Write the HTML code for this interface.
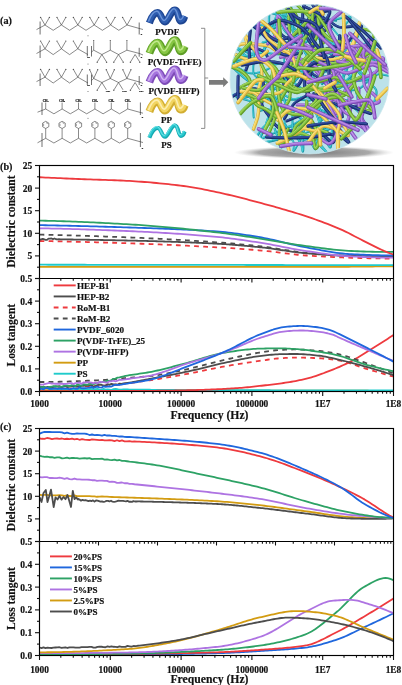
<!DOCTYPE html>
<html><head><meta charset="utf-8"><style>
html,body{margin:0;padding:0;background:#fff;width:402px;height:685px;overflow:hidden}
svg{display:block;will-change:transform}
text{font-family:"Liberation Serif",serif;font-weight:bold;fill:#111;stroke:#111;stroke-width:0.18px}
</style></head><body>
<svg width="402" height="685" viewBox="0 0 402 685">
<defs>
<clipPath id="cbu"><rect x="40.10" y="166.10" width="352.80" height="111.80"/></clipPath>
<clipPath id="cbl"><rect x="40.10" y="279.10" width="352.80" height="111.80"/></clipPath>
<clipPath id="ccu"><rect x="40.10" y="429.10" width="352.80" height="111.80"/></clipPath>
<clipPath id="ccl"><rect x="40.10" y="542.10" width="352.80" height="112.80"/></clipPath>
<clipPath id="sph"><ellipse cx="309.6" cy="79.2" rx="79.5" ry="74.7"/></clipPath>
<radialGradient id="sg" cx="0.5" cy="0.5" r="0.5"><stop offset="0" stop-color="#7a7a7a" stop-opacity="1"/><stop offset="0.7" stop-color="#9a9a9a" stop-opacity="0.85"/><stop offset="1" stop-color="#d0d0d0" stop-opacity="0"/></radialGradient>
</defs>
<g clip-path="url(#cbu)">
<path d="M39.5,266.97 L42.5,266.97 L45.5,266.97 L48.5,266.97 L51.5,266.97 L54.5,266.97 L57.5,266.97 L60.5,266.97 L63.5,266.97 L66.5,266.97 L69.5,266.97 L72.5,266.97 L75.5,266.97 L78.5,266.97 L81.5,266.97 L84.5,266.97 L87.5,266.97 L90.5,266.97 L93.5,266.97 L96.5,266.97 L99.5,266.97 L102.5,266.97 L105.5,266.97 L108.5,266.97 L111.5,266.97 L114.5,266.97 L117.5,266.97 L120.5,266.97 L123.5,266.97 L126.5,266.97 L129.5,266.97 L132.5,266.97 L135.5,266.97 L138.5,266.97 L141.5,266.97 L144.5,266.97 L147.5,266.97 L150.5,266.97 L153.5,266.97 L156.5,266.97 L159.5,266.97 L162.5,266.97 L165.5,266.97 L168.5,266.97 L171.5,266.97 L174.5,266.97 L177.5,266.97 L180.5,266.97 L183.5,266.97 L186.5,266.97 L189.5,266.97 L192.5,266.97 L195.5,266.97 L198.5,266.97 L201.5,266.97 L204.5,266.97 L207.5,266.97 L210.5,266.97 L213.5,266.97 L216.5,266.97 L219.5,266.97 L222.5,266.97 L225.5,266.97 L228.5,266.97 L231.5,266.97 L234.5,266.97 L237.5,266.97 L240.5,266.97 L243.5,266.97 L246.5,266.97 L249.5,266.97 L252.5,266.97 L255.5,266.97 L258.5,266.97 L261.5,266.97 L264.5,266.97 L267.5,266.97 L270.5,266.97 L273.5,266.97 L276.5,266.97 L279.5,266.97 L282.5,266.97 L285.5,266.97 L288.5,266.97 L291.5,266.97 L294.5,266.97 L297.5,266.97 L300.5,266.97 L303.5,266.97 L306.5,266.97 L309.5,266.96 L312.5,266.95 L315.5,266.94 L318.5,266.93 L321.5,266.92 L324.5,266.90 L327.5,266.88 L330.5,266.87 L333.5,266.85 L336.5,266.82 L339.5,266.80 L342.5,266.78 L345.5,266.75 L348.5,266.73 L351.5,266.70 L354.5,266.67 L357.5,266.64 L360.5,266.62 L363.5,266.59 L366.5,266.56 L369.5,266.53 L372.5,266.50 L375.5,266.47 L378.5,266.44 L381.5,266.41 L384.5,266.38 L387.5,266.35 L390.5,266.32 L393.5,266.30" fill="none" stroke="#D39C12" stroke-width="1.80" stroke-linejoin="round" stroke-linecap="butt" />
<path d="M39.5,264.71 L42.5,264.72 L45.5,264.72 L48.5,264.73 L51.5,264.73 L54.5,264.73 L57.5,264.74 L60.5,264.74 L63.5,264.74 L66.5,264.75 L69.5,264.75 L72.5,264.76 L75.5,264.76 L78.5,264.76 L81.5,264.77 L84.5,264.77 L87.5,264.78 L90.5,264.78 L93.5,264.78 L96.5,264.79 L99.5,264.79 L102.5,264.79 L105.5,264.80 L108.5,264.80 L111.5,264.81 L114.5,264.81 L117.5,264.81 L120.5,264.82 L123.5,264.82 L126.5,264.83 L129.5,264.83 L132.5,264.83 L135.5,264.84 L138.5,264.84 L141.5,264.84 L144.5,264.85 L147.5,264.85 L150.5,264.86 L153.5,264.86 L156.5,264.86 L159.5,264.87 L162.5,264.87 L165.5,264.87 L168.5,264.88 L171.5,264.88 L174.5,264.89 L177.5,264.89 L180.5,264.89 L183.5,264.90 L186.5,264.90 L189.5,264.91 L192.5,264.91 L195.5,264.91 L198.5,264.92 L201.5,264.92 L204.5,264.92 L207.5,264.93 L210.5,264.93 L213.5,264.94 L216.5,264.94 L219.5,264.94 L222.5,264.95 L225.5,264.95 L228.5,264.96 L231.5,264.96 L234.5,264.96 L237.5,264.97 L240.5,264.97 L243.5,264.97 L246.5,264.98 L249.5,264.98 L252.5,264.99 L255.5,264.99 L258.5,264.99 L261.5,265.00 L264.5,265.00 L267.5,265.01 L270.5,265.01 L273.5,265.01 L276.5,265.02 L279.5,265.02 L282.5,265.02 L285.5,265.03 L288.5,265.03 L291.5,265.04 L294.5,265.04 L297.5,265.04 L300.5,265.05 L303.5,265.05 L306.5,265.05 L309.5,265.06 L312.5,265.06 L315.5,265.07 L318.5,265.07 L321.5,265.07 L324.5,265.08 L327.5,265.08 L330.5,265.09 L333.5,265.09 L336.5,265.09 L339.5,265.10 L342.5,265.10 L345.5,265.10 L348.5,265.11 L351.5,265.11 L354.5,265.12 L357.5,265.12 L360.5,265.12 L363.5,265.13 L366.5,265.13 L369.5,265.14 L372.5,265.14 L375.5,265.14 L378.5,265.15 L381.5,265.15 L384.5,265.15 L387.5,265.16 L390.5,265.16 L393.5,265.17" fill="none" stroke="#1FCBCB" stroke-width="1.80" stroke-linejoin="round" stroke-linecap="butt" />
<path d="M39.5,240.98 L42.5,241.03 L45.5,241.08 L48.5,241.14 L51.5,241.19 L54.5,241.25 L57.5,241.31 L60.5,241.38 L63.5,241.44 L66.5,241.51 L69.5,241.58 L72.5,241.65 L75.5,241.72 L78.5,241.80 L81.5,241.87 L84.5,241.95 L87.5,242.03 L90.5,242.11 L93.5,242.20 L96.5,242.28 L99.5,242.37 L102.5,242.46 L105.5,242.55 L108.5,242.64 L111.5,242.73 L114.5,242.82 L117.5,242.92 L120.5,243.01 L123.5,243.11 L126.5,243.21 L129.5,243.31 L132.5,243.41 L135.5,243.51 L138.5,243.62 L141.5,243.73 L144.5,243.84 L147.5,243.96 L150.5,244.07 L153.5,244.19 L156.5,244.32 L159.5,244.44 L162.5,244.57 L165.5,244.70 L168.5,244.83 L171.5,244.97 L174.5,245.11 L177.5,245.25 L180.5,245.39 L183.5,245.53 L186.5,245.68 L189.5,245.83 L192.5,245.98 L195.5,246.14 L198.5,246.29 L201.5,246.45 L204.5,246.61 L207.5,246.78 L210.5,246.94 L213.5,247.11 L216.5,247.28 L219.5,247.46 L222.5,247.64 L225.5,247.82 L228.5,248.02 L231.5,248.21 L234.5,248.42 L237.5,248.63 L240.5,248.85 L243.5,249.07 L246.5,249.30 L249.5,249.53 L252.5,249.77 L255.5,250.02 L258.5,250.28 L261.5,250.54 L264.5,250.82 L267.5,251.14 L270.5,251.48 L273.5,251.84 L276.5,252.21 L279.5,252.59 L282.5,252.97 L285.5,253.35 L288.5,253.72 L291.5,254.08 L294.5,254.43 L297.5,254.74 L300.5,255.03 L303.5,255.29 L306.5,255.51 L309.5,255.71 L312.5,255.91 L315.5,256.10 L318.5,256.28 L321.5,256.46 L324.5,256.63 L327.5,256.79 L330.5,256.94 L333.5,257.08 L336.5,257.21 L339.5,257.34 L342.5,257.46 L345.5,257.56 L348.5,257.66 L351.5,257.75 L354.5,257.84 L357.5,257.92 L360.5,258.01 L363.5,258.09 L366.5,258.16 L369.5,258.24 L372.5,258.30 L375.5,258.37 L378.5,258.43 L381.5,258.48 L384.5,258.52 L387.5,258.56 L390.5,258.59 L393.5,258.61" fill="none" stroke="#EE3A3E" stroke-width="1.80" stroke-linejoin="round" stroke-linecap="butt" stroke-dasharray="4.8,4.3" />
<path d="M39.5,234.66 L42.5,234.71 L45.5,234.77 L48.5,234.84 L51.5,234.90 L54.5,234.97 L57.5,235.04 L60.5,235.12 L63.5,235.20 L66.5,235.28 L69.5,235.36 L72.5,235.44 L75.5,235.53 L78.5,235.62 L81.5,235.71 L84.5,235.81 L87.5,235.91 L90.5,236.00 L93.5,236.11 L96.5,236.21 L99.5,236.31 L102.5,236.42 L105.5,236.53 L108.5,236.64 L111.5,236.75 L114.5,236.86 L117.5,236.97 L120.5,237.09 L123.5,237.21 L126.5,237.32 L129.5,237.44 L132.5,237.57 L135.5,237.69 L138.5,237.82 L141.5,237.95 L144.5,238.09 L147.5,238.23 L150.5,238.37 L153.5,238.51 L156.5,238.66 L159.5,238.81 L162.5,238.97 L165.5,239.13 L168.5,239.29 L171.5,239.45 L174.5,239.62 L177.5,239.79 L180.5,239.96 L183.5,240.14 L186.5,240.32 L189.5,240.51 L192.5,240.69 L195.5,240.88 L198.5,241.08 L201.5,241.27 L204.5,241.47 L207.5,241.68 L210.5,241.88 L213.5,242.09 L216.5,242.30 L219.5,242.52 L222.5,242.75 L225.5,242.99 L228.5,243.23 L231.5,243.49 L234.5,243.75 L237.5,244.02 L240.5,244.30 L243.5,244.59 L246.5,244.89 L249.5,245.19 L252.5,245.51 L255.5,245.83 L258.5,246.15 L261.5,246.49 L264.5,246.85 L267.5,247.25 L270.5,247.68 L273.5,248.13 L276.5,248.60 L279.5,249.08 L282.5,249.56 L285.5,250.04 L288.5,250.51 L291.5,250.96 L294.5,251.40 L297.5,251.81 L300.5,252.19 L303.5,252.53 L306.5,252.82 L309.5,253.10 L312.5,253.37 L315.5,253.63 L318.5,253.88 L321.5,254.12 L324.5,254.36 L327.5,254.58 L330.5,254.79 L333.5,255.00 L336.5,255.19 L339.5,255.37 L342.5,255.53 L345.5,255.69 L348.5,255.83 L351.5,255.96 L354.5,256.09 L357.5,256.22 L360.5,256.34 L363.5,256.46 L366.5,256.57 L369.5,256.68 L372.5,256.78 L375.5,256.87 L378.5,256.96 L381.5,257.04 L384.5,257.11 L387.5,257.17 L390.5,257.22 L393.5,257.26" fill="none" stroke="#4D4D4D" stroke-width="1.80" stroke-linejoin="round" stroke-linecap="butt" stroke-dasharray="4.8,4.3" />
<path d="M39.5,239.27 L41.0,239.56 L42.5,238.82 L44.0,239.22 L45.5,239.92 L47.0,239.94 L48.5,238.56 L50.0,238.72 L51.5,238.46 L53.0,239.17 L54.5,238.50 L56.0,239.25 L57.5,239.47 L59.0,239.19 L60.5,239.41 L62.0,239.37 L63.5,239.39 L65.0,239.41 L66.5,239.43 L68.0,239.45 L69.5,239.47 L71.0,239.49 L72.5,239.51 L74.0,239.53 L75.5,239.55 L77.0,239.58 L78.5,239.60 L80.0,239.62 L81.5,239.64 L83.0,239.67 L84.5,239.69 L86.0,239.72 L87.5,239.74 L89.0,239.77 L90.5,239.80 L92.0,239.82 L93.5,239.85 L95.0,239.88 L96.5,239.90 L98.0,239.93 L99.5,239.96 L101.0,239.99 L102.5,240.02 L104.0,240.05 L105.5,240.08 L107.0,240.11 L108.5,240.14 L110.0,240.17 L111.5,240.20 L113.0,240.23 L114.5,240.26 L116.0,240.29 L117.5,240.32 L119.0,240.35 L120.5,240.38 L122.0,240.41 L123.5,240.44 L125.0,240.48 L126.5,240.51 L128.0,240.54 L129.5,240.57 L131.0,240.61 L132.5,240.64 L134.0,240.67 L135.5,240.71 L137.0,240.74 L138.5,240.78 L140.0,240.82 L141.5,240.86 L143.0,240.89 L144.5,240.93 L146.0,240.97 L147.5,241.01 L149.0,241.05 L150.5,241.09 L152.0,241.14 L153.5,241.18 L155.0,241.22 L156.5,241.27 L158.0,241.31 L159.5,241.36 L161.0,241.40 L162.5,241.45 L164.0,241.50 L165.5,241.54 L167.0,241.59 L168.5,241.64 L170.0,241.69 L171.5,241.75 L173.0,241.80 L174.5,241.85 L176.0,241.90 L177.5,241.96 L179.0,242.01 L180.5,242.07 L182.0,242.13 L183.5,242.18 L185.0,242.24 L186.5,242.30 L188.0,242.36 L189.5,242.42 L191.0,242.48 L192.5,242.55 L194.0,242.61 L195.5,242.68 L197.0,242.74 L198.5,242.81 L200.0,242.87 L201.5,242.94 L203.0,243.01 L204.5,243.08 L206.0,243.15 L207.5,243.22 L209.0,243.29 L210.5,243.37 L212.0,243.44 L213.5,243.52 L215.0,243.59 L216.5,243.67 L218.0,243.75 L219.5,243.83 L221.0,243.92 L222.5,244.01 L224.0,244.10 L225.5,244.20 L227.0,244.31 L228.5,244.41 L230.0,244.52 L231.5,244.63 L233.0,244.75 L234.5,244.87 L236.0,244.99 L237.5,245.12 L239.0,245.24 L240.5,245.37 L242.0,245.50 L243.5,245.64 L245.0,245.78 L246.5,245.91 L248.0,246.05 L249.5,246.20 L251.0,246.34 L252.5,246.49 L254.0,246.63 L255.5,246.78 L257.0,246.93 L258.5,247.08 L260.0,247.23 L261.5,247.38 L263.0,247.55 L264.5,247.72 L266.0,247.90 L267.5,248.09 L269.0,248.28 L270.5,248.48 L272.0,248.69 L273.5,248.91 L275.0,249.12 L276.5,249.34 L278.0,249.57 L279.5,249.79 L281.0,250.02 L282.5,250.24 L284.0,250.47 L285.5,250.70 L287.0,250.92 L288.5,251.14 L290.0,251.35 L291.5,251.56 L293.0,251.77 L294.5,251.97 L296.0,252.16 L297.5,252.35 L299.0,252.53 L300.5,252.70 L302.0,252.85 L303.5,253.00 L305.0,253.14 L306.5,253.26 L308.0,253.39 L309.5,253.51 L311.0,253.64 L312.5,253.76 L314.0,253.88 L315.5,254.00 L317.0,254.12 L318.5,254.24 L320.0,254.35 L321.5,254.46 L323.0,254.57 L324.5,254.68 L326.0,254.79 L327.5,254.89 L329.0,254.99 L330.5,255.08 L332.0,255.17 L333.5,255.26 L335.0,255.34 L336.5,255.42 L338.0,255.50 L339.5,255.57 L341.0,255.63 L342.5,255.69 L344.0,255.74 L345.5,255.79 L347.0,255.83 L348.5,255.87 L350.0,255.90 L351.5,255.93 L353.0,255.95 L354.5,255.98 L356.0,256.00 L357.5,256.03 L359.0,256.05 L360.5,256.07 L362.0,256.10 L363.5,256.12 L365.0,256.14 L366.5,256.16 L368.0,256.18 L369.5,256.20 L371.0,256.21 L372.5,256.23 L374.0,256.25 L375.5,256.26 L377.0,256.28 L378.5,256.29 L380.0,256.30 L381.5,256.31 L383.0,256.32 L384.5,256.33 L386.0,256.34 L387.5,256.34 L389.0,256.35 L390.5,256.35 L392.0,256.35 L393.5,256.35" fill="none" stroke="#4D4D4D" stroke-width="1.80" stroke-linejoin="round" stroke-linecap="butt" />
<path d="M39.5,228.33 L42.5,228.37 L45.5,228.42 L48.5,228.47 L51.5,228.53 L54.5,228.59 L57.5,228.65 L60.5,228.72 L63.5,228.79 L66.5,228.87 L69.5,228.95 L72.5,229.03 L75.5,229.12 L78.5,229.21 L81.5,229.31 L84.5,229.40 L87.5,229.50 L90.5,229.60 L93.5,229.71 L96.5,229.81 L99.5,229.92 L102.5,230.04 L105.5,230.15 L108.5,230.27 L111.5,230.38 L114.5,230.50 L117.5,230.62 L120.5,230.75 L123.5,230.87 L126.5,230.99 L129.5,231.12 L132.5,231.25 L135.5,231.39 L138.5,231.53 L141.5,231.67 L144.5,231.82 L147.5,231.97 L150.5,232.13 L153.5,232.29 L156.5,232.46 L159.5,232.63 L162.5,232.81 L165.5,232.99 L168.5,233.18 L171.5,233.37 L174.5,233.56 L177.5,233.77 L180.5,233.97 L183.5,234.19 L186.5,234.40 L189.5,234.62 L192.5,234.85 L195.5,235.09 L198.5,235.32 L201.5,235.57 L204.5,235.82 L207.5,236.07 L210.5,236.33 L213.5,236.60 L216.5,236.87 L219.5,237.15 L222.5,237.46 L225.5,237.80 L228.5,238.15 L231.5,238.52 L234.5,238.91 L237.5,239.32 L240.5,239.74 L243.5,240.17 L246.5,240.61 L249.5,241.06 L252.5,241.52 L255.5,241.97 L258.5,242.44 L261.5,242.90 L264.5,243.39 L267.5,243.91 L270.5,244.45 L273.5,245.01 L276.5,245.59 L279.5,246.18 L282.5,246.77 L285.5,247.36 L288.5,247.94 L291.5,248.52 L294.5,249.08 L297.5,249.62 L300.5,250.13 L303.5,250.61 L306.5,251.06 L309.5,251.50 L312.5,251.95 L315.5,252.40 L318.5,252.85 L321.5,253.29 L324.5,253.72 L327.5,254.13 L330.5,254.53 L333.5,254.90 L336.5,255.25 L339.5,255.56 L342.5,255.84 L345.5,256.08 L348.5,256.27 L351.5,256.43 L354.5,256.57 L357.5,256.71 L360.5,256.85 L363.5,256.98 L366.5,257.10 L369.5,257.22 L372.5,257.32 L375.5,257.42 L378.5,257.50 L381.5,257.57 L384.5,257.63 L387.5,257.67 L390.5,257.70 L393.5,257.71" fill="none" stroke="#AE73E2" stroke-width="1.80" stroke-linejoin="round" stroke-linecap="butt" />
<path d="M39.5,225.16 L42.5,225.21 L45.5,225.26 L48.5,225.32 L51.5,225.37 L54.5,225.43 L57.5,225.49 L60.5,225.56 L63.5,225.62 L66.5,225.69 L69.5,225.76 L72.5,225.83 L75.5,225.90 L78.5,225.98 L81.5,226.05 L84.5,226.13 L87.5,226.21 L90.5,226.29 L93.5,226.38 L96.5,226.46 L99.5,226.55 L102.5,226.64 L105.5,226.73 L108.5,226.82 L111.5,226.91 L114.5,227.00 L117.5,227.10 L120.5,227.19 L123.5,227.29 L126.5,227.39 L129.5,227.49 L132.5,227.58 L135.5,227.68 L138.5,227.78 L141.5,227.88 L144.5,227.98 L147.5,228.09 L150.5,228.19 L153.5,228.30 L156.5,228.40 L159.5,228.51 L162.5,228.63 L165.5,228.74 L168.5,228.86 L171.5,228.99 L174.5,229.11 L177.5,229.24 L180.5,229.38 L183.5,229.52 L186.5,229.67 L189.5,229.82 L192.5,229.97 L195.5,230.13 L198.5,230.30 L201.5,230.48 L204.5,230.66 L207.5,230.85 L210.5,231.04 L213.5,231.25 L216.5,231.46 L219.5,231.68 L222.5,231.95 L225.5,232.25 L228.5,232.57 L231.5,232.93 L234.5,233.31 L237.5,233.71 L240.5,234.14 L243.5,234.58 L246.5,235.04 L249.5,235.51 L252.5,236.00 L255.5,236.49 L258.5,236.98 L261.5,237.49 L264.5,238.03 L267.5,238.62 L270.5,239.26 L273.5,239.94 L276.5,240.64 L279.5,241.36 L282.5,242.09 L285.5,242.83 L288.5,243.56 L291.5,244.29 L294.5,244.99 L297.5,245.67 L300.5,246.32 L303.5,246.92 L306.5,247.48 L309.5,248.03 L312.5,248.60 L315.5,249.17 L318.5,249.73 L321.5,250.29 L324.5,250.84 L327.5,251.37 L330.5,251.87 L333.5,252.34 L336.5,252.77 L339.5,253.16 L342.5,253.50 L345.5,253.78 L348.5,254.01 L351.5,254.17 L354.5,254.32 L357.5,254.46 L360.5,254.60 L363.5,254.73 L366.5,254.86 L369.5,254.97 L372.5,255.08 L375.5,255.17 L378.5,255.25 L381.5,255.32 L384.5,255.37 L387.5,255.41 L390.5,255.44 L393.5,255.45" fill="none" stroke="#1F67DD" stroke-width="1.80" stroke-linejoin="round" stroke-linecap="butt" />
<path d="M39.5,220.64 L42.5,220.70 L45.5,220.76 L48.5,220.82 L51.5,220.89 L54.5,220.97 L57.5,221.05 L60.5,221.14 L63.5,221.24 L66.5,221.34 L69.5,221.45 L72.5,221.56 L75.5,221.67 L78.5,221.80 L81.5,221.92 L84.5,222.05 L87.5,222.18 L90.5,222.32 L93.5,222.46 L96.5,222.61 L99.5,222.75 L102.5,222.90 L105.5,223.06 L108.5,223.21 L111.5,223.37 L114.5,223.53 L117.5,223.70 L120.5,223.86 L123.5,224.03 L126.5,224.20 L129.5,224.37 L132.5,224.55 L135.5,224.74 L138.5,224.93 L141.5,225.14 L144.5,225.35 L147.5,225.57 L150.5,225.80 L153.5,226.04 L156.5,226.28 L159.5,226.54 L162.5,226.79 L165.5,227.06 L168.5,227.33 L171.5,227.60 L174.5,227.89 L177.5,228.17 L180.5,228.47 L183.5,228.77 L186.5,229.07 L189.5,229.38 L192.5,229.69 L195.5,230.01 L198.5,230.33 L201.5,230.66 L204.5,230.99 L207.5,231.32 L210.5,231.66 L213.5,232.00 L216.5,232.34 L219.5,232.69 L222.5,233.06 L225.5,233.45 L228.5,233.85 L231.5,234.27 L234.5,234.70 L237.5,235.14 L240.5,235.59 L243.5,236.05 L246.5,236.51 L249.5,236.98 L252.5,237.44 L255.5,237.91 L258.5,238.37 L261.5,238.83 L264.5,239.30 L267.5,239.79 L270.5,240.28 L273.5,240.79 L276.5,241.30 L279.5,241.82 L282.5,242.33 L285.5,242.85 L288.5,243.35 L291.5,243.85 L294.5,244.33 L297.5,244.80 L300.5,245.25 L303.5,245.67 L306.5,246.08 L309.5,246.48 L312.5,246.89 L315.5,247.30 L318.5,247.71 L321.5,248.11 L324.5,248.50 L327.5,248.88 L330.5,249.25 L333.5,249.59 L336.5,249.91 L339.5,250.20 L342.5,250.45 L345.5,250.67 L348.5,250.85 L351.5,251.00 L354.5,251.13 L357.5,251.26 L360.5,251.39 L363.5,251.50 L366.5,251.60 L369.5,251.69 L372.5,251.76 L375.5,251.80 L378.5,251.83 L381.5,251.83 L384.5,251.83 L387.5,251.83 L390.5,251.83 L393.5,251.83" fill="none" stroke="#2DA265" stroke-width="1.80" stroke-linejoin="round" stroke-linecap="butt" />
<path d="M39.5,177.25 L42.5,177.39 L45.5,177.54 L48.5,177.68 L51.5,177.81 L54.5,177.95 L57.5,178.09 L60.5,178.22 L63.5,178.36 L66.5,178.49 L69.5,178.62 L72.5,178.75 L75.5,178.87 L78.5,179.00 L81.5,179.12 L84.5,179.24 L87.5,179.35 L90.5,179.45 L93.5,179.55 L96.5,179.65 L99.5,179.75 L102.5,179.85 L105.5,179.95 L108.5,180.05 L111.5,180.16 L114.5,180.27 L117.5,180.39 L120.5,180.52 L123.5,180.66 L126.5,180.81 L129.5,180.97 L132.5,181.15 L135.5,181.34 L138.5,181.54 L141.5,181.75 L144.5,181.98 L147.5,182.22 L150.5,182.47 L153.5,182.73 L156.5,183.01 L159.5,183.30 L162.5,183.60 L165.5,183.91 L168.5,184.23 L171.5,184.56 L174.5,184.90 L177.5,185.26 L180.5,185.62 L183.5,186.00 L186.5,186.38 L189.5,186.81 L192.5,187.28 L195.5,187.80 L198.5,188.35 L201.5,188.92 L204.5,189.53 L207.5,190.15 L210.5,190.78 L213.5,191.42 L216.5,192.06 L219.5,192.71 L222.5,193.37 L225.5,194.05 L228.5,194.75 L231.5,195.46 L234.5,196.19 L237.5,196.94 L240.5,197.69 L243.5,198.46 L246.5,199.23 L249.5,200.01 L252.5,200.80 L255.5,201.60 L258.5,202.40 L261.5,203.20 L264.5,204.01 L267.5,204.82 L270.5,205.64 L273.5,206.47 L276.5,207.31 L279.5,208.15 L282.5,209.01 L285.5,209.88 L288.5,210.77 L291.5,211.67 L294.5,212.58 L297.5,213.51 L300.5,214.46 L303.5,215.43 L306.5,216.42 L309.5,217.43 L312.5,218.46 L315.5,219.51 L318.5,220.59 L321.5,221.69 L324.5,222.81 L327.5,223.96 L330.5,225.14 L333.5,226.35 L336.5,227.59 L339.5,228.86 L342.5,230.17 L345.5,231.58 L348.5,233.06 L351.5,234.61 L354.5,236.18 L357.5,237.76 L360.5,239.32 L363.5,240.84 L366.5,242.32 L369.5,243.84 L372.5,245.35 L375.5,246.86 L378.5,248.33 L381.5,249.76 L384.5,251.11 L387.5,252.38 L390.5,253.52 L393.5,254.54" fill="none" stroke="#EE3A3E" stroke-width="1.80" stroke-linejoin="round" stroke-linecap="butt" />
</g>
<g clip-path="url(#cbl)">
<path d="M39.5,390.14 L41.5,390.15 L43.5,390.15 L45.5,390.16 L47.5,390.16 L49.5,390.16 L51.5,390.17 L53.5,390.17 L55.5,390.17 L57.5,390.18 L59.5,390.18 L61.5,390.19 L63.5,390.19 L65.5,390.19 L67.5,390.20 L69.5,390.20 L71.5,390.21 L73.5,390.21 L75.5,390.21 L77.5,390.22 L79.5,390.22 L81.5,390.22 L83.5,390.23 L85.5,390.23 L87.5,390.24 L89.5,390.24 L91.5,390.24 L93.5,390.25 L95.5,390.25 L97.5,390.26 L99.5,390.26 L101.5,390.26 L103.5,390.27 L105.5,390.27 L107.5,390.27 L109.5,390.28 L111.5,390.28 L113.5,390.29 L115.5,390.29 L117.5,390.29 L119.5,390.30 L121.5,390.30 L123.5,390.30 L125.5,390.31 L127.5,390.31 L129.5,390.32 L131.5,390.32 L133.5,390.32 L135.5,390.33 L137.5,390.33 L139.5,390.34 L141.5,390.34 L143.5,390.34 L145.5,390.35 L147.5,390.35 L149.5,390.35 L151.5,390.36 L153.5,390.36 L155.5,390.37 L157.5,390.37 L159.5,390.37 L161.5,390.38 L163.5,390.38 L165.5,390.39 L167.5,390.39 L169.5,390.39 L171.5,390.40 L173.5,390.40 L175.5,390.40 L177.5,390.41 L179.5,390.41 L181.5,390.42 L183.5,390.42 L185.5,390.42 L187.5,390.43 L189.5,390.43 L191.5,390.44 L193.5,390.44 L195.5,390.44 L197.5,390.45 L199.5,390.45 L201.5,390.45 L203.5,390.46 L205.5,390.46 L207.5,390.47 L209.5,390.47 L211.5,390.47 L213.5,390.48 L215.5,390.48 L217.5,390.48 L219.5,390.49 L221.5,390.49 L223.5,390.50 L225.5,390.50 L227.5,390.50 L229.5,390.51 L231.5,390.51 L233.5,390.52 L235.5,390.52 L237.5,390.52 L239.5,390.53 L241.5,390.53 L243.5,390.53 L245.5,390.54 L247.5,390.54 L249.5,390.55 L251.5,390.55 L253.5,390.55 L255.5,390.56 L257.5,390.56 L259.5,390.57 L261.5,390.57 L263.5,390.57 L265.5,390.58 L267.5,390.58 L269.5,390.58 L271.5,390.59 L273.5,390.59 L275.5,390.60 L277.5,390.60 L279.5,390.60 L281.5,390.61 L283.5,390.61 L285.5,390.62 L287.5,390.62 L289.5,390.62 L291.5,390.63 L293.5,390.63 L295.5,390.63 L297.5,390.64 L299.5,390.64 L301.5,390.65 L303.5,390.65 L305.5,390.65 L307.5,390.66 L309.5,390.66 L311.5,390.66 L313.5,390.67 L315.5,390.67 L317.5,390.68 L319.5,390.68 L321.5,390.68 L323.5,390.69 L325.5,390.69 L327.5,390.70 L329.5,390.70 L331.5,390.70 L333.5,390.71 L335.5,390.71 L337.5,390.71 L339.5,390.72 L341.5,390.72 L343.5,390.73 L345.5,390.73 L347.5,390.73 L349.5,390.74 L351.5,390.74 L353.5,390.75 L355.5,390.75 L357.5,390.75 L359.5,390.76 L361.5,390.76 L363.5,390.76 L365.5,390.77 L367.5,390.77 L369.5,390.78 L371.5,390.78 L373.5,390.78 L375.5,390.79 L377.5,390.79 L379.5,390.80 L381.5,390.80 L383.5,390.80 L385.5,390.81 L387.5,390.81 L389.5,390.81 L391.5,390.82 L393.5,390.82" fill="none" stroke="#D39C12" stroke-width="1.80" stroke-linejoin="round" stroke-linecap="butt" />
<path d="M39.5,389.42 L41.5,388.53 L43.5,389.33 L45.5,388.10 L47.5,388.22 L49.5,389.01 L51.5,388.92 L53.5,388.76 L55.5,388.64 L57.5,389.11 L59.5,388.83 L61.5,389.32 L63.5,388.99 L65.5,389.10 L67.5,389.22 L69.5,389.79 L71.5,389.53 L73.5,388.89 L75.5,389.65 L77.5,389.58 L79.5,388.37 L81.5,389.44 L83.5,389.59 L85.5,389.50 L87.5,389.47 L89.5,389.22 L91.5,388.57 L93.5,389.92 L95.5,389.05 L97.5,388.77 L99.5,389.58 L101.5,390.04 L103.5,388.88 L105.5,389.56 L107.5,389.46 L109.5,389.67 L111.5,390.04 L113.5,389.13 L115.5,388.99 L117.5,389.26 L119.5,389.70 L121.5,389.60 L123.5,389.44 L125.5,389.49 L127.5,389.51 L129.5,389.53 L131.5,389.56 L133.5,389.58 L135.5,389.60 L137.5,389.63 L139.5,389.65 L141.5,389.67 L143.5,389.69 L145.5,389.72 L147.5,389.74 L149.5,389.76 L151.5,389.78 L153.5,389.80 L155.5,389.82 L157.5,389.85 L159.5,389.87 L161.5,389.89 L163.5,389.91 L165.5,389.93 L167.5,389.94 L169.5,389.96 L171.5,389.98 L173.5,390.00 L175.5,390.01 L177.5,390.03 L179.5,390.04 L181.5,390.06 L183.5,390.07 L185.5,390.08 L187.5,390.09 L189.5,390.11 L191.5,390.11 L193.5,390.12 L195.5,390.13 L197.5,390.14 L199.5,390.14 L201.5,390.15 L203.5,390.15 L205.5,390.16 L207.5,390.16 L209.5,390.16 L211.5,390.17 L213.5,390.17 L215.5,390.18 L217.5,390.18 L219.5,390.19 L221.5,390.19 L223.5,390.19 L225.5,390.20 L227.5,390.20 L229.5,390.21 L231.5,390.21 L233.5,390.21 L235.5,390.22 L237.5,390.22 L239.5,390.22 L241.5,390.23 L243.5,390.23 L245.5,390.24 L247.5,390.24 L249.5,390.24 L251.5,390.25 L253.5,390.25 L255.5,390.25 L257.5,390.26 L259.5,390.26 L261.5,390.26 L263.5,390.27 L265.5,390.27 L267.5,390.27 L269.5,390.27 L271.5,390.28 L273.5,390.28 L275.5,390.28 L277.5,390.29 L279.5,390.29 L281.5,390.29 L283.5,390.29 L285.5,390.30 L287.5,390.30 L289.5,390.30 L291.5,390.31 L293.5,390.31 L295.5,390.31 L297.5,390.31 L299.5,390.31 L301.5,390.32 L303.5,390.32 L305.5,390.32 L307.5,390.32 L309.5,390.33 L311.5,390.33 L313.5,390.33 L315.5,390.33 L317.5,390.33 L319.5,390.34 L321.5,390.34 L323.5,390.34 L325.5,390.34 L327.5,390.34 L329.5,390.34 L331.5,390.35 L333.5,390.35 L335.5,390.35 L337.5,390.35 L339.5,390.35 L341.5,390.35 L343.5,390.35 L345.5,390.36 L347.5,390.36 L349.5,390.36 L351.5,390.36 L353.5,390.36 L355.5,390.36 L357.5,390.36 L359.5,390.36 L361.5,390.36 L363.5,390.36 L365.5,390.36 L367.5,390.37 L369.5,390.37 L371.5,390.37 L373.5,390.37 L375.5,390.37 L377.5,390.37 L379.5,390.37 L381.5,390.37 L383.5,390.37 L385.5,390.37 L387.5,390.37 L389.5,390.37 L391.5,390.37 L393.5,390.37" fill="none" stroke="#1FCBCB" stroke-width="1.80" stroke-linejoin="round" stroke-linecap="butt" />
<path d="M39.5,391.05 L41.5,391.05 L43.5,391.05 L45.5,391.05 L47.5,391.05 L49.5,391.05 L51.5,391.05 L53.5,391.04 L55.5,391.04 L57.5,391.04 L59.5,391.04 L61.5,391.04 L63.5,391.04 L65.5,391.04 L67.5,391.03 L69.5,391.03 L71.5,391.03 L73.5,391.03 L75.5,391.02 L77.5,391.02 L79.5,391.02 L81.5,391.02 L83.5,391.01 L85.5,391.01 L87.5,391.01 L89.5,391.00 L91.5,391.00 L93.5,390.99 L95.5,390.99 L97.5,390.99 L99.5,390.98 L101.5,390.98 L103.5,390.97 L105.5,390.97 L107.5,390.96 L109.5,390.96 L111.5,390.95 L113.5,390.95 L115.5,390.94 L117.5,390.94 L119.5,390.93 L121.5,390.92 L123.5,390.92 L125.5,390.91 L127.5,390.90 L129.5,390.90 L131.5,390.89 L133.5,390.88 L135.5,390.88 L137.5,390.87 L139.5,390.86 L141.5,390.86 L143.5,390.85 L145.5,390.84 L147.5,390.83 L149.5,390.82 L151.5,390.82 L153.5,390.80 L155.5,390.79 L157.5,390.77 L159.5,390.75 L161.5,390.73 L163.5,390.70 L165.5,390.68 L167.5,390.65 L169.5,390.61 L171.5,390.58 L173.5,390.54 L175.5,390.50 L177.5,390.46 L179.5,390.42 L181.5,390.38 L183.5,390.33 L185.5,390.29 L187.5,390.24 L189.5,390.19 L191.5,390.14 L193.5,390.09 L195.5,390.04 L197.5,389.99 L199.5,389.93 L201.5,389.88 L203.5,389.81 L205.5,389.75 L207.5,389.68 L209.5,389.60 L211.5,389.52 L213.5,389.43 L215.5,389.34 L217.5,389.24 L219.5,389.14 L221.5,389.03 L223.5,388.93 L225.5,388.81 L227.5,388.70 L229.5,388.57 L231.5,388.45 L233.5,388.32 L235.5,388.19 L237.5,388.06 L239.5,387.92 L241.5,387.78 L243.5,387.62 L245.5,387.45 L247.5,387.26 L249.5,387.07 L251.5,386.87 L253.5,386.65 L255.5,386.43 L257.5,386.21 L259.5,385.98 L261.5,385.74 L263.5,385.50 L265.5,385.26 L267.5,385.02 L269.5,384.78 L271.5,384.54 L273.5,384.30 L275.5,384.05 L277.5,383.80 L279.5,383.55 L281.5,383.28 L283.5,383.00 L285.5,382.71 L287.5,382.41 L289.5,382.09 L291.5,381.75 L293.5,381.40 L295.5,381.02 L297.5,380.63 L299.5,380.22 L301.5,379.78 L303.5,379.33 L305.5,378.86 L307.5,378.36 L309.5,377.85 L311.5,377.30 L313.5,376.71 L315.5,376.07 L317.5,375.40 L319.5,374.70 L321.5,373.97 L323.5,373.22 L325.5,372.46 L327.5,371.68 L329.5,370.90 L331.5,370.12 L333.5,369.32 L335.5,368.50 L337.5,367.67 L339.5,366.81 L341.5,365.93 L343.5,365.03 L345.5,364.10 L347.5,363.14 L349.5,362.15 L351.5,361.11 L353.5,360.02 L355.5,358.88 L357.5,357.70 L359.5,356.48 L361.5,355.24 L363.5,353.99 L365.5,352.73 L367.5,351.47 L369.5,350.22 L371.5,348.99 L373.5,347.75 L375.5,346.51 L377.5,345.25 L379.5,343.99 L381.5,342.73 L383.5,341.46 L385.5,340.18 L387.5,338.89 L389.5,337.60 L391.5,336.30 L393.5,335.00" fill="none" stroke="#EE3A3E" stroke-width="1.80" stroke-linejoin="round" stroke-linecap="butt" />
<path d="M39.5,386.98 L41.5,386.98 L43.5,386.97 L45.5,386.97 L47.5,386.96 L49.5,386.94 L51.5,386.93 L53.5,386.91 L55.5,386.89 L57.5,386.86 L59.5,386.84 L61.5,386.81 L63.5,386.78 L65.5,386.74 L67.5,386.71 L69.5,386.67 L71.5,386.63 L73.5,386.58 L75.5,386.54 L77.5,386.49 L79.5,386.45 L81.5,386.39 L83.5,386.34 L85.5,386.29 L87.5,386.23 L89.5,386.18 L91.5,386.12 L93.5,386.06 L95.5,385.99 L97.5,385.93 L99.5,385.87 L101.5,385.79 L103.5,385.70 L105.5,385.59 L107.5,385.46 L109.5,385.31 L111.5,385.15 L113.5,384.97 L115.5,384.77 L117.5,384.56 L119.5,384.34 L121.5,384.11 L123.5,383.86 L125.5,383.61 L127.5,383.35 L129.5,383.09 L131.5,382.81 L133.5,382.53 L135.5,382.25 L137.5,381.97 L139.5,381.68 L141.5,381.40 L143.5,381.11 L145.5,380.83 L147.5,380.55 L149.5,380.27 L151.5,379.99 L153.5,379.70 L155.5,379.41 L157.5,379.10 L159.5,378.79 L161.5,378.46 L163.5,378.13 L165.5,377.80 L167.5,377.45 L169.5,377.10 L171.5,376.75 L173.5,376.39 L175.5,376.03 L177.5,375.67 L179.5,375.31 L181.5,374.94 L183.5,374.57 L185.5,374.20 L187.5,373.84 L189.5,373.46 L191.5,373.08 L193.5,372.68 L195.5,372.28 L197.5,371.87 L199.5,371.46 L201.5,371.04 L203.5,370.62 L205.5,370.20 L207.5,369.78 L209.5,369.36 L211.5,368.95 L213.5,368.54 L215.5,368.14 L217.5,367.74 L219.5,367.35 L221.5,366.98 L223.5,366.61 L225.5,366.26 L227.5,365.91 L229.5,365.56 L231.5,365.22 L233.5,364.89 L235.5,364.55 L237.5,364.23 L239.5,363.90 L241.5,363.58 L243.5,363.27 L245.5,362.95 L247.5,362.65 L249.5,362.34 L251.5,362.04 L253.5,361.75 L255.5,361.46 L257.5,361.17 L259.5,360.89 L261.5,360.61 L263.5,360.33 L265.5,360.04 L267.5,359.74 L269.5,359.46 L271.5,359.18 L273.5,358.92 L275.5,358.68 L277.5,358.48 L279.5,358.31 L281.5,358.18 L283.5,358.05 L285.5,357.93 L287.5,357.82 L289.5,357.72 L291.5,357.65 L293.5,357.61 L295.5,357.60 L297.5,357.61 L299.5,357.63 L301.5,357.66 L303.5,357.70 L305.5,357.74 L307.5,357.80 L309.5,357.86 L311.5,357.93 L313.5,358.01 L315.5,358.09 L317.5,358.17 L319.5,358.26 L321.5,358.35 L323.5,358.49 L325.5,358.65 L327.5,358.84 L329.5,359.05 L331.5,359.29 L333.5,359.55 L335.5,359.82 L337.5,360.13 L339.5,360.50 L341.5,360.94 L343.5,361.43 L345.5,361.97 L347.5,362.55 L349.5,363.17 L351.5,363.81 L353.5,364.48 L355.5,365.16 L357.5,365.85 L359.5,366.54 L361.5,367.22 L363.5,367.89 L365.5,368.55 L367.5,369.18 L369.5,369.78 L371.5,370.35 L373.5,370.93 L375.5,371.50 L377.5,372.07 L379.5,372.64 L381.5,373.21 L383.5,373.77 L385.5,374.34 L387.5,374.90 L389.5,375.46 L391.5,376.02 L393.5,376.58" fill="none" stroke="#EE3A3E" stroke-width="1.80" stroke-linejoin="round" stroke-linecap="butt" stroke-dasharray="4.8,4.3" />
<path d="M39.5,386.54 L41.5,387.57 L43.5,386.50 L45.5,387.63 L47.5,386.93 L49.5,387.10 L51.5,387.33 L53.5,386.90 L55.5,386.52 L57.5,386.31 L59.5,386.10 L61.5,387.11 L63.5,386.59 L65.5,386.09 L67.5,387.19 L69.5,386.17 L71.5,386.33 L73.5,386.08 L75.5,386.55 L77.5,386.41 L79.5,386.37 L81.5,385.77 L83.5,385.73 L85.5,385.60 L87.5,385.64 L89.5,385.27 L91.5,385.22 L93.5,386.42 L95.5,386.33 L97.5,385.01 L99.5,384.66 L101.5,384.85 L103.5,385.54 L105.5,385.53 L107.5,384.18 L109.5,384.91 L111.5,383.81 L113.5,384.44 L115.5,384.44 L117.5,384.74 L119.5,383.53 L121.5,383.78 L123.5,383.44 L125.5,383.09 L127.5,382.85 L129.5,382.58 L131.5,382.28 L133.5,381.96 L135.5,381.61 L137.5,381.24 L139.5,380.87 L141.5,380.48 L143.5,380.09 L145.5,379.70 L147.5,379.31 L149.5,378.94 L151.5,378.57 L153.5,378.20 L155.5,377.83 L157.5,377.46 L159.5,377.09 L161.5,376.71 L163.5,376.34 L165.5,375.96 L167.5,375.58 L169.5,375.20 L171.5,374.81 L173.5,374.42 L175.5,374.03 L177.5,373.63 L179.5,373.23 L181.5,372.82 L183.5,372.41 L185.5,371.99 L187.5,371.57 L189.5,371.13 L191.5,370.69 L193.5,370.22 L195.5,369.75 L197.5,369.27 L199.5,368.78 L201.5,368.29 L203.5,367.80 L205.5,367.30 L207.5,366.80 L209.5,366.30 L211.5,365.81 L213.5,365.33 L215.5,364.85 L217.5,364.37 L219.5,363.91 L221.5,363.46 L223.5,363.03 L225.5,362.61 L227.5,362.19 L229.5,361.76 L231.5,361.33 L233.5,360.90 L235.5,360.47 L237.5,360.05 L239.5,359.63 L241.5,359.22 L243.5,358.81 L245.5,358.42 L247.5,358.04 L249.5,357.67 L251.5,357.32 L253.5,356.98 L255.5,356.67 L257.5,356.37 L259.5,356.10 L261.5,355.85 L263.5,355.62 L265.5,355.39 L267.5,355.16 L269.5,354.95 L271.5,354.75 L273.5,354.57 L275.5,354.42 L277.5,354.31 L279.5,354.22 L281.5,354.17 L283.5,354.13 L285.5,354.09 L287.5,354.05 L289.5,354.02 L291.5,354.00 L293.5,353.99 L295.5,353.99 L297.5,354.01 L299.5,354.07 L301.5,354.15 L303.5,354.26 L305.5,354.39 L307.5,354.54 L309.5,354.71 L311.5,354.90 L313.5,355.10 L315.5,355.30 L317.5,355.52 L319.5,355.74 L321.5,355.98 L323.5,356.29 L325.5,356.65 L327.5,357.06 L329.5,357.51 L331.5,357.97 L333.5,358.43 L335.5,358.89 L337.5,359.34 L339.5,359.80 L341.5,360.27 L343.5,360.76 L345.5,361.25 L347.5,361.75 L349.5,362.26 L351.5,362.78 L353.5,363.31 L355.5,363.84 L357.5,364.39 L359.5,364.93 L361.5,365.49 L363.5,366.04 L365.5,366.61 L367.5,367.17 L369.5,367.74 L371.5,368.32 L373.5,368.90 L375.5,369.50 L377.5,370.10 L379.5,370.72 L381.5,371.34 L383.5,371.97 L385.5,372.61 L387.5,373.25 L389.5,373.91 L391.5,374.56 L393.5,375.23" fill="none" stroke="#4D4D4D" stroke-width="1.80" stroke-linejoin="round" stroke-linecap="butt" />
<path d="M39.5,382.01 L41.5,382.01 L43.5,382.00 L45.5,381.98 L47.5,381.96 L49.5,381.94 L51.5,381.91 L53.5,381.88 L55.5,381.84 L57.5,381.80 L59.5,381.75 L61.5,381.70 L63.5,381.65 L65.5,381.59 L67.5,381.53 L69.5,381.47 L71.5,381.40 L73.5,381.33 L75.5,381.26 L77.5,381.18 L79.5,381.10 L81.5,381.02 L83.5,380.94 L85.5,380.85 L87.5,380.77 L89.5,380.68 L91.5,380.59 L93.5,380.50 L95.5,380.41 L97.5,380.32 L99.5,380.22 L101.5,380.12 L103.5,380.00 L105.5,379.87 L107.5,379.71 L109.5,379.55 L111.5,379.37 L113.5,379.19 L115.5,379.00 L117.5,378.80 L119.5,378.61 L121.5,378.42 L123.5,378.24 L125.5,378.06 L127.5,377.90 L129.5,377.75 L131.5,377.60 L133.5,377.46 L135.5,377.32 L137.5,377.18 L139.5,377.04 L141.5,376.89 L143.5,376.74 L145.5,376.57 L147.5,376.39 L149.5,376.19 L151.5,375.96 L153.5,375.71 L155.5,375.44 L157.5,375.14 L159.5,374.82 L161.5,374.48 L163.5,374.12 L165.5,373.74 L167.5,373.36 L169.5,372.95 L171.5,372.54 L173.5,372.12 L175.5,371.69 L177.5,371.26 L179.5,370.82 L181.5,370.38 L183.5,369.95 L185.5,369.51 L187.5,369.08 L189.5,368.64 L191.5,368.19 L193.5,367.71 L195.5,367.23 L197.5,366.73 L199.5,366.22 L201.5,365.71 L203.5,365.19 L205.5,364.66 L207.5,364.14 L209.5,363.61 L211.5,363.09 L213.5,362.57 L215.5,362.06 L217.5,361.55 L219.5,361.06 L221.5,360.58 L223.5,360.11 L225.5,359.66 L227.5,359.20 L229.5,358.75 L231.5,358.30 L233.5,357.84 L235.5,357.39 L237.5,356.94 L239.5,356.50 L241.5,356.06 L243.5,355.63 L245.5,355.21 L247.5,354.80 L249.5,354.39 L251.5,354.00 L253.5,353.62 L255.5,353.25 L257.5,352.90 L259.5,352.57 L261.5,352.25 L263.5,351.95 L265.5,351.63 L267.5,351.33 L269.5,351.03 L271.5,350.74 L273.5,350.49 L275.5,350.26 L277.5,350.08 L279.5,349.94 L281.5,349.85 L283.5,349.76 L285.5,349.67 L287.5,349.60 L289.5,349.54 L291.5,349.50 L293.5,349.47 L295.5,349.46 L297.5,349.49 L299.5,349.54 L301.5,349.61 L303.5,349.71 L305.5,349.83 L307.5,349.96 L309.5,350.11 L311.5,350.28 L313.5,350.45 L315.5,350.63 L317.5,350.81 L319.5,351.00 L321.5,351.20 L323.5,351.43 L325.5,351.70 L327.5,352.01 L329.5,352.34 L331.5,352.70 L333.5,353.08 L335.5,353.47 L337.5,353.89 L339.5,354.36 L341.5,354.87 L343.5,355.42 L345.5,356.01 L347.5,356.62 L349.5,357.26 L351.5,357.93 L353.5,358.61 L355.5,359.32 L357.5,360.03 L359.5,360.75 L361.5,361.48 L363.5,362.20 L365.5,362.92 L367.5,363.64 L369.5,364.35 L371.5,365.05 L373.5,365.76 L375.5,366.49 L377.5,367.22 L379.5,367.97 L381.5,368.72 L383.5,369.49 L385.5,370.26 L387.5,371.04 L389.5,371.82 L391.5,372.62 L393.5,373.42" fill="none" stroke="#4D4D4D" stroke-width="1.80" stroke-linejoin="round" stroke-linecap="butt" stroke-dasharray="4.8,4.3" />
<path d="M39.5,386.30 L41.5,387.42 L43.5,386.86 L45.5,387.28 L47.5,387.65 L49.5,386.90 L51.5,386.77 L53.5,386.02 L55.5,386.25 L57.5,386.53 L59.5,386.71 L61.5,386.80 L63.5,386.01 L65.5,385.38 L67.5,385.60 L69.5,386.45 L71.5,385.19 L73.5,385.42 L75.5,386.02 L77.5,384.41 L79.5,385.15 L81.5,385.53 L83.5,384.20 L85.5,384.52 L87.5,384.90 L89.5,383.46 L91.5,383.88 L93.5,384.04 L95.5,383.68 L97.5,383.06 L99.5,382.28 L101.5,382.32 L103.5,381.66 L105.5,381.32 L107.5,380.61 L109.5,380.81 L111.5,380.12 L113.5,378.82 L115.5,378.65 L117.5,377.63 L119.5,377.37 L121.5,376.80 L123.5,376.47 L125.5,375.98 L127.5,375.59 L129.5,375.23 L131.5,374.91 L133.5,374.60 L135.5,374.30 L137.5,374.02 L139.5,373.73 L141.5,373.45 L143.5,373.15 L145.5,372.84 L147.5,372.51 L149.5,372.16 L151.5,371.77 L153.5,371.37 L155.5,370.94 L157.5,370.50 L159.5,370.04 L161.5,369.56 L163.5,369.07 L165.5,368.57 L167.5,368.06 L169.5,367.54 L171.5,367.01 L173.5,366.48 L175.5,365.94 L177.5,365.41 L179.5,364.87 L181.5,364.33 L183.5,363.80 L185.5,363.27 L187.5,362.75 L189.5,362.21 L191.5,361.65 L193.5,361.06 L195.5,360.46 L197.5,359.85 L199.5,359.23 L201.5,358.60 L203.5,357.98 L205.5,357.36 L207.5,356.76 L209.5,356.16 L211.5,355.59 L213.5,355.04 L215.5,354.52 L217.5,354.03 L219.5,353.58 L221.5,353.17 L223.5,352.81 L225.5,352.49 L227.5,352.18 L229.5,351.87 L231.5,351.57 L233.5,351.28 L235.5,350.99 L237.5,350.71 L239.5,350.44 L241.5,350.18 L243.5,349.94 L245.5,349.71 L247.5,349.50 L249.5,349.30 L251.5,349.12 L253.5,348.97 L255.5,348.83 L257.5,348.72 L259.5,348.63 L261.5,348.57 L263.5,348.53 L265.5,348.49 L267.5,348.45 L269.5,348.42 L271.5,348.39 L273.5,348.37 L275.5,348.35 L277.5,348.34 L279.5,348.33 L281.5,348.34 L283.5,348.39 L285.5,348.46 L287.5,348.55 L289.5,348.67 L291.5,348.79 L293.5,348.92 L295.5,349.04 L297.5,349.19 L299.5,349.36 L301.5,349.55 L303.5,349.75 L305.5,349.98 L307.5,350.22 L309.5,350.47 L311.5,350.74 L313.5,351.01 L315.5,351.30 L317.5,351.59 L319.5,351.88 L321.5,352.18 L323.5,352.49 L325.5,352.83 L327.5,353.18 L329.5,353.56 L331.5,353.96 L333.5,354.38 L335.5,354.82 L337.5,355.30 L339.5,355.82 L341.5,356.40 L343.5,357.01 L345.5,357.66 L347.5,358.33 L349.5,359.03 L351.5,359.73 L353.5,360.45 L355.5,361.17 L357.5,361.88 L359.5,362.58 L361.5,363.27 L363.5,363.93 L365.5,364.56 L367.5,365.16 L369.5,365.71 L371.5,366.23 L373.5,366.74 L375.5,367.24 L377.5,367.73 L379.5,368.20 L381.5,368.66 L383.5,369.11 L385.5,369.55 L387.5,369.97 L389.5,370.38 L391.5,370.78 L393.5,371.16" fill="none" stroke="#2DA265" stroke-width="1.80" stroke-linejoin="round" stroke-linecap="butt" />
<path d="M39.5,384.41 L41.5,384.56 L43.5,384.40 L45.5,383.85 L47.5,383.36 L49.5,382.99 L51.5,383.65 L53.5,383.58 L55.5,383.75 L57.5,383.65 L59.5,383.74 L61.5,383.69 L63.5,384.00 L65.5,383.89 L67.5,383.70 L69.5,383.34 L71.5,383.07 L73.5,384.12 L75.5,383.04 L77.5,382.80 L79.5,382.50 L81.5,383.91 L83.5,382.48 L85.5,382.72 L87.5,382.25 L89.5,382.43 L91.5,382.62 L93.5,383.35 L95.5,382.40 L97.5,383.34 L99.5,381.73 L101.5,382.15 L103.5,382.06 L105.5,382.49 L107.5,382.56 L109.5,381.34 L111.5,381.25 L113.5,380.71 L115.5,381.27 L117.5,380.69 L119.5,379.70 L121.5,379.94 L123.5,379.66 L125.5,379.28 L127.5,379.00 L129.5,378.74 L131.5,378.48 L133.5,378.22 L135.5,377.95 L137.5,377.69 L139.5,377.41 L141.5,377.12 L143.5,376.82 L145.5,376.50 L147.5,376.15 L149.5,375.78 L151.5,375.37 L153.5,374.90 L155.5,374.39 L157.5,373.83 L159.5,373.23 L161.5,372.60 L163.5,371.94 L165.5,371.25 L167.5,370.54 L169.5,369.82 L171.5,369.08 L173.5,368.34 L175.5,367.60 L177.5,366.86 L179.5,366.13 L181.5,365.42 L183.5,364.73 L185.5,364.06 L187.5,363.41 L189.5,362.79 L191.5,362.18 L193.5,361.58 L195.5,360.99 L197.5,360.41 L199.5,359.83 L201.5,359.25 L203.5,358.67 L205.5,358.09 L207.5,357.51 L209.5,356.93 L211.5,356.34 L213.5,355.74 L215.5,355.13 L217.5,354.51 L219.5,353.87 L221.5,353.22 L223.5,352.55 L225.5,351.86 L227.5,351.13 L229.5,350.37 L231.5,349.58 L233.5,348.76 L235.5,347.92 L237.5,347.06 L239.5,346.20 L241.5,345.32 L243.5,344.45 L245.5,343.58 L247.5,342.73 L249.5,341.88 L251.5,341.06 L253.5,340.26 L255.5,339.49 L257.5,338.76 L259.5,338.06 L261.5,337.41 L263.5,336.80 L265.5,336.16 L267.5,335.53 L269.5,334.90 L271.5,334.28 L273.5,333.70 L275.5,333.15 L277.5,332.65 L279.5,332.21 L281.5,331.84 L283.5,331.54 L285.5,331.34 L287.5,331.17 L289.5,331.00 L291.5,330.85 L293.5,330.72 L295.5,330.62 L297.5,330.54 L299.5,330.49 L301.5,330.48 L303.5,330.51 L305.5,330.59 L307.5,330.69 L309.5,330.83 L311.5,330.99 L313.5,331.17 L315.5,331.36 L317.5,331.56 L319.5,331.78 L321.5,332.06 L323.5,332.40 L325.5,332.79 L327.5,333.25 L329.5,333.76 L331.5,334.32 L333.5,334.94 L335.5,335.81 L337.5,336.81 L339.5,337.73 L341.5,338.64 L343.5,339.54 L345.5,340.43 L347.5,341.31 L349.5,342.18 L351.5,343.05 L353.5,343.92 L355.5,344.78 L357.5,345.64 L359.5,346.49 L361.5,347.35 L363.5,348.20 L365.5,349.06 L367.5,349.92 L369.5,350.78 L371.5,351.64 L373.5,352.50 L375.5,353.35 L377.5,354.21 L379.5,355.06 L381.5,355.91 L383.5,356.76 L385.5,357.61 L387.5,358.46 L389.5,359.30 L391.5,360.15 L393.5,360.99" fill="none" stroke="#AE73E2" stroke-width="1.80" stroke-linejoin="round" stroke-linecap="butt" />
<path d="M39.5,389.42 L41.5,388.52 L43.5,389.29 L45.5,388.03 L47.5,388.12 L49.5,388.88 L51.5,388.75 L53.5,388.54 L55.5,388.38 L57.5,388.80 L59.5,388.46 L61.5,388.89 L63.5,388.49 L65.5,388.53 L67.5,388.58 L69.5,389.07 L71.5,388.74 L73.5,388.02 L75.5,388.69 L77.5,388.53 L79.5,387.22 L81.5,388.20 L83.5,388.25 L85.5,388.06 L87.5,387.93 L89.5,387.57 L91.5,386.81 L93.5,388.04 L95.5,387.06 L97.5,386.66 L99.5,387.35 L101.5,387.68 L103.5,386.35 L105.5,386.84 L107.5,386.51 L109.5,386.47 L111.5,386.56 L113.5,385.36 L115.5,384.91 L117.5,384.87 L119.5,384.98 L121.5,384.57 L123.5,384.08 L125.5,383.81 L127.5,383.52 L129.5,383.23 L131.5,382.94 L133.5,382.65 L135.5,382.36 L137.5,382.05 L139.5,381.73 L141.5,381.40 L143.5,381.05 L145.5,380.67 L147.5,380.28 L149.5,379.86 L151.5,379.40 L153.5,378.89 L155.5,378.34 L157.5,377.74 L159.5,377.10 L161.5,376.43 L163.5,375.72 L165.5,374.99 L167.5,374.24 L169.5,373.47 L171.5,372.68 L173.5,371.88 L175.5,371.08 L177.5,370.27 L179.5,369.46 L181.5,368.66 L183.5,367.87 L185.5,367.10 L187.5,366.34 L189.5,365.59 L191.5,364.84 L193.5,364.09 L195.5,363.34 L197.5,362.58 L199.5,361.82 L201.5,361.06 L203.5,360.29 L205.5,359.52 L207.5,358.74 L209.5,357.96 L211.5,357.16 L213.5,356.36 L215.5,355.55 L217.5,354.73 L219.5,353.90 L221.5,353.05 L223.5,352.20 L225.5,351.33 L227.5,350.42 L229.5,349.47 L231.5,348.49 L233.5,347.48 L235.5,346.45 L237.5,345.40 L239.5,344.34 L241.5,343.29 L243.5,342.23 L245.5,341.18 L247.5,340.15 L249.5,339.14 L251.5,338.15 L253.5,337.20 L255.5,336.28 L257.5,335.41 L259.5,334.59 L261.5,333.83 L263.5,333.10 L265.5,332.36 L267.5,331.61 L269.5,330.88 L271.5,330.16 L273.5,329.48 L275.5,328.85 L277.5,328.27 L279.5,327.77 L281.5,327.35 L283.5,327.03 L285.5,326.82 L287.5,326.64 L289.5,326.48 L291.5,326.33 L293.5,326.20 L295.5,326.09 L297.5,326.02 L299.5,325.97 L301.5,325.96 L303.5,326.00 L305.5,326.09 L307.5,326.21 L309.5,326.38 L311.5,326.57 L313.5,326.78 L315.5,327.01 L317.5,327.25 L319.5,327.52 L321.5,327.87 L323.5,328.30 L325.5,328.79 L327.5,329.35 L329.5,329.96 L331.5,330.61 L333.5,331.31 L335.5,332.20 L337.5,333.21 L339.5,334.18 L341.5,335.16 L343.5,336.15 L345.5,337.13 L347.5,338.12 L349.5,339.11 L351.5,340.11 L353.5,341.11 L355.5,342.11 L357.5,343.11 L359.5,344.12 L361.5,345.13 L363.5,346.14 L365.5,347.15 L367.5,348.17 L369.5,349.19 L371.5,350.21 L373.5,351.23 L375.5,352.26 L377.5,353.30 L379.5,354.33 L381.5,355.37 L383.5,356.41 L385.5,357.46 L387.5,358.51 L389.5,359.56 L391.5,360.61 L393.5,361.67" fill="none" stroke="#1F67DD" stroke-width="1.80" stroke-linejoin="round" stroke-linecap="butt" />
</g>
<path d="M53.7,285.40 H75.7" fill="none" stroke="#EE3A3E" stroke-width="1.90" stroke-linejoin="round" stroke-linecap="butt" />
<text x="77.00" y="288.80" font-size="9.10" text-anchor="start" >HEP-B1</text>
<path d="M53.7,296.44 H75.7" fill="none" stroke="#4D4D4D" stroke-width="1.90" stroke-linejoin="round" stroke-linecap="butt" />
<text x="77.00" y="299.84" font-size="9.10" text-anchor="start" >HEP-B2</text>
<path d="M53.7,307.48 H75.7" fill="none" stroke="#EE3A3E" stroke-width="1.90" stroke-linejoin="round" stroke-linecap="butt" stroke-dasharray="4.8,4.3" />
<text x="77.00" y="310.88" font-size="9.10" text-anchor="start" >RoM-B1</text>
<path d="M53.7,318.52 H75.7" fill="none" stroke="#4D4D4D" stroke-width="1.90" stroke-linejoin="round" stroke-linecap="butt" stroke-dasharray="4.8,4.3" />
<text x="77.00" y="321.92" font-size="9.10" text-anchor="start" >RoM-B2</text>
<path d="M53.7,329.56 H75.7" fill="none" stroke="#1F67DD" stroke-width="1.90" stroke-linejoin="round" stroke-linecap="butt" />
<text x="77.00" y="332.96" font-size="9.10" text-anchor="start" >PVDF_6020</text>
<path d="M53.7,340.60 H75.7" fill="none" stroke="#2DA265" stroke-width="1.90" stroke-linejoin="round" stroke-linecap="butt" />
<text x="77.00" y="344.00" font-size="9.10" text-anchor="start" >P(VDF-TrFE)_25</text>
<path d="M53.7,351.64 H75.7" fill="none" stroke="#AE73E2" stroke-width="1.90" stroke-linejoin="round" stroke-linecap="butt" />
<text x="77.00" y="355.04" font-size="9.10" text-anchor="start" >P(VDF-HFP)</text>
<path d="M53.7,362.68 H75.7" fill="none" stroke="#D39C12" stroke-width="1.90" stroke-linejoin="round" stroke-linecap="butt" />
<text x="77.00" y="366.08" font-size="9.10" text-anchor="start" >PP</text>
<path d="M53.7,373.72 H75.7" fill="none" stroke="#1FCBCB" stroke-width="1.90" stroke-linejoin="round" stroke-linecap="butt" />
<text x="77.00" y="377.12" font-size="9.10" text-anchor="start" >PS</text>
<rect x="39.50" y="165.50" width="354.00" height="226.00" fill="none" stroke="#000" stroke-width="1.15"/>
<line x1="39.50" y1="278.50" x2="393.50" y2="278.50" stroke="#000" stroke-width="1.15"/>
<line x1="35.00" y1="278.50" x2="39.50" y2="278.50" stroke="#111" stroke-width="1.1"/>
<line x1="37.00" y1="267.20" x2="39.50" y2="267.20" stroke="#111" stroke-width="1.1"/>
<line x1="35.00" y1="255.90" x2="39.50" y2="255.90" stroke="#111" stroke-width="1.1"/>
<line x1="37.00" y1="244.60" x2="39.50" y2="244.60" stroke="#111" stroke-width="1.1"/>
<line x1="35.00" y1="233.30" x2="39.50" y2="233.30" stroke="#111" stroke-width="1.1"/>
<line x1="37.00" y1="222.00" x2="39.50" y2="222.00" stroke="#111" stroke-width="1.1"/>
<line x1="35.00" y1="210.70" x2="39.50" y2="210.70" stroke="#111" stroke-width="1.1"/>
<line x1="37.00" y1="199.40" x2="39.50" y2="199.40" stroke="#111" stroke-width="1.1"/>
<line x1="35.00" y1="188.10" x2="39.50" y2="188.10" stroke="#111" stroke-width="1.1"/>
<line x1="37.00" y1="176.80" x2="39.50" y2="176.80" stroke="#111" stroke-width="1.1"/>
<line x1="35.00" y1="165.50" x2="39.50" y2="165.50" stroke="#111" stroke-width="1.1"/>
<line x1="35.00" y1="391.50" x2="39.50" y2="391.50" stroke="#111" stroke-width="1.1"/>
<line x1="37.00" y1="380.20" x2="39.50" y2="380.20" stroke="#111" stroke-width="1.1"/>
<line x1="35.00" y1="368.90" x2="39.50" y2="368.90" stroke="#111" stroke-width="1.1"/>
<line x1="37.00" y1="357.60" x2="39.50" y2="357.60" stroke="#111" stroke-width="1.1"/>
<line x1="35.00" y1="346.30" x2="39.50" y2="346.30" stroke="#111" stroke-width="1.1"/>
<line x1="37.00" y1="335.00" x2="39.50" y2="335.00" stroke="#111" stroke-width="1.1"/>
<line x1="35.00" y1="323.70" x2="39.50" y2="323.70" stroke="#111" stroke-width="1.1"/>
<line x1="37.00" y1="312.40" x2="39.50" y2="312.40" stroke="#111" stroke-width="1.1"/>
<line x1="35.00" y1="301.10" x2="39.50" y2="301.10" stroke="#111" stroke-width="1.1"/>
<line x1="37.00" y1="289.80" x2="39.50" y2="289.80" stroke="#111" stroke-width="1.1"/>
<line x1="35.00" y1="278.50" x2="39.50" y2="278.50" stroke="#111" stroke-width="1.1"/>
<text x="32.20" y="259.30" font-size="9.50" text-anchor="end" >5</text>
<text x="32.20" y="236.70" font-size="9.50" text-anchor="end" >10</text>
<text x="32.20" y="214.10" font-size="9.50" text-anchor="end" >15</text>
<text x="32.20" y="191.50" font-size="9.50" text-anchor="end" >20</text>
<text x="32.20" y="168.90" font-size="9.50" text-anchor="end" >25</text>
<text x="32.20" y="394.90" font-size="9.50" text-anchor="end" >0.0</text>
<text x="32.20" y="372.30" font-size="9.50" text-anchor="end" >0.1</text>
<text x="32.20" y="349.70" font-size="9.50" text-anchor="end" >0.2</text>
<text x="32.20" y="327.10" font-size="9.50" text-anchor="end" >0.3</text>
<text x="32.20" y="304.50" font-size="9.50" text-anchor="end" >0.4</text>
<text x="32.20" y="281.90" font-size="9.50" text-anchor="end" >0.5</text>
<line x1="39.50" y1="278.50" x2="39.50" y2="282.50" stroke="#111" stroke-width="1.1"/>
<line x1="60.81" y1="278.50" x2="60.81" y2="280.70" stroke="#111" stroke-width="1.1"/>
<line x1="73.28" y1="278.50" x2="73.28" y2="280.70" stroke="#111" stroke-width="1.1"/>
<line x1="82.13" y1="278.50" x2="82.13" y2="280.70" stroke="#111" stroke-width="1.1"/>
<line x1="88.99" y1="278.50" x2="88.99" y2="280.70" stroke="#111" stroke-width="1.1"/>
<line x1="94.59" y1="278.50" x2="94.59" y2="280.70" stroke="#111" stroke-width="1.1"/>
<line x1="99.33" y1="278.50" x2="99.33" y2="280.70" stroke="#111" stroke-width="1.1"/>
<line x1="103.44" y1="278.50" x2="103.44" y2="280.70" stroke="#111" stroke-width="1.1"/>
<line x1="107.06" y1="278.50" x2="107.06" y2="280.70" stroke="#111" stroke-width="1.1"/>
<line x1="110.30" y1="278.50" x2="110.30" y2="282.50" stroke="#111" stroke-width="1.1"/>
<line x1="131.61" y1="278.50" x2="131.61" y2="280.70" stroke="#111" stroke-width="1.1"/>
<line x1="144.08" y1="278.50" x2="144.08" y2="280.70" stroke="#111" stroke-width="1.1"/>
<line x1="152.93" y1="278.50" x2="152.93" y2="280.70" stroke="#111" stroke-width="1.1"/>
<line x1="159.79" y1="278.50" x2="159.79" y2="280.70" stroke="#111" stroke-width="1.1"/>
<line x1="165.39" y1="278.50" x2="165.39" y2="280.70" stroke="#111" stroke-width="1.1"/>
<line x1="170.13" y1="278.50" x2="170.13" y2="280.70" stroke="#111" stroke-width="1.1"/>
<line x1="174.24" y1="278.50" x2="174.24" y2="280.70" stroke="#111" stroke-width="1.1"/>
<line x1="177.86" y1="278.50" x2="177.86" y2="280.70" stroke="#111" stroke-width="1.1"/>
<line x1="181.10" y1="278.50" x2="181.10" y2="282.50" stroke="#111" stroke-width="1.1"/>
<line x1="202.41" y1="278.50" x2="202.41" y2="280.70" stroke="#111" stroke-width="1.1"/>
<line x1="214.88" y1="278.50" x2="214.88" y2="280.70" stroke="#111" stroke-width="1.1"/>
<line x1="223.73" y1="278.50" x2="223.73" y2="280.70" stroke="#111" stroke-width="1.1"/>
<line x1="230.59" y1="278.50" x2="230.59" y2="280.70" stroke="#111" stroke-width="1.1"/>
<line x1="236.19" y1="278.50" x2="236.19" y2="280.70" stroke="#111" stroke-width="1.1"/>
<line x1="240.93" y1="278.50" x2="240.93" y2="280.70" stroke="#111" stroke-width="1.1"/>
<line x1="245.04" y1="278.50" x2="245.04" y2="280.70" stroke="#111" stroke-width="1.1"/>
<line x1="248.66" y1="278.50" x2="248.66" y2="280.70" stroke="#111" stroke-width="1.1"/>
<line x1="251.90" y1="278.50" x2="251.90" y2="282.50" stroke="#111" stroke-width="1.1"/>
<line x1="273.21" y1="278.50" x2="273.21" y2="280.70" stroke="#111" stroke-width="1.1"/>
<line x1="285.68" y1="278.50" x2="285.68" y2="280.70" stroke="#111" stroke-width="1.1"/>
<line x1="294.53" y1="278.50" x2="294.53" y2="280.70" stroke="#111" stroke-width="1.1"/>
<line x1="301.39" y1="278.50" x2="301.39" y2="280.70" stroke="#111" stroke-width="1.1"/>
<line x1="306.99" y1="278.50" x2="306.99" y2="280.70" stroke="#111" stroke-width="1.1"/>
<line x1="311.73" y1="278.50" x2="311.73" y2="280.70" stroke="#111" stroke-width="1.1"/>
<line x1="315.84" y1="278.50" x2="315.84" y2="280.70" stroke="#111" stroke-width="1.1"/>
<line x1="319.46" y1="278.50" x2="319.46" y2="280.70" stroke="#111" stroke-width="1.1"/>
<line x1="322.70" y1="278.50" x2="322.70" y2="282.50" stroke="#111" stroke-width="1.1"/>
<line x1="344.01" y1="278.50" x2="344.01" y2="280.70" stroke="#111" stroke-width="1.1"/>
<line x1="356.48" y1="278.50" x2="356.48" y2="280.70" stroke="#111" stroke-width="1.1"/>
<line x1="365.33" y1="278.50" x2="365.33" y2="280.70" stroke="#111" stroke-width="1.1"/>
<line x1="372.19" y1="278.50" x2="372.19" y2="280.70" stroke="#111" stroke-width="1.1"/>
<line x1="377.79" y1="278.50" x2="377.79" y2="280.70" stroke="#111" stroke-width="1.1"/>
<line x1="382.53" y1="278.50" x2="382.53" y2="280.70" stroke="#111" stroke-width="1.1"/>
<line x1="386.64" y1="278.50" x2="386.64" y2="280.70" stroke="#111" stroke-width="1.1"/>
<line x1="390.26" y1="278.50" x2="390.26" y2="280.70" stroke="#111" stroke-width="1.1"/>
<line x1="393.50" y1="278.50" x2="393.50" y2="282.50" stroke="#111" stroke-width="1.1"/>
<line x1="39.50" y1="391.50" x2="39.50" y2="396.00" stroke="#111" stroke-width="1.1"/>
<line x1="60.81" y1="391.50" x2="60.81" y2="393.70" stroke="#111" stroke-width="1.1"/>
<line x1="73.28" y1="391.50" x2="73.28" y2="393.70" stroke="#111" stroke-width="1.1"/>
<line x1="82.13" y1="391.50" x2="82.13" y2="393.70" stroke="#111" stroke-width="1.1"/>
<line x1="88.99" y1="391.50" x2="88.99" y2="393.70" stroke="#111" stroke-width="1.1"/>
<line x1="94.59" y1="391.50" x2="94.59" y2="393.70" stroke="#111" stroke-width="1.1"/>
<line x1="99.33" y1="391.50" x2="99.33" y2="393.70" stroke="#111" stroke-width="1.1"/>
<line x1="103.44" y1="391.50" x2="103.44" y2="393.70" stroke="#111" stroke-width="1.1"/>
<line x1="107.06" y1="391.50" x2="107.06" y2="393.70" stroke="#111" stroke-width="1.1"/>
<line x1="110.30" y1="391.50" x2="110.30" y2="396.00" stroke="#111" stroke-width="1.1"/>
<line x1="131.61" y1="391.50" x2="131.61" y2="393.70" stroke="#111" stroke-width="1.1"/>
<line x1="144.08" y1="391.50" x2="144.08" y2="393.70" stroke="#111" stroke-width="1.1"/>
<line x1="152.93" y1="391.50" x2="152.93" y2="393.70" stroke="#111" stroke-width="1.1"/>
<line x1="159.79" y1="391.50" x2="159.79" y2="393.70" stroke="#111" stroke-width="1.1"/>
<line x1="165.39" y1="391.50" x2="165.39" y2="393.70" stroke="#111" stroke-width="1.1"/>
<line x1="170.13" y1="391.50" x2="170.13" y2="393.70" stroke="#111" stroke-width="1.1"/>
<line x1="174.24" y1="391.50" x2="174.24" y2="393.70" stroke="#111" stroke-width="1.1"/>
<line x1="177.86" y1="391.50" x2="177.86" y2="393.70" stroke="#111" stroke-width="1.1"/>
<line x1="181.10" y1="391.50" x2="181.10" y2="396.00" stroke="#111" stroke-width="1.1"/>
<line x1="202.41" y1="391.50" x2="202.41" y2="393.70" stroke="#111" stroke-width="1.1"/>
<line x1="214.88" y1="391.50" x2="214.88" y2="393.70" stroke="#111" stroke-width="1.1"/>
<line x1="223.73" y1="391.50" x2="223.73" y2="393.70" stroke="#111" stroke-width="1.1"/>
<line x1="230.59" y1="391.50" x2="230.59" y2="393.70" stroke="#111" stroke-width="1.1"/>
<line x1="236.19" y1="391.50" x2="236.19" y2="393.70" stroke="#111" stroke-width="1.1"/>
<line x1="240.93" y1="391.50" x2="240.93" y2="393.70" stroke="#111" stroke-width="1.1"/>
<line x1="245.04" y1="391.50" x2="245.04" y2="393.70" stroke="#111" stroke-width="1.1"/>
<line x1="248.66" y1="391.50" x2="248.66" y2="393.70" stroke="#111" stroke-width="1.1"/>
<line x1="251.90" y1="391.50" x2="251.90" y2="396.00" stroke="#111" stroke-width="1.1"/>
<line x1="273.21" y1="391.50" x2="273.21" y2="393.70" stroke="#111" stroke-width="1.1"/>
<line x1="285.68" y1="391.50" x2="285.68" y2="393.70" stroke="#111" stroke-width="1.1"/>
<line x1="294.53" y1="391.50" x2="294.53" y2="393.70" stroke="#111" stroke-width="1.1"/>
<line x1="301.39" y1="391.50" x2="301.39" y2="393.70" stroke="#111" stroke-width="1.1"/>
<line x1="306.99" y1="391.50" x2="306.99" y2="393.70" stroke="#111" stroke-width="1.1"/>
<line x1="311.73" y1="391.50" x2="311.73" y2="393.70" stroke="#111" stroke-width="1.1"/>
<line x1="315.84" y1="391.50" x2="315.84" y2="393.70" stroke="#111" stroke-width="1.1"/>
<line x1="319.46" y1="391.50" x2="319.46" y2="393.70" stroke="#111" stroke-width="1.1"/>
<line x1="322.70" y1="391.50" x2="322.70" y2="396.00" stroke="#111" stroke-width="1.1"/>
<line x1="344.01" y1="391.50" x2="344.01" y2="393.70" stroke="#111" stroke-width="1.1"/>
<line x1="356.48" y1="391.50" x2="356.48" y2="393.70" stroke="#111" stroke-width="1.1"/>
<line x1="365.33" y1="391.50" x2="365.33" y2="393.70" stroke="#111" stroke-width="1.1"/>
<line x1="372.19" y1="391.50" x2="372.19" y2="393.70" stroke="#111" stroke-width="1.1"/>
<line x1="377.79" y1="391.50" x2="377.79" y2="393.70" stroke="#111" stroke-width="1.1"/>
<line x1="382.53" y1="391.50" x2="382.53" y2="393.70" stroke="#111" stroke-width="1.1"/>
<line x1="386.64" y1="391.50" x2="386.64" y2="393.70" stroke="#111" stroke-width="1.1"/>
<line x1="390.26" y1="391.50" x2="390.26" y2="393.70" stroke="#111" stroke-width="1.1"/>
<line x1="393.50" y1="391.50" x2="393.50" y2="396.00" stroke="#111" stroke-width="1.1"/>
<text x="39.50" y="407.00" font-size="9.40" text-anchor="middle" >1000</text>
<text x="110.30" y="407.00" font-size="9.40" text-anchor="middle" >10000</text>
<text x="181.10" y="407.00" font-size="9.40" text-anchor="middle" >100000</text>
<text x="251.90" y="407.00" font-size="9.40" text-anchor="middle" >1000000</text>
<text x="322.70" y="407.00" font-size="9.40" text-anchor="middle" >1E7</text>
<text x="393.50" y="407.00" font-size="9.40" text-anchor="middle" >1E8</text>
<text x="209.50" y="419.00" font-size="11.70" text-anchor="middle" >Frequency (Hz)</text>
<text transform="translate(14.7,221.60) rotate(-90)" font-size="11.6" text-anchor="middle">Dielectric constant</text>
<text transform="translate(14.7,335.20) rotate(-90)" font-size="11.6" text-anchor="middle">Loss tangent</text>
<g clip-path="url(#ccu)">
<path d="M39.5,494.78 L42.0,495.03 L44.5,494.82 L47.0,494.78 L49.5,495.42 L52.0,495.38 L54.5,495.43 L57.0,495.44 L59.5,495.08 L62.0,495.40 L64.5,495.94 L67.0,495.30 L69.5,496.01 L72.0,496.09 L74.5,495.50 L77.0,496.05 L79.5,496.05 L82.0,496.16 L84.5,496.14 L87.0,496.05 L89.5,496.14 L92.0,496.43 L94.5,496.37 L97.0,496.77 L99.5,496.55 L102.0,496.41 L104.5,496.58 L107.0,496.72 L109.5,496.95 L112.0,497.02 L114.5,497.10 L117.0,497.18 L119.5,497.26 L122.0,497.34 L124.5,497.42 L127.0,497.50 L129.5,497.58 L132.0,497.67 L134.5,497.75 L137.0,497.83 L139.5,497.91 L142.0,498.00 L144.5,498.08 L147.0,498.17 L149.5,498.25 L152.0,498.34 L154.5,498.43 L157.0,498.52 L159.5,498.61 L162.0,498.70 L164.5,498.79 L167.0,498.89 L169.5,498.98 L172.0,499.08 L174.5,499.18 L177.0,499.29 L179.5,499.39 L182.0,499.50 L184.5,499.61 L187.0,499.72 L189.5,499.83 L192.0,499.95 L194.5,500.07 L197.0,500.19 L199.5,500.31 L202.0,500.44 L204.5,500.57 L207.0,500.70 L209.5,500.84 L212.0,500.98 L214.5,501.13 L217.0,501.27 L219.5,501.43 L222.0,501.60 L224.5,501.78 L227.0,501.97 L229.5,502.18 L232.0,502.40 L234.5,502.62 L237.0,502.85 L239.5,503.10 L242.0,503.34 L244.5,503.60 L247.0,503.86 L249.5,504.12 L252.0,504.39 L254.5,504.66 L257.0,504.93 L259.5,505.20 L262.0,505.47 L264.5,505.76 L267.0,506.05 L269.5,506.35 L272.0,506.67 L274.5,506.99 L277.0,507.31 L279.5,507.65 L282.0,507.99 L284.5,508.33 L287.0,508.67 L289.5,509.02 L292.0,509.36 L294.5,509.71 L297.0,510.05 L299.5,510.40 L302.0,510.74 L304.5,511.07 L307.0,511.40 L309.5,511.75 L312.0,512.11 L314.5,512.49 L317.0,512.87 L319.5,513.25 L322.0,513.64 L324.5,514.03 L327.0,514.41 L329.5,514.78 L332.0,515.14 L334.5,515.48 L337.0,515.81 L339.5,516.12 L342.0,516.40 L344.5,516.65 L347.0,516.87 L349.5,517.06 L352.0,517.22 L354.5,517.38 L357.0,517.54 L359.5,517.69 L362.0,517.83 L364.5,517.96 L367.0,518.06 L369.5,518.14 L372.0,518.20 L374.5,518.22 L377.0,518.22 L379.5,518.22 L382.0,518.21 L384.5,518.19 L387.0,518.16 L389.5,518.11 L392.0,518.05 L393.5,518.00" fill="none" stroke="#D39C12" stroke-width="1.80" stroke-linejoin="round" stroke-linecap="butt" />
<path d="M39.7,497.40 L41.5,502.00 L43.5,493.00 L45.8,490.00 L47.5,502.00 L49.0,497.00 L51.0,489.60 L53.7,507.00 L55.5,497.40 L57.5,499.50 L59.5,496.00 L61.5,499.60 L63.5,497.00 L65.5,499.20 L67.5,495.00 L69.0,500.00 L71.0,507.00 L72.8,490.80 L74.5,499.00 L76.0,497.50 L78.0,499.50 L78.0,498.74 L79.5,499.54 L81.0,500.67 L82.5,499.89 L84.0,500.35 L85.5,500.14 L87.0,500.57 L88.5,501.18 L90.0,500.64 L91.5,501.11 L93.0,500.31 L94.5,501.60 L96.0,500.44 L97.5,500.53 L99.0,501.05 L100.5,501.65 L102.0,501.50 L103.5,501.85 L105.0,501.52 L106.5,500.93 L108.0,500.97 L109.5,501.47 L111.0,500.77 L112.5,501.71 L114.0,501.81 L115.5,501.57 L117.0,501.19 L118.5,500.65 L120.0,500.87 L121.5,500.86 L123.0,500.94 L124.5,501.17 L126.0,501.32 L127.5,500.82 L129.0,501.77 L130.5,501.68 L132.0,501.90 L133.5,501.06 L135.0,501.50 L136.5,501.52 L138.0,501.40 L139.5,501.46 L141.0,501.50 L142.5,501.52 L144.0,501.55 L145.5,501.58 L147.0,501.61 L148.5,501.65 L150.0,501.68 L151.5,501.71 L153.0,501.74 L154.5,501.78 L156.0,501.81 L157.5,501.85 L159.0,501.89 L160.5,501.92 L162.0,501.96 L163.5,502.00 L165.0,502.04 L166.5,502.08 L168.0,502.12 L169.5,502.17 L171.0,502.21 L172.5,502.25 L174.0,502.30 L175.5,502.35 L177.0,502.39 L178.5,502.44 L180.0,502.49 L181.5,502.54 L183.0,502.59 L184.5,502.64 L186.0,502.69 L187.5,502.75 L189.0,502.80 L190.5,502.85 L192.0,502.91 L193.5,502.97 L195.0,503.02 L196.5,503.08 L198.0,503.14 L199.5,503.20 L201.0,503.27 L202.5,503.33 L204.0,503.39 L205.5,503.46 L207.0,503.52 L208.5,503.59 L210.0,503.66 L211.5,503.72 L213.0,503.79 L214.5,503.86 L216.0,503.94 L217.5,504.01 L219.0,504.09 L220.5,504.17 L222.0,504.27 L223.5,504.37 L225.0,504.48 L226.5,504.59 L228.0,504.71 L229.5,504.83 L231.0,504.96 L232.5,505.09 L234.0,505.23 L235.5,505.37 L237.0,505.52 L238.5,505.67 L240.0,505.82 L241.5,505.97 L243.0,506.13 L244.5,506.29 L246.0,506.45 L247.5,506.61 L249.0,506.78 L250.5,506.94 L252.0,507.10 L253.5,507.27 L255.0,507.43 L256.5,507.59 L258.0,507.75 L259.5,507.91 L261.0,508.07 L262.5,508.23 L264.0,508.40 L265.5,508.56 L267.0,508.73 L268.5,508.90 L270.0,509.08 L271.5,509.26 L273.0,509.44 L274.5,509.62 L276.0,509.80 L277.5,509.99 L279.0,510.17 L280.5,510.36 L282.0,510.55 L283.5,510.74 L285.0,510.93 L286.5,511.12 L288.0,511.31 L289.5,511.50 L291.0,511.69 L292.5,511.88 L294.0,512.07 L295.5,512.25 L297.0,512.44 L298.5,512.63 L300.0,512.81 L301.5,512.99 L303.0,513.17 L304.5,513.35 L306.0,513.52 L307.5,513.70 L309.0,513.89 L310.5,514.08 L312.0,514.28 L313.5,514.48 L315.0,514.68 L316.5,514.89 L318.0,515.10 L319.5,515.31 L321.0,515.52 L322.5,515.73 L324.0,515.93 L325.5,516.14 L327.0,516.34 L328.5,516.54 L330.0,516.73 L331.5,516.92 L333.0,517.10 L334.5,517.27 L336.0,517.44 L337.5,517.59 L339.0,517.74 L340.5,517.88 L342.0,518.00 L343.5,518.12 L345.0,518.22 L346.5,518.30 L348.0,518.38 L349.5,518.43 L351.0,518.48 L352.5,518.52 L354.0,518.56 L355.5,518.60 L357.0,518.64 L358.5,518.68 L360.0,518.71 L361.5,518.74 L363.0,518.77 L364.5,518.80 L366.0,518.83 L367.5,518.85 L369.0,518.87 L370.5,518.88 L372.0,518.89 L373.5,518.90 L375.0,518.90 L376.5,518.90 L378.0,518.89 L379.5,518.87 L381.0,518.84 L382.5,518.81 L384.0,518.78 L385.5,518.74 L387.0,518.69 L388.5,518.64 L390.0,518.59 L391.5,518.53 L393.0,518.47 L393.5,518.45" fill="none" stroke="#4D4D4D" stroke-width="1.80" stroke-linejoin="round" stroke-linecap="butt" />
<path d="M39.5,477.09 L42.0,477.43 L44.5,477.15 L47.0,477.11 L49.5,478.01 L52.0,477.97 L54.5,478.07 L57.0,478.12 L59.5,477.65 L62.0,478.14 L64.5,478.92 L67.0,478.08 L69.5,479.11 L72.0,479.28 L74.5,478.52 L77.0,479.34 L79.5,479.38 L82.0,479.60 L84.5,479.64 L87.0,479.58 L89.5,479.77 L92.0,480.24 L94.5,480.24 L97.0,480.87 L99.5,480.67 L102.0,480.59 L104.5,480.82 L107.0,480.95 L109.5,481.92 L112.0,481.70 L114.5,481.84 L117.0,482.79 L119.5,482.76 L122.0,482.49 L124.5,483.25 L127.0,483.09 L129.5,483.86 L132.0,483.83 L134.5,484.24 L137.0,484.50 L139.5,484.75 L142.0,485.00 L144.5,485.25 L147.0,485.51 L149.5,485.76 L152.0,486.01 L154.5,486.27 L157.0,486.53 L159.5,486.78 L162.0,487.04 L164.5,487.30 L167.0,487.56 L169.5,487.82 L172.0,488.08 L174.5,488.35 L177.0,488.61 L179.5,488.88 L182.0,489.15 L184.5,489.42 L187.0,489.69 L189.5,489.97 L192.0,490.24 L194.5,490.52 L197.0,490.80 L199.5,491.09 L202.0,491.37 L204.5,491.66 L207.0,491.95 L209.5,492.24 L212.0,492.54 L214.5,492.84 L217.0,493.14 L219.5,493.44 L222.0,493.74 L224.5,494.05 L227.0,494.35 L229.5,494.66 L232.0,494.97 L234.5,495.29 L237.0,495.61 L239.5,495.93 L242.0,496.26 L244.5,496.60 L247.0,496.95 L249.5,497.30 L252.0,497.66 L254.5,498.03 L257.0,498.41 L259.5,498.80 L262.0,499.21 L264.5,499.64 L267.0,500.10 L269.5,500.58 L272.0,501.07 L274.5,501.59 L277.0,502.12 L279.5,502.65 L282.0,503.20 L284.5,503.75 L287.0,504.29 L289.5,504.84 L292.0,505.38 L294.5,505.90 L297.0,506.42 L299.5,506.92 L302.0,507.40 L304.5,507.86 L307.0,508.30 L309.5,508.73 L312.0,509.17 L314.5,509.61 L317.0,510.04 L319.5,510.48 L322.0,510.90 L324.5,511.32 L327.0,511.73 L329.5,512.13 L332.0,512.52 L334.5,512.90 L337.0,513.26 L339.5,513.60 L342.0,513.93 L344.5,514.23 L347.0,514.52 L349.5,514.78 L352.0,515.03 L354.5,515.27 L357.0,515.51 L359.5,515.74 L362.0,515.96 L364.5,516.18 L367.0,516.39 L369.5,516.59 L372.0,516.79 L374.5,516.97 L377.0,517.15 L379.5,517.31 L382.0,517.46 L384.5,517.60 L387.0,517.73 L389.5,517.84 L392.0,517.94 L393.5,518.00" fill="none" stroke="#AE73E2" stroke-width="1.80" stroke-linejoin="round" stroke-linecap="butt" />
<path d="M39.5,455.77 L42.0,456.48 L44.5,456.88 L47.0,456.66 L49.5,457.24 L52.0,457.23 L54.5,457.87 L57.0,457.40 L59.5,457.40 L62.0,458.44 L64.5,458.10 L67.0,457.64 L69.5,458.41 L72.0,457.84 L74.5,458.00 L77.0,458.10 L79.5,458.59 L82.0,458.39 L84.5,458.17 L87.0,458.49 L89.5,458.20 L92.0,459.15 L94.5,458.85 L97.0,458.84 L99.5,458.78 L102.0,458.61 L104.5,459.54 L107.0,459.47 L109.5,459.90 L112.0,460.12 L114.5,459.54 L117.0,460.42 L119.5,459.99 L122.0,460.94 L124.5,460.94 L127.0,461.25 L129.5,461.69 L132.0,461.94 L134.5,462.16 L137.0,462.49 L139.5,462.81 L142.0,463.13 L144.5,463.46 L147.0,463.80 L149.5,464.14 L152.0,464.49 L154.5,464.87 L157.0,465.27 L159.5,465.70 L162.0,466.15 L164.5,466.61 L167.0,467.10 L169.5,467.60 L172.0,468.11 L174.5,468.64 L177.0,469.17 L179.5,469.71 L182.0,470.26 L184.5,470.80 L187.0,471.35 L189.5,471.90 L192.0,472.45 L194.5,472.99 L197.0,473.52 L199.5,474.05 L202.0,474.57 L204.5,475.09 L207.0,475.62 L209.5,476.15 L212.0,476.68 L214.5,477.22 L217.0,477.77 L219.5,478.31 L222.0,478.85 L224.5,479.39 L227.0,479.93 L229.5,480.47 L232.0,481.01 L234.5,481.55 L237.0,482.10 L239.5,482.65 L242.0,483.21 L244.5,483.77 L247.0,484.34 L249.5,484.93 L252.0,485.52 L254.5,486.13 L257.0,486.74 L259.5,487.38 L262.0,488.03 L264.5,488.70 L267.0,489.41 L269.5,490.14 L272.0,490.88 L274.5,491.65 L277.0,492.43 L279.5,493.22 L282.0,494.01 L284.5,494.81 L287.0,495.61 L289.5,496.41 L292.0,497.20 L294.5,497.99 L297.0,498.76 L299.5,499.51 L302.0,500.25 L304.5,500.97 L307.0,501.66 L309.5,502.36 L312.0,503.06 L314.5,503.76 L317.0,504.46 L319.5,505.16 L322.0,505.85 L324.5,506.53 L327.0,507.21 L329.5,507.87 L332.0,508.52 L334.5,509.15 L337.0,509.77 L339.5,510.36 L342.0,510.93 L344.5,511.47 L347.0,511.99 L349.5,512.48 L352.0,512.94 L354.5,513.40 L357.0,513.85 L359.5,514.29 L362.0,514.71 L364.5,515.12 L367.0,515.51 L369.5,515.87 L372.0,516.21 L374.5,516.52 L377.0,516.80 L379.5,517.05 L382.0,517.26 L384.5,517.46 L387.0,517.64 L389.5,517.80 L392.0,517.93 L393.5,518.00" fill="none" stroke="#2DA265" stroke-width="1.80" stroke-linejoin="round" stroke-linecap="butt" />
<path d="M39.5,438.46 L42.0,438.77 L44.5,438.91 L47.0,437.99 L49.5,438.36 L52.0,439.11 L54.5,438.67 L57.0,438.50 L59.5,438.80 L62.0,438.50 L64.5,439.21 L67.0,438.76 L69.5,439.04 L72.0,438.52 L74.5,439.33 L77.0,438.89 L79.5,439.76 L82.0,439.23 L84.5,439.72 L87.0,439.82 L89.5,440.02 L92.0,439.28 L94.5,439.58 L97.0,439.86 L99.5,440.17 L102.0,439.82 L104.5,440.40 L107.0,440.45 L109.5,440.03 L112.0,440.29 L114.5,441.02 L117.0,440.24 L119.5,441.08 L122.0,440.43 L124.5,441.28 L127.0,441.40 L129.5,441.18 L132.0,441.56 L134.5,441.47 L137.0,441.59 L139.5,441.70 L142.0,441.82 L144.5,441.94 L147.0,442.06 L149.5,442.19 L152.0,442.32 L154.5,442.45 L157.0,442.59 L159.5,442.73 L162.0,442.88 L164.5,443.03 L167.0,443.18 L169.5,443.34 L172.0,443.50 L174.5,443.67 L177.0,443.85 L179.5,444.03 L182.0,444.21 L184.5,444.40 L187.0,444.60 L189.5,444.80 L192.0,445.01 L194.5,445.23 L197.0,445.45 L199.5,445.68 L202.0,445.91 L204.5,446.16 L207.0,446.41 L209.5,446.66 L212.0,446.93 L214.5,447.20 L217.0,447.48 L219.5,447.79 L222.0,448.13 L224.5,448.50 L227.0,448.90 L229.5,449.34 L232.0,449.80 L234.5,450.29 L237.0,450.80 L239.5,451.33 L242.0,451.89 L244.5,452.46 L247.0,453.05 L249.5,453.66 L252.0,454.27 L254.5,454.90 L257.0,455.54 L259.5,456.19 L262.0,456.84 L264.5,457.53 L267.0,458.26 L269.5,459.02 L272.0,459.82 L274.5,460.64 L277.0,461.50 L279.5,462.38 L282.0,463.27 L284.5,464.19 L287.0,465.13 L289.5,466.08 L292.0,467.04 L294.5,468.01 L297.0,468.98 L299.5,469.96 L302.0,470.94 L304.5,471.92 L307.0,472.89 L309.5,473.88 L312.0,474.88 L314.5,475.90 L317.0,476.93 L319.5,477.98 L322.0,479.04 L324.5,480.11 L327.0,481.20 L329.5,482.30 L332.0,483.41 L334.5,484.54 L337.0,485.68 L339.5,486.83 L342.0,487.99 L344.5,489.17 L347.0,490.36 L349.5,491.56 L352.0,492.79 L354.5,494.04 L357.0,495.33 L359.5,496.65 L362.0,498.01 L364.5,499.41 L367.0,500.91 L369.5,502.49 L372.0,504.13 L374.5,505.82 L377.0,507.52 L379.5,509.21 L382.0,510.87 L384.5,512.48 L387.0,514.02 L389.5,515.45 L392.0,516.77 L393.5,517.54" fill="none" stroke="#EE3A3E" stroke-width="1.80" stroke-linejoin="round" stroke-linecap="butt" />
<path d="M39.5,433.86 L42.0,432.58 L44.5,431.95 L47.0,431.99 L49.5,431.88 L52.0,432.20 L54.5,432.03 L57.0,432.14 L59.5,432.06 L62.0,432.37 L64.5,433.28 L67.0,432.74 L69.5,433.43 L72.0,433.78 L74.5,433.90 L77.0,433.41 L79.5,433.53 L82.0,433.54 L84.5,433.68 L87.0,434.01 L89.5,435.04 L92.0,434.50 L94.5,435.07 L97.0,434.91 L99.5,435.10 L102.0,435.73 L104.5,434.96 L107.0,435.51 L109.5,435.31 L112.0,435.90 L114.5,435.79 L117.0,436.22 L119.5,436.52 L122.0,436.35 L124.5,436.80 L127.0,436.98 L129.5,436.93 L132.0,437.12 L134.5,437.32 L137.0,437.51 L139.5,437.68 L142.0,437.85 L144.5,438.02 L147.0,438.18 L149.5,438.35 L152.0,438.51 L154.5,438.67 L157.0,438.84 L159.5,439.00 L162.0,439.16 L164.5,439.33 L167.0,439.50 L169.5,439.66 L172.0,439.84 L174.5,440.01 L177.0,440.19 L179.5,440.37 L182.0,440.55 L184.5,440.75 L187.0,440.94 L189.5,441.14 L192.0,441.35 L194.5,441.56 L197.0,441.79 L199.5,442.02 L202.0,442.25 L204.5,442.50 L207.0,442.75 L209.5,443.02 L212.0,443.29 L214.5,443.57 L217.0,443.87 L219.5,444.18 L222.0,444.53 L224.5,444.91 L227.0,445.31 L229.5,445.74 L232.0,446.20 L234.5,446.68 L237.0,447.18 L239.5,447.71 L242.0,448.25 L244.5,448.82 L247.0,449.40 L249.5,450.01 L252.0,450.62 L254.5,451.26 L257.0,451.90 L259.5,452.56 L262.0,453.24 L264.5,453.95 L267.0,454.72 L269.5,455.52 L272.0,456.37 L274.5,457.25 L277.0,458.17 L279.5,459.12 L282.0,460.09 L284.5,461.09 L287.0,462.12 L289.5,463.16 L292.0,464.21 L294.5,465.28 L297.0,466.35 L299.5,467.44 L302.0,468.52 L304.5,469.61 L307.0,470.69 L309.5,471.78 L312.0,472.89 L314.5,474.01 L317.0,475.15 L319.5,476.30 L322.0,477.48 L324.5,478.69 L327.0,479.92 L329.5,481.19 L332.0,482.49 L334.5,483.82 L337.0,485.19 L339.5,486.61 L342.0,488.07 L344.5,489.67 L347.0,491.41 L349.5,493.25 L352.0,495.14 L354.5,497.05 L357.0,498.92 L359.5,500.72 L362.0,502.41 L364.5,503.95 L367.0,505.42 L369.5,506.85 L372.0,508.25 L374.5,509.61 L377.0,510.92 L379.5,512.18 L382.0,513.39 L384.5,514.53 L387.0,515.61 L389.5,516.62 L392.0,517.50 L393.5,518.00" fill="none" stroke="#1F67DD" stroke-width="1.80" stroke-linejoin="round" stroke-linecap="butt" />
</g>
<g clip-path="url(#ccl)">
<path d="M39.5,654.82 L41.5,654.82 L43.5,654.82 L45.5,654.81 L47.5,654.81 L49.5,654.81 L51.5,654.81 L53.5,654.81 L55.5,654.81 L57.5,654.80 L59.5,654.80 L61.5,654.80 L63.5,654.80 L65.5,654.79 L67.5,654.79 L69.5,654.78 L71.5,654.78 L73.5,654.78 L75.5,654.77 L77.5,654.77 L79.5,654.76 L81.5,654.76 L83.5,654.75 L85.5,654.74 L87.5,654.74 L89.5,654.73 L91.5,654.73 L93.5,654.72 L95.5,654.71 L97.5,654.71 L99.5,654.70 L101.5,654.69 L103.5,654.68 L105.5,654.68 L107.5,654.67 L109.5,654.66 L111.5,654.65 L113.5,654.65 L115.5,654.64 L117.5,654.63 L119.5,654.62 L121.5,654.61 L123.5,654.60 L125.5,654.59 L127.5,654.59 L129.5,654.58 L131.5,654.57 L133.5,654.55 L135.5,654.54 L137.5,654.53 L139.5,654.51 L141.5,654.50 L143.5,654.48 L145.5,654.46 L147.5,654.44 L149.5,654.42 L151.5,654.40 L153.5,654.38 L155.5,654.36 L157.5,654.34 L159.5,654.31 L161.5,654.29 L163.5,654.26 L165.5,654.23 L167.5,654.20 L169.5,654.17 L171.5,654.14 L173.5,654.11 L175.5,654.08 L177.5,654.05 L179.5,654.01 L181.5,653.98 L183.5,653.94 L185.5,653.91 L187.5,653.87 L189.5,653.83 L191.5,653.79 L193.5,653.75 L195.5,653.71 L197.5,653.67 L199.5,653.63 L201.5,653.58 L203.5,653.54 L205.5,653.50 L207.5,653.45 L209.5,653.40 L211.5,653.36 L213.5,653.31 L215.5,653.26 L217.5,653.21 L219.5,653.15 L221.5,653.09 L223.5,653.02 L225.5,652.94 L227.5,652.86 L229.5,652.77 L231.5,652.67 L233.5,652.57 L235.5,652.47 L237.5,652.36 L239.5,652.25 L241.5,652.13 L243.5,652.01 L245.5,651.89 L247.5,651.77 L249.5,651.65 L251.5,651.52 L253.5,651.40 L255.5,651.27 L257.5,651.15 L259.5,651.02 L261.5,650.90 L263.5,650.78 L265.5,650.66 L267.5,650.54 L269.5,650.42 L271.5,650.30 L273.5,650.18 L275.5,650.06 L277.5,649.94 L279.5,649.81 L281.5,649.68 L283.5,649.54 L285.5,649.40 L287.5,649.25 L289.5,649.10 L291.5,648.94 L293.5,648.77 L295.5,648.59 L297.5,648.40 L299.5,648.20 L301.5,647.99 L303.5,647.77 L305.5,647.53 L307.5,647.27 L309.5,646.96 L311.5,646.60 L313.5,646.21 L315.5,645.78 L317.5,645.31 L319.5,644.81 L321.5,644.29 L323.5,643.73 L325.5,643.16 L327.5,642.56 L329.5,641.95 L331.5,641.32 L333.5,640.68 L335.5,640.03 L337.5,639.37 L339.5,638.67 L341.5,637.90 L343.5,637.08 L345.5,636.22 L347.5,635.31 L349.5,634.38 L351.5,633.42 L353.5,632.45 L355.5,631.46 L357.5,630.48 L359.5,629.50 L361.5,628.54 L363.5,627.60 L365.5,626.67 L367.5,625.74 L369.5,624.80 L371.5,623.87 L373.5,622.92 L375.5,621.98 L377.5,621.03 L379.5,620.08 L381.5,619.13 L383.5,618.17 L385.5,617.20 L387.5,616.24 L389.5,615.27 L391.5,614.30 L393.5,613.32" fill="none" stroke="#1F67DD" stroke-width="1.80" stroke-linejoin="round" stroke-linecap="butt" />
<path d="M39.5,654.36 L41.5,654.36 L43.5,654.36 L45.5,654.36 L47.5,654.35 L49.5,654.35 L51.5,654.35 L53.5,654.34 L55.5,654.34 L57.5,654.33 L59.5,654.33 L61.5,654.32 L63.5,654.31 L65.5,654.31 L67.5,654.30 L69.5,654.29 L71.5,654.28 L73.5,654.27 L75.5,654.26 L77.5,654.25 L79.5,654.24 L81.5,654.23 L83.5,654.22 L85.5,654.21 L87.5,654.19 L89.5,654.18 L91.5,654.17 L93.5,654.16 L95.5,654.14 L97.5,654.13 L99.5,654.11 L101.5,654.10 L103.5,654.09 L105.5,654.07 L107.5,654.06 L109.5,654.04 L111.5,654.03 L113.5,654.01 L115.5,654.00 L117.5,653.98 L119.5,653.96 L121.5,653.95 L123.5,653.93 L125.5,653.92 L127.5,653.90 L129.5,653.88 L131.5,653.87 L133.5,653.85 L135.5,653.83 L137.5,653.81 L139.5,653.79 L141.5,653.77 L143.5,653.75 L145.5,653.72 L147.5,653.70 L149.5,653.67 L151.5,653.65 L153.5,653.62 L155.5,653.60 L157.5,653.57 L159.5,653.54 L161.5,653.51 L163.5,653.48 L165.5,653.45 L167.5,653.42 L169.5,653.38 L171.5,653.35 L173.5,653.31 L175.5,653.28 L177.5,653.24 L179.5,653.20 L181.5,653.16 L183.5,653.12 L185.5,653.08 L187.5,653.04 L189.5,653.00 L191.5,652.96 L193.5,652.91 L195.5,652.87 L197.5,652.82 L199.5,652.77 L201.5,652.72 L203.5,652.67 L205.5,652.62 L207.5,652.57 L209.5,652.52 L211.5,652.46 L213.5,652.41 L215.5,652.35 L217.5,652.29 L219.5,652.23 L221.5,652.16 L223.5,652.08 L225.5,652.00 L227.5,651.91 L229.5,651.81 L231.5,651.71 L233.5,651.60 L235.5,651.49 L237.5,651.37 L239.5,651.25 L241.5,651.13 L243.5,651.00 L245.5,650.87 L247.5,650.74 L249.5,650.60 L251.5,650.46 L253.5,650.32 L255.5,650.18 L257.5,650.04 L259.5,649.89 L261.5,649.75 L263.5,649.61 L265.5,649.47 L267.5,649.33 L269.5,649.19 L271.5,649.05 L273.5,648.91 L275.5,648.76 L277.5,648.61 L279.5,648.45 L281.5,648.29 L283.5,648.12 L285.5,647.95 L287.5,647.76 L289.5,647.56 L291.5,647.35 L293.5,647.13 L295.5,646.90 L297.5,646.65 L299.5,646.38 L301.5,646.10 L303.5,645.80 L305.5,645.48 L307.5,645.10 L309.5,644.62 L311.5,644.03 L313.5,643.35 L315.5,642.59 L317.5,641.76 L319.5,640.87 L321.5,639.93 L323.5,638.95 L325.5,637.94 L327.5,636.91 L329.5,635.86 L331.5,634.82 L333.5,633.78 L335.5,632.76 L337.5,631.77 L339.5,630.76 L341.5,629.71 L343.5,628.63 L345.5,627.52 L347.5,626.39 L349.5,625.24 L351.5,624.07 L353.5,622.89 L355.5,621.69 L357.5,620.50 L359.5,619.30 L361.5,618.11 L363.5,616.92 L365.5,615.73 L367.5,614.54 L369.5,613.35 L371.5,612.14 L373.5,610.93 L375.5,609.72 L377.5,608.50 L379.5,607.27 L381.5,606.04 L383.5,604.80 L385.5,603.55 L387.5,602.30 L389.5,601.04 L391.5,599.77 L393.5,598.50" fill="none" stroke="#EE3A3E" stroke-width="1.80" stroke-linejoin="round" stroke-linecap="butt" />
<path d="M39.5,654.36 L41.5,654.36 L43.5,654.36 L45.5,654.36 L47.5,654.35 L49.5,654.35 L51.5,654.34 L53.5,654.34 L55.5,654.33 L57.5,654.32 L59.5,654.32 L61.5,654.31 L63.5,654.30 L65.5,654.29 L67.5,654.27 L69.5,654.26 L71.5,654.25 L73.5,654.24 L75.5,654.22 L77.5,654.21 L79.5,654.19 L81.5,654.18 L83.5,654.16 L85.5,654.14 L87.5,654.12 L89.5,654.11 L91.5,654.09 L93.5,654.07 L95.5,654.05 L97.5,654.03 L99.5,654.01 L101.5,653.98 L103.5,653.96 L105.5,653.94 L107.5,653.92 L109.5,653.89 L111.5,653.87 L113.5,653.85 L115.5,653.82 L117.5,653.80 L119.5,653.77 L121.5,653.75 L123.5,653.72 L125.5,653.70 L127.5,653.67 L129.5,653.64 L131.5,653.61 L133.5,653.58 L135.5,653.54 L137.5,653.50 L139.5,653.46 L141.5,653.41 L143.5,653.36 L145.5,653.31 L147.5,653.26 L149.5,653.20 L151.5,653.14 L153.5,653.08 L155.5,653.02 L157.5,652.95 L159.5,652.88 L161.5,652.81 L163.5,652.73 L165.5,652.66 L167.5,652.58 L169.5,652.50 L171.5,652.42 L173.5,652.33 L175.5,652.25 L177.5,652.16 L179.5,652.07 L181.5,651.97 L183.5,651.88 L185.5,651.78 L187.5,651.68 L189.5,651.58 L191.5,651.48 L193.5,651.37 L195.5,651.27 L197.5,651.16 L199.5,651.05 L201.5,650.94 L203.5,650.83 L205.5,650.71 L207.5,650.60 L209.5,650.48 L211.5,650.36 L213.5,650.24 L215.5,650.12 L217.5,650.00 L219.5,649.87 L221.5,649.73 L223.5,649.59 L225.5,649.44 L227.5,649.28 L229.5,649.11 L231.5,648.93 L233.5,648.75 L235.5,648.56 L237.5,648.36 L239.5,648.15 L241.5,647.94 L243.5,647.71 L245.5,647.48 L247.5,647.25 L249.5,647.00 L251.5,646.75 L253.5,646.49 L255.5,646.22 L257.5,645.94 L259.5,645.66 L261.5,645.36 L263.5,645.06 L265.5,644.74 L267.5,644.41 L269.5,644.06 L271.5,643.69 L273.5,643.31 L275.5,642.91 L277.5,642.49 L279.5,642.06 L281.5,641.60 L283.5,641.12 L285.5,640.62 L287.5,640.10 L289.5,639.56 L291.5,639.00 L293.5,638.41 L295.5,637.79 L297.5,637.16 L299.5,636.49 L301.5,635.80 L303.5,635.08 L305.5,634.33 L307.5,633.51 L309.5,632.54 L311.5,631.45 L313.5,630.25 L315.5,628.94 L317.5,627.54 L319.5,626.07 L321.5,624.53 L323.5,622.94 L325.5,621.31 L327.5,619.65 L329.5,617.97 L331.5,616.28 L333.5,614.61 L335.5,612.95 L337.5,611.31 L339.5,609.58 L341.5,607.70 L343.5,605.73 L345.5,603.68 L347.5,601.60 L349.5,599.51 L351.5,597.44 L353.5,595.42 L355.5,593.49 L357.5,591.68 L359.5,590.02 L361.5,588.54 L363.5,587.27 L365.5,586.14 L367.5,585.00 L369.5,583.86 L371.5,582.76 L373.5,581.71 L375.5,580.75 L377.5,579.89 L379.5,579.16 L381.5,578.58 L383.5,578.19 L385.5,577.99 L387.5,578.08 L389.5,578.56 L391.5,579.32 L393.5,580.26" fill="none" stroke="#2DA265" stroke-width="1.80" stroke-linejoin="round" stroke-linecap="butt" />
<path d="M39.5,653.22 L41.5,653.22 L43.5,653.22 L45.5,653.22 L47.5,653.21 L49.5,653.21 L51.5,653.20 L53.5,653.20 L55.5,653.19 L57.5,653.19 L59.5,653.18 L61.5,653.17 L63.5,653.16 L65.5,653.15 L67.5,653.14 L69.5,653.13 L71.5,653.12 L73.5,653.10 L75.5,653.09 L77.5,653.07 L79.5,653.06 L81.5,653.04 L83.5,653.03 L85.5,653.01 L87.5,652.99 L89.5,652.97 L91.5,652.96 L93.5,652.94 L95.5,652.92 L97.5,652.90 L99.5,652.88 L101.5,652.85 L103.5,652.83 L105.5,652.81 L107.5,652.79 L109.5,652.76 L111.5,652.74 L113.5,652.71 L115.5,652.69 L117.5,652.66 L119.5,652.64 L121.5,652.61 L123.5,652.58 L125.5,652.56 L127.5,652.53 L129.5,652.50 L131.5,652.46 L133.5,652.42 L135.5,652.37 L137.5,652.32 L139.5,652.27 L141.5,652.21 L143.5,652.14 L145.5,652.07 L147.5,652.00 L149.5,651.92 L151.5,651.84 L153.5,651.75 L155.5,651.66 L157.5,651.56 L159.5,651.46 L161.5,651.35 L163.5,651.24 L165.5,651.13 L167.5,651.01 L169.5,650.89 L171.5,650.76 L173.5,650.63 L175.5,650.50 L177.5,650.36 L179.5,650.22 L181.5,650.07 L183.5,649.92 L185.5,649.76 L187.5,649.60 L189.5,649.44 L191.5,649.28 L193.5,649.11 L195.5,648.93 L197.5,648.75 L199.5,648.57 L201.5,648.39 L203.5,648.20 L205.5,648.01 L207.5,647.81 L209.5,647.61 L211.5,647.41 L213.5,647.20 L215.5,647.00 L217.5,646.78 L219.5,646.55 L221.5,646.28 L223.5,645.99 L225.5,645.67 L227.5,645.33 L229.5,644.96 L231.5,644.57 L233.5,644.15 L235.5,643.72 L237.5,643.26 L239.5,642.78 L241.5,642.27 L243.5,641.75 L245.5,641.22 L247.5,640.66 L249.5,640.09 L251.5,639.50 L253.5,638.90 L255.5,638.28 L257.5,637.65 L259.5,637.00 L261.5,636.34 L263.5,635.60 L265.5,634.78 L267.5,633.88 L269.5,632.90 L271.5,631.86 L273.5,630.77 L275.5,629.63 L277.5,628.44 L279.5,627.23 L281.5,625.98 L283.5,624.72 L285.5,623.45 L287.5,622.17 L289.5,620.90 L291.5,619.64 L293.5,618.39 L295.5,617.18 L297.5,616.00 L299.5,614.86 L301.5,613.77 L303.5,612.74 L305.5,611.77 L307.5,610.82 L309.5,609.82 L311.5,608.79 L313.5,607.75 L315.5,606.72 L317.5,605.71 L319.5,604.75 L321.5,603.85 L323.5,603.02 L325.5,602.30 L327.5,601.69 L329.5,601.21 L331.5,600.88 L333.5,600.69 L335.5,600.52 L337.5,600.38 L339.5,600.24 L341.5,600.12 L343.5,600.02 L345.5,599.95 L347.5,599.90 L349.5,599.87 L351.5,599.90 L353.5,600.06 L355.5,600.35 L357.5,600.74 L359.5,601.23 L361.5,601.79 L363.5,602.40 L365.5,603.04 L367.5,603.69 L369.5,604.34 L371.5,604.96 L373.5,605.57 L375.5,606.20 L377.5,606.88 L379.5,607.58 L381.5,608.32 L383.5,609.09 L385.5,609.89 L387.5,610.71 L389.5,611.56 L391.5,612.43 L393.5,613.32" fill="none" stroke="#AE73E2" stroke-width="1.80" stroke-linejoin="round" stroke-linecap="butt" />
<path d="M39.5,652.31 L41.5,652.31 L43.5,652.30 L45.5,652.29 L47.5,652.27 L49.5,652.26 L51.5,652.23 L53.5,652.21 L55.5,652.18 L57.5,652.14 L59.5,652.11 L61.5,652.06 L63.5,652.02 L65.5,651.97 L67.5,651.92 L69.5,651.87 L71.5,651.81 L73.5,651.75 L75.5,651.68 L77.5,651.61 L79.5,651.54 L81.5,651.47 L83.5,651.39 L85.5,651.31 L87.5,651.23 L89.5,651.14 L91.5,651.06 L93.5,650.96 L95.5,650.87 L97.5,650.78 L99.5,650.68 L101.5,650.58 L103.5,650.47 L105.5,650.37 L107.5,650.26 L109.5,650.15 L111.5,650.04 L113.5,649.93 L115.5,649.81 L117.5,649.70 L119.5,649.58 L121.5,649.46 L123.5,649.33 L125.5,649.21 L127.5,649.08 L129.5,648.94 L131.5,648.77 L133.5,648.58 L135.5,648.38 L137.5,648.15 L139.5,647.90 L141.5,647.63 L143.5,647.35 L145.5,647.06 L147.5,646.75 L149.5,646.43 L151.5,646.09 L153.5,645.75 L155.5,645.40 L157.5,645.03 L159.5,644.67 L161.5,644.29 L163.5,643.91 L165.5,643.53 L167.5,643.14 L169.5,642.76 L171.5,642.37 L173.5,641.98 L175.5,641.57 L177.5,641.14 L179.5,640.69 L181.5,640.22 L183.5,639.74 L185.5,639.24 L187.5,638.73 L189.5,638.20 L191.5,637.67 L193.5,637.12 L195.5,636.57 L197.5,636.01 L199.5,635.44 L201.5,634.87 L203.5,634.30 L205.5,633.72 L207.5,633.14 L209.5,632.56 L211.5,631.99 L213.5,631.41 L215.5,630.84 L217.5,630.28 L219.5,629.70 L221.5,629.10 L223.5,628.48 L225.5,627.85 L227.5,627.21 L229.5,626.56 L231.5,625.90 L233.5,625.24 L235.5,624.58 L237.5,623.92 L239.5,623.26 L241.5,622.61 L243.5,621.97 L245.5,621.34 L247.5,620.72 L249.5,620.12 L251.5,619.55 L253.5,618.99 L255.5,618.46 L257.5,617.96 L259.5,617.49 L261.5,617.04 L263.5,616.60 L265.5,616.14 L267.5,615.67 L269.5,615.20 L271.5,614.73 L273.5,614.27 L275.5,613.83 L277.5,613.39 L279.5,612.99 L281.5,612.60 L283.5,612.25 L285.5,611.93 L287.5,611.66 L289.5,611.43 L291.5,611.24 L293.5,611.12 L295.5,611.05 L297.5,611.04 L299.5,611.08 L301.5,611.15 L303.5,611.25 L305.5,611.38 L307.5,611.52 L309.5,611.69 L311.5,611.86 L313.5,612.04 L315.5,612.23 L317.5,612.44 L319.5,612.70 L321.5,613.00 L323.5,613.33 L325.5,613.70 L327.5,614.10 L329.5,614.52 L331.5,614.97 L333.5,615.44 L335.5,615.93 L337.5,616.44 L339.5,617.02 L341.5,617.69 L343.5,618.42 L345.5,619.22 L347.5,620.06 L349.5,620.95 L351.5,621.86 L353.5,622.79 L355.5,623.73 L357.5,624.66 L359.5,625.58 L361.5,626.47 L363.5,627.33 L365.5,628.16 L367.5,628.99 L369.5,629.82 L371.5,630.65 L373.5,631.48 L375.5,632.31 L377.5,633.14 L379.5,633.97 L381.5,634.80 L383.5,635.63 L385.5,636.45 L387.5,637.28 L389.5,638.11 L391.5,638.94 L393.5,639.77" fill="none" stroke="#D39C12" stroke-width="1.80" stroke-linejoin="round" stroke-linecap="butt" />
<path d="M39.5,647.47 L41.5,648.12 L43.5,647.45 L45.5,648.16 L47.5,647.72 L49.5,647.84 L51.5,647.99 L53.5,647.73 L55.5,647.50 L57.5,647.37 L59.5,647.25 L61.5,647.89 L63.5,647.58 L65.5,647.28 L67.5,647.98 L69.5,647.35 L71.5,647.47 L73.5,647.33 L75.5,647.63 L77.5,647.56 L79.5,647.55 L81.5,647.19 L83.5,647.17 L85.5,647.11 L87.5,647.15 L89.5,646.93 L91.5,646.91 L93.5,647.67 L95.5,647.63 L97.5,646.82 L99.5,646.61 L101.5,646.75 L103.5,647.20 L105.5,647.23 L107.5,646.43 L109.5,646.94 L111.5,646.31 L113.5,646.77 L115.5,646.84 L117.5,647.14 L119.5,646.36 L121.5,646.84 L123.5,646.85 L125.5,646.85 L127.5,645.87 L129.5,646.26 L131.5,646.67 L133.5,645.98 L135.5,646.10 L137.5,645.77 L139.5,645.59 L141.5,645.38 L143.5,645.17 L145.5,644.94 L147.5,644.70 L149.5,644.44 L151.5,644.18 L153.5,643.91 L155.5,643.62 L157.5,643.33 L159.5,643.04 L161.5,642.74 L163.5,642.44 L165.5,642.13 L167.5,641.82 L169.5,641.52 L171.5,641.21 L173.5,640.90 L175.5,640.57 L177.5,640.22 L179.5,639.85 L181.5,639.46 L183.5,639.05 L185.5,638.63 L187.5,638.20 L189.5,637.76 L191.5,637.30 L193.5,636.84 L195.5,636.37 L197.5,635.90 L199.5,635.42 L201.5,634.94 L203.5,634.46 L205.5,633.98 L207.5,633.51 L209.5,633.04 L211.5,632.57 L213.5,632.11 L215.5,631.66 L217.5,631.22 L219.5,630.78 L221.5,630.33 L223.5,629.88 L225.5,629.42 L227.5,628.96 L229.5,628.50 L231.5,628.03 L233.5,627.57 L235.5,627.10 L237.5,626.64 L239.5,626.18 L241.5,625.73 L243.5,625.28 L245.5,624.83 L247.5,624.40 L249.5,623.97 L251.5,623.55 L253.5,623.14 L255.5,622.75 L257.5,622.36 L259.5,621.99 L261.5,621.63 L263.5,621.25 L265.5,620.86 L267.5,620.45 L269.5,620.04 L271.5,619.64 L273.5,619.25 L275.5,618.88 L277.5,618.55 L279.5,618.26 L281.5,618.01 L283.5,617.82 L285.5,617.70 L287.5,617.65 L289.5,617.66 L291.5,617.70 L293.5,617.75 L295.5,617.83 L297.5,617.92 L299.5,618.02 L301.5,618.13 L303.5,618.25 L305.5,618.37 L307.5,618.51 L309.5,618.69 L311.5,618.89 L313.5,619.13 L315.5,619.39 L317.5,619.67 L319.5,619.98 L321.5,620.30 L323.5,620.64 L325.5,620.99 L327.5,621.35 L329.5,621.72 L331.5,622.10 L333.5,622.48 L335.5,622.86 L337.5,623.24 L339.5,623.64 L341.5,624.06 L343.5,624.50 L345.5,624.97 L347.5,625.45 L349.5,625.95 L351.5,626.47 L353.5,627.00 L355.5,627.55 L357.5,628.11 L359.5,628.69 L361.5,629.27 L363.5,629.87 L365.5,630.49 L367.5,631.12 L369.5,631.78 L371.5,632.45 L373.5,633.15 L375.5,633.87 L377.5,634.61 L379.5,635.36 L381.5,636.14 L383.5,636.93 L385.5,637.74 L387.5,638.56 L389.5,639.41 L391.5,640.26 L393.5,641.14" fill="none" stroke="#4D4D4D" stroke-width="1.80" stroke-linejoin="round" stroke-linecap="butt" />
</g>
<path d="M50.0,556.40 H71.9" fill="none" stroke="#EE3A3E" stroke-width="1.90" stroke-linejoin="round" stroke-linecap="butt" />
<text x="73.60" y="559.80" font-size="9.00" text-anchor="start" >20%PS</text>
<path d="M50.0,567.42 H71.9" fill="none" stroke="#1F67DD" stroke-width="1.90" stroke-linejoin="round" stroke-linecap="butt" />
<text x="73.60" y="570.82" font-size="9.00" text-anchor="start" >15%PS</text>
<path d="M50.0,578.44 H71.9" fill="none" stroke="#2DA265" stroke-width="1.90" stroke-linejoin="round" stroke-linecap="butt" />
<text x="73.60" y="581.84" font-size="9.00" text-anchor="start" >10%PS</text>
<path d="M50.0,589.46 H71.9" fill="none" stroke="#AE73E2" stroke-width="1.90" stroke-linejoin="round" stroke-linecap="butt" />
<text x="73.60" y="592.86" font-size="9.00" text-anchor="start" >5%PS</text>
<path d="M50.0,600.48 H71.9" fill="none" stroke="#D39C12" stroke-width="1.90" stroke-linejoin="round" stroke-linecap="butt" />
<text x="73.60" y="603.88" font-size="9.00" text-anchor="start" >2.5%PS</text>
<path d="M50.0,611.50 H71.9" fill="none" stroke="#4D4D4D" stroke-width="1.90" stroke-linejoin="round" stroke-linecap="butt" />
<text x="73.60" y="614.90" font-size="9.00" text-anchor="start" >0%PS</text>
<rect x="39.50" y="428.50" width="354.00" height="227.00" fill="none" stroke="#000" stroke-width="1.15"/>
<line x1="39.50" y1="541.50" x2="393.50" y2="541.50" stroke="#000" stroke-width="1.15"/>
<line x1="35.00" y1="541.50" x2="39.50" y2="541.50" stroke="#111" stroke-width="1.1"/>
<line x1="37.00" y1="530.20" x2="39.50" y2="530.20" stroke="#111" stroke-width="1.1"/>
<line x1="35.00" y1="518.90" x2="39.50" y2="518.90" stroke="#111" stroke-width="1.1"/>
<line x1="37.00" y1="507.60" x2="39.50" y2="507.60" stroke="#111" stroke-width="1.1"/>
<line x1="35.00" y1="496.30" x2="39.50" y2="496.30" stroke="#111" stroke-width="1.1"/>
<line x1="37.00" y1="485.00" x2="39.50" y2="485.00" stroke="#111" stroke-width="1.1"/>
<line x1="35.00" y1="473.70" x2="39.50" y2="473.70" stroke="#111" stroke-width="1.1"/>
<line x1="37.00" y1="462.40" x2="39.50" y2="462.40" stroke="#111" stroke-width="1.1"/>
<line x1="35.00" y1="451.10" x2="39.50" y2="451.10" stroke="#111" stroke-width="1.1"/>
<line x1="37.00" y1="439.80" x2="39.50" y2="439.80" stroke="#111" stroke-width="1.1"/>
<line x1="35.00" y1="428.50" x2="39.50" y2="428.50" stroke="#111" stroke-width="1.1"/>
<line x1="35.00" y1="655.50" x2="39.50" y2="655.50" stroke="#111" stroke-width="1.1"/>
<line x1="37.00" y1="644.10" x2="39.50" y2="644.10" stroke="#111" stroke-width="1.1"/>
<line x1="35.00" y1="632.70" x2="39.50" y2="632.70" stroke="#111" stroke-width="1.1"/>
<line x1="37.00" y1="621.30" x2="39.50" y2="621.30" stroke="#111" stroke-width="1.1"/>
<line x1="35.00" y1="609.90" x2="39.50" y2="609.90" stroke="#111" stroke-width="1.1"/>
<line x1="37.00" y1="598.50" x2="39.50" y2="598.50" stroke="#111" stroke-width="1.1"/>
<line x1="35.00" y1="587.10" x2="39.50" y2="587.10" stroke="#111" stroke-width="1.1"/>
<line x1="37.00" y1="575.70" x2="39.50" y2="575.70" stroke="#111" stroke-width="1.1"/>
<line x1="35.00" y1="564.30" x2="39.50" y2="564.30" stroke="#111" stroke-width="1.1"/>
<line x1="37.00" y1="552.90" x2="39.50" y2="552.90" stroke="#111" stroke-width="1.1"/>
<line x1="35.00" y1="541.50" x2="39.50" y2="541.50" stroke="#111" stroke-width="1.1"/>
<text x="32.20" y="522.30" font-size="9.50" text-anchor="end" >5</text>
<text x="32.20" y="499.70" font-size="9.50" text-anchor="end" >10</text>
<text x="32.20" y="477.10" font-size="9.50" text-anchor="end" >15</text>
<text x="32.20" y="454.50" font-size="9.50" text-anchor="end" >20</text>
<text x="32.20" y="431.90" font-size="9.50" text-anchor="end" >25</text>
<text x="32.20" y="658.90" font-size="9.50" text-anchor="end" >0.0</text>
<text x="32.20" y="636.10" font-size="9.50" text-anchor="end" >0.1</text>
<text x="32.20" y="613.30" font-size="9.50" text-anchor="end" >0.2</text>
<text x="32.20" y="590.50" font-size="9.50" text-anchor="end" >0.3</text>
<text x="32.20" y="567.70" font-size="9.50" text-anchor="end" >0.4</text>
<text x="32.20" y="544.90" font-size="9.50" text-anchor="end" >0.5</text>
<line x1="39.50" y1="541.50" x2="39.50" y2="545.50" stroke="#111" stroke-width="1.1"/>
<line x1="57.26" y1="541.50" x2="57.26" y2="543.70" stroke="#111" stroke-width="1.1"/>
<line x1="67.65" y1="541.50" x2="67.65" y2="543.70" stroke="#111" stroke-width="1.1"/>
<line x1="75.02" y1="541.50" x2="75.02" y2="543.70" stroke="#111" stroke-width="1.1"/>
<line x1="80.74" y1="541.50" x2="80.74" y2="543.70" stroke="#111" stroke-width="1.1"/>
<line x1="85.41" y1="541.50" x2="85.41" y2="543.70" stroke="#111" stroke-width="1.1"/>
<line x1="89.36" y1="541.50" x2="89.36" y2="543.70" stroke="#111" stroke-width="1.1"/>
<line x1="92.78" y1="541.50" x2="92.78" y2="543.70" stroke="#111" stroke-width="1.1"/>
<line x1="95.80" y1="541.50" x2="95.80" y2="543.70" stroke="#111" stroke-width="1.1"/>
<line x1="98.50" y1="541.50" x2="98.50" y2="545.50" stroke="#111" stroke-width="1.1"/>
<line x1="116.26" y1="541.50" x2="116.26" y2="543.70" stroke="#111" stroke-width="1.1"/>
<line x1="126.65" y1="541.50" x2="126.65" y2="543.70" stroke="#111" stroke-width="1.1"/>
<line x1="134.02" y1="541.50" x2="134.02" y2="543.70" stroke="#111" stroke-width="1.1"/>
<line x1="139.74" y1="541.50" x2="139.74" y2="543.70" stroke="#111" stroke-width="1.1"/>
<line x1="144.41" y1="541.50" x2="144.41" y2="543.70" stroke="#111" stroke-width="1.1"/>
<line x1="148.36" y1="541.50" x2="148.36" y2="543.70" stroke="#111" stroke-width="1.1"/>
<line x1="151.78" y1="541.50" x2="151.78" y2="543.70" stroke="#111" stroke-width="1.1"/>
<line x1="154.80" y1="541.50" x2="154.80" y2="543.70" stroke="#111" stroke-width="1.1"/>
<line x1="157.50" y1="541.50" x2="157.50" y2="545.50" stroke="#111" stroke-width="1.1"/>
<line x1="175.26" y1="541.50" x2="175.26" y2="543.70" stroke="#111" stroke-width="1.1"/>
<line x1="185.65" y1="541.50" x2="185.65" y2="543.70" stroke="#111" stroke-width="1.1"/>
<line x1="193.02" y1="541.50" x2="193.02" y2="543.70" stroke="#111" stroke-width="1.1"/>
<line x1="198.74" y1="541.50" x2="198.74" y2="543.70" stroke="#111" stroke-width="1.1"/>
<line x1="203.41" y1="541.50" x2="203.41" y2="543.70" stroke="#111" stroke-width="1.1"/>
<line x1="207.36" y1="541.50" x2="207.36" y2="543.70" stroke="#111" stroke-width="1.1"/>
<line x1="210.78" y1="541.50" x2="210.78" y2="543.70" stroke="#111" stroke-width="1.1"/>
<line x1="213.80" y1="541.50" x2="213.80" y2="543.70" stroke="#111" stroke-width="1.1"/>
<line x1="216.50" y1="541.50" x2="216.50" y2="545.50" stroke="#111" stroke-width="1.1"/>
<line x1="234.26" y1="541.50" x2="234.26" y2="543.70" stroke="#111" stroke-width="1.1"/>
<line x1="244.65" y1="541.50" x2="244.65" y2="543.70" stroke="#111" stroke-width="1.1"/>
<line x1="252.02" y1="541.50" x2="252.02" y2="543.70" stroke="#111" stroke-width="1.1"/>
<line x1="257.74" y1="541.50" x2="257.74" y2="543.70" stroke="#111" stroke-width="1.1"/>
<line x1="262.41" y1="541.50" x2="262.41" y2="543.70" stroke="#111" stroke-width="1.1"/>
<line x1="266.36" y1="541.50" x2="266.36" y2="543.70" stroke="#111" stroke-width="1.1"/>
<line x1="269.78" y1="541.50" x2="269.78" y2="543.70" stroke="#111" stroke-width="1.1"/>
<line x1="272.80" y1="541.50" x2="272.80" y2="543.70" stroke="#111" stroke-width="1.1"/>
<line x1="275.50" y1="541.50" x2="275.50" y2="545.50" stroke="#111" stroke-width="1.1"/>
<line x1="293.26" y1="541.50" x2="293.26" y2="543.70" stroke="#111" stroke-width="1.1"/>
<line x1="303.65" y1="541.50" x2="303.65" y2="543.70" stroke="#111" stroke-width="1.1"/>
<line x1="311.02" y1="541.50" x2="311.02" y2="543.70" stroke="#111" stroke-width="1.1"/>
<line x1="316.74" y1="541.50" x2="316.74" y2="543.70" stroke="#111" stroke-width="1.1"/>
<line x1="321.41" y1="541.50" x2="321.41" y2="543.70" stroke="#111" stroke-width="1.1"/>
<line x1="325.36" y1="541.50" x2="325.36" y2="543.70" stroke="#111" stroke-width="1.1"/>
<line x1="328.78" y1="541.50" x2="328.78" y2="543.70" stroke="#111" stroke-width="1.1"/>
<line x1="331.80" y1="541.50" x2="331.80" y2="543.70" stroke="#111" stroke-width="1.1"/>
<line x1="334.50" y1="541.50" x2="334.50" y2="545.50" stroke="#111" stroke-width="1.1"/>
<line x1="352.26" y1="541.50" x2="352.26" y2="543.70" stroke="#111" stroke-width="1.1"/>
<line x1="362.65" y1="541.50" x2="362.65" y2="543.70" stroke="#111" stroke-width="1.1"/>
<line x1="370.02" y1="541.50" x2="370.02" y2="543.70" stroke="#111" stroke-width="1.1"/>
<line x1="375.74" y1="541.50" x2="375.74" y2="543.70" stroke="#111" stroke-width="1.1"/>
<line x1="380.41" y1="541.50" x2="380.41" y2="543.70" stroke="#111" stroke-width="1.1"/>
<line x1="384.36" y1="541.50" x2="384.36" y2="543.70" stroke="#111" stroke-width="1.1"/>
<line x1="387.78" y1="541.50" x2="387.78" y2="543.70" stroke="#111" stroke-width="1.1"/>
<line x1="390.80" y1="541.50" x2="390.80" y2="543.70" stroke="#111" stroke-width="1.1"/>
<line x1="393.50" y1="541.50" x2="393.50" y2="545.50" stroke="#111" stroke-width="1.1"/>
<line x1="39.50" y1="655.50" x2="39.50" y2="660.00" stroke="#111" stroke-width="1.1"/>
<line x1="60.81" y1="655.50" x2="60.81" y2="657.70" stroke="#111" stroke-width="1.1"/>
<line x1="73.28" y1="655.50" x2="73.28" y2="657.70" stroke="#111" stroke-width="1.1"/>
<line x1="82.13" y1="655.50" x2="82.13" y2="657.70" stroke="#111" stroke-width="1.1"/>
<line x1="88.99" y1="655.50" x2="88.99" y2="657.70" stroke="#111" stroke-width="1.1"/>
<line x1="94.59" y1="655.50" x2="94.59" y2="657.70" stroke="#111" stroke-width="1.1"/>
<line x1="99.33" y1="655.50" x2="99.33" y2="657.70" stroke="#111" stroke-width="1.1"/>
<line x1="103.44" y1="655.50" x2="103.44" y2="657.70" stroke="#111" stroke-width="1.1"/>
<line x1="107.06" y1="655.50" x2="107.06" y2="657.70" stroke="#111" stroke-width="1.1"/>
<line x1="110.30" y1="655.50" x2="110.30" y2="660.00" stroke="#111" stroke-width="1.1"/>
<line x1="131.61" y1="655.50" x2="131.61" y2="657.70" stroke="#111" stroke-width="1.1"/>
<line x1="144.08" y1="655.50" x2="144.08" y2="657.70" stroke="#111" stroke-width="1.1"/>
<line x1="152.93" y1="655.50" x2="152.93" y2="657.70" stroke="#111" stroke-width="1.1"/>
<line x1="159.79" y1="655.50" x2="159.79" y2="657.70" stroke="#111" stroke-width="1.1"/>
<line x1="165.39" y1="655.50" x2="165.39" y2="657.70" stroke="#111" stroke-width="1.1"/>
<line x1="170.13" y1="655.50" x2="170.13" y2="657.70" stroke="#111" stroke-width="1.1"/>
<line x1="174.24" y1="655.50" x2="174.24" y2="657.70" stroke="#111" stroke-width="1.1"/>
<line x1="177.86" y1="655.50" x2="177.86" y2="657.70" stroke="#111" stroke-width="1.1"/>
<line x1="181.10" y1="655.50" x2="181.10" y2="660.00" stroke="#111" stroke-width="1.1"/>
<line x1="202.41" y1="655.50" x2="202.41" y2="657.70" stroke="#111" stroke-width="1.1"/>
<line x1="214.88" y1="655.50" x2="214.88" y2="657.70" stroke="#111" stroke-width="1.1"/>
<line x1="223.73" y1="655.50" x2="223.73" y2="657.70" stroke="#111" stroke-width="1.1"/>
<line x1="230.59" y1="655.50" x2="230.59" y2="657.70" stroke="#111" stroke-width="1.1"/>
<line x1="236.19" y1="655.50" x2="236.19" y2="657.70" stroke="#111" stroke-width="1.1"/>
<line x1="240.93" y1="655.50" x2="240.93" y2="657.70" stroke="#111" stroke-width="1.1"/>
<line x1="245.04" y1="655.50" x2="245.04" y2="657.70" stroke="#111" stroke-width="1.1"/>
<line x1="248.66" y1="655.50" x2="248.66" y2="657.70" stroke="#111" stroke-width="1.1"/>
<line x1="251.90" y1="655.50" x2="251.90" y2="660.00" stroke="#111" stroke-width="1.1"/>
<line x1="273.21" y1="655.50" x2="273.21" y2="657.70" stroke="#111" stroke-width="1.1"/>
<line x1="285.68" y1="655.50" x2="285.68" y2="657.70" stroke="#111" stroke-width="1.1"/>
<line x1="294.53" y1="655.50" x2="294.53" y2="657.70" stroke="#111" stroke-width="1.1"/>
<line x1="301.39" y1="655.50" x2="301.39" y2="657.70" stroke="#111" stroke-width="1.1"/>
<line x1="306.99" y1="655.50" x2="306.99" y2="657.70" stroke="#111" stroke-width="1.1"/>
<line x1="311.73" y1="655.50" x2="311.73" y2="657.70" stroke="#111" stroke-width="1.1"/>
<line x1="315.84" y1="655.50" x2="315.84" y2="657.70" stroke="#111" stroke-width="1.1"/>
<line x1="319.46" y1="655.50" x2="319.46" y2="657.70" stroke="#111" stroke-width="1.1"/>
<line x1="322.70" y1="655.50" x2="322.70" y2="660.00" stroke="#111" stroke-width="1.1"/>
<line x1="344.01" y1="655.50" x2="344.01" y2="657.70" stroke="#111" stroke-width="1.1"/>
<line x1="356.48" y1="655.50" x2="356.48" y2="657.70" stroke="#111" stroke-width="1.1"/>
<line x1="365.33" y1="655.50" x2="365.33" y2="657.70" stroke="#111" stroke-width="1.1"/>
<line x1="372.19" y1="655.50" x2="372.19" y2="657.70" stroke="#111" stroke-width="1.1"/>
<line x1="377.79" y1="655.50" x2="377.79" y2="657.70" stroke="#111" stroke-width="1.1"/>
<line x1="382.53" y1="655.50" x2="382.53" y2="657.70" stroke="#111" stroke-width="1.1"/>
<line x1="386.64" y1="655.50" x2="386.64" y2="657.70" stroke="#111" stroke-width="1.1"/>
<line x1="390.26" y1="655.50" x2="390.26" y2="657.70" stroke="#111" stroke-width="1.1"/>
<line x1="393.50" y1="655.50" x2="393.50" y2="660.00" stroke="#111" stroke-width="1.1"/>
<text x="39.50" y="672.60" font-size="9.40" text-anchor="middle" >1000</text>
<text x="110.30" y="672.60" font-size="9.40" text-anchor="middle" >10000</text>
<text x="181.10" y="672.60" font-size="9.40" text-anchor="middle" >100000</text>
<text x="251.90" y="672.60" font-size="9.40" text-anchor="middle" >1000000</text>
<text x="322.70" y="672.60" font-size="9.40" text-anchor="middle" >1E7</text>
<text x="393.50" y="672.60" font-size="9.40" text-anchor="middle" >1E8</text>
<text x="209.50" y="683.00" font-size="11.70" text-anchor="middle" >Frequency (Hz)</text>
<text transform="translate(14.7,485.00) rotate(-90)" font-size="11.6" text-anchor="middle">Dielectric constant</text>
<text transform="translate(14.7,598.50) rotate(-90)" font-size="11.6" text-anchor="middle">Loss tangent</text>
<text x="0.00" y="23.50" font-size="10.20" text-anchor="start" >(a)</text>
<text x="0.00" y="170.00" font-size="10.20" text-anchor="start" >(b)</text>
<text x="0.00" y="429.50" font-size="10.20" text-anchor="start" >(c)</text>
<g>
<polyline points="36.50,29.60 45.00,25.00 53.20,30.30 61.40,25.00 69.60,30.30 77.80,25.00 86.00,30.30 94.20,25.00 102.40,30.30 110.60,25.00 118.80,30.30 127.00,25.00 143.00,29.50" fill="none" stroke="#3a3a3a" stroke-width="0.60"/>
<line x1="45.00" y1="25.00" x2="40.80" y2="17.80" stroke="#3a3a3a" stroke-width="0.60"/>
<line x1="45.00" y1="25.00" x2="49.20" y2="17.80" stroke="#3a3a3a" stroke-width="0.60"/>
<circle cx="40.60" cy="17.40" r="0.70" fill="#555"/>
<circle cx="49.40" cy="17.40" r="0.70" fill="#555"/>
<line x1="61.40" y1="25.00" x2="57.20" y2="17.80" stroke="#3a3a3a" stroke-width="0.60"/>
<line x1="61.40" y1="25.00" x2="65.60" y2="17.80" stroke="#3a3a3a" stroke-width="0.60"/>
<circle cx="57.00" cy="17.40" r="0.70" fill="#555"/>
<circle cx="65.80" cy="17.40" r="0.70" fill="#555"/>
<line x1="77.80" y1="25.00" x2="73.60" y2="17.80" stroke="#3a3a3a" stroke-width="0.60"/>
<line x1="77.80" y1="25.00" x2="82.00" y2="17.80" stroke="#3a3a3a" stroke-width="0.60"/>
<circle cx="73.40" cy="17.40" r="0.70" fill="#555"/>
<circle cx="82.20" cy="17.40" r="0.70" fill="#555"/>
<line x1="94.20" y1="25.00" x2="90.00" y2="17.80" stroke="#3a3a3a" stroke-width="0.60"/>
<line x1="94.20" y1="25.00" x2="98.40" y2="17.80" stroke="#3a3a3a" stroke-width="0.60"/>
<circle cx="89.80" cy="17.40" r="0.70" fill="#555"/>
<circle cx="98.60" cy="17.40" r="0.70" fill="#555"/>
<line x1="110.60" y1="25.00" x2="106.40" y2="17.80" stroke="#3a3a3a" stroke-width="0.60"/>
<line x1="110.60" y1="25.00" x2="114.80" y2="17.80" stroke="#3a3a3a" stroke-width="0.60"/>
<circle cx="106.20" cy="17.40" r="0.70" fill="#555"/>
<circle cx="115.00" cy="17.40" r="0.70" fill="#555"/>
<line x1="127.00" y1="25.00" x2="122.80" y2="17.80" stroke="#3a3a3a" stroke-width="0.60"/>
<line x1="127.00" y1="25.00" x2="131.20" y2="17.80" stroke="#3a3a3a" stroke-width="0.60"/>
<circle cx="122.60" cy="17.40" r="0.70" fill="#555"/>
<circle cx="131.40" cy="17.40" r="0.70" fill="#555"/>
<line x1="40.10" y1="21.50" x2="40.10" y2="34.50" stroke="#333" stroke-width="0.70"/>
<line x1="139.20" y1="22.50" x2="139.20" y2="34.50" stroke="#333" stroke-width="0.70"/>
<text x="141.50" y="34.50" font-size="2.60" fill="#333" text-anchor="middle">n</text>
<circle cx="88.00" cy="35.70" r="0.50" fill="#555"/>
<polyline points="36.50,53.50 45.00,48.80 53.20,54.60 61.40,48.80 69.60,54.60 77.80,48.80 88.00,54.60" fill="none" stroke="#3a3a3a" stroke-width="0.60"/>
<line x1="45.00" y1="48.80" x2="40.80" y2="41.50" stroke="#3a3a3a" stroke-width="0.60"/>
<line x1="45.00" y1="48.80" x2="49.20" y2="41.50" stroke="#3a3a3a" stroke-width="0.60"/>
<circle cx="40.60" cy="41.10" r="0.70" fill="#555"/>
<circle cx="49.40" cy="41.10" r="0.70" fill="#555"/>
<line x1="61.40" y1="48.80" x2="57.20" y2="41.50" stroke="#3a3a3a" stroke-width="0.60"/>
<line x1="61.40" y1="48.80" x2="65.60" y2="41.50" stroke="#3a3a3a" stroke-width="0.60"/>
<circle cx="57.00" cy="41.10" r="0.70" fill="#555"/>
<circle cx="65.80" cy="41.10" r="0.70" fill="#555"/>
<line x1="77.80" y1="48.80" x2="73.60" y2="41.50" stroke="#3a3a3a" stroke-width="0.60"/>
<line x1="77.80" y1="48.80" x2="82.00" y2="41.50" stroke="#3a3a3a" stroke-width="0.60"/>
<circle cx="73.40" cy="41.10" r="0.70" fill="#555"/>
<circle cx="82.20" cy="41.10" r="0.70" fill="#555"/>
<line x1="40.10" y1="45.50" x2="40.10" y2="58.00" stroke="#333" stroke-width="0.70"/>
<line x1="87.30" y1="46.00" x2="87.30" y2="56.50" stroke="#333" stroke-width="0.70"/>
<line x1="91.50" y1="46.00" x2="91.50" y2="56.50" stroke="#333" stroke-width="0.70"/>
<text x="88.50" y="57.50" font-size="2.60" fill="#333" text-anchor="middle">co</text>
<polyline points="91.50,52.00 93.70,50.20 101.90,54.50 110.30,50.20 118.50,54.50 126.90,50.20 139.50,53.50 143.00,55.00" fill="none" stroke="#3a3a3a" stroke-width="0.60"/>
<line x1="93.70" y1="50.20" x2="93.70" y2="41.20" stroke="#3a3a3a" stroke-width="0.60"/>
<circle cx="93.70" cy="40.60" r="0.70" fill="#555"/>
<line x1="101.90" y1="54.50" x2="97.40" y2="61.80" stroke="#3a3a3a" stroke-width="0.60"/>
<line x1="101.90" y1="54.50" x2="106.40" y2="61.80" stroke="#3a3a3a" stroke-width="0.60"/>
<circle cx="97.20" cy="62.30" r="0.70" fill="#555"/>
<circle cx="106.60" cy="62.30" r="0.70" fill="#555"/>
<line x1="110.30" y1="50.20" x2="110.30" y2="41.20" stroke="#3a3a3a" stroke-width="0.60"/>
<circle cx="110.30" cy="40.60" r="0.70" fill="#555"/>
<line x1="118.50" y1="54.50" x2="114.00" y2="61.80" stroke="#3a3a3a" stroke-width="0.60"/>
<line x1="118.50" y1="54.50" x2="123.00" y2="61.80" stroke="#3a3a3a" stroke-width="0.60"/>
<circle cx="113.80" cy="62.30" r="0.70" fill="#555"/>
<circle cx="123.20" cy="62.30" r="0.70" fill="#555"/>
<line x1="126.90" y1="50.20" x2="126.90" y2="41.20" stroke="#3a3a3a" stroke-width="0.60"/>
<circle cx="126.90" cy="40.60" r="0.70" fill="#555"/>
<line x1="135.10" y1="54.50" x2="130.60" y2="61.80" stroke="#3a3a3a" stroke-width="0.60"/>
<line x1="135.10" y1="54.50" x2="139.60" y2="61.80" stroke="#3a3a3a" stroke-width="0.60"/>
<circle cx="130.40" cy="62.30" r="0.70" fill="#555"/>
<circle cx="139.80" cy="62.30" r="0.70" fill="#555"/>
<line x1="139.20" y1="47.80" x2="139.20" y2="56.70" stroke="#333" stroke-width="0.70"/>
<text x="141.50" y="57.50" font-size="2.60" fill="#333" text-anchor="middle">n</text>
<circle cx="88.00" cy="64.00" r="0.50" fill="#555"/>
<polyline points="36.50,81.60 45.00,77.20 53.20,83.00 61.40,77.20 69.60,83.00 77.80,77.20 88.00,83.00" fill="none" stroke="#3a3a3a" stroke-width="0.60"/>
<line x1="45.00" y1="77.20" x2="40.80" y2="69.80" stroke="#3a3a3a" stroke-width="0.60"/>
<line x1="45.00" y1="77.20" x2="49.20" y2="69.80" stroke="#3a3a3a" stroke-width="0.60"/>
<circle cx="40.60" cy="69.40" r="0.70" fill="#555"/>
<circle cx="49.40" cy="69.40" r="0.70" fill="#555"/>
<line x1="61.40" y1="77.20" x2="57.20" y2="69.80" stroke="#3a3a3a" stroke-width="0.60"/>
<line x1="61.40" y1="77.20" x2="65.60" y2="69.80" stroke="#3a3a3a" stroke-width="0.60"/>
<circle cx="57.00" cy="69.40" r="0.70" fill="#555"/>
<circle cx="65.80" cy="69.40" r="0.70" fill="#555"/>
<line x1="77.80" y1="77.20" x2="73.60" y2="69.80" stroke="#3a3a3a" stroke-width="0.60"/>
<line x1="77.80" y1="77.20" x2="82.00" y2="69.80" stroke="#3a3a3a" stroke-width="0.60"/>
<circle cx="73.40" cy="69.40" r="0.70" fill="#555"/>
<circle cx="82.20" cy="69.40" r="0.70" fill="#555"/>
<line x1="40.10" y1="73.50" x2="40.10" y2="86.00" stroke="#333" stroke-width="0.70"/>
<line x1="87.30" y1="74.50" x2="87.30" y2="85.00" stroke="#333" stroke-width="0.70"/>
<line x1="91.50" y1="74.50" x2="91.50" y2="85.00" stroke="#333" stroke-width="0.70"/>
<text x="88.50" y="86.00" font-size="2.60" fill="#333" text-anchor="middle">co</text>
<polyline points="91.50,80.50 93.70,78.50 101.90,82.50 110.30,78.50 118.50,82.50 126.90,78.50 139.50,82.00 143.00,83.50" fill="none" stroke="#3a3a3a" stroke-width="0.60"/>
<line x1="93.70" y1="78.50" x2="89.90" y2="70.20" stroke="#3a3a3a" stroke-width="0.60"/>
<line x1="93.70" y1="78.50" x2="97.50" y2="70.20" stroke="#3a3a3a" stroke-width="0.60"/>
<circle cx="89.70" cy="69.80" r="0.70" fill="#555"/>
<circle cx="97.70" cy="69.80" r="0.70" fill="#555"/>
<line x1="101.90" y1="82.50" x2="97.40" y2="89.80" stroke="#3a3a3a" stroke-width="0.60"/>
<line x1="101.90" y1="82.50" x2="106.40" y2="89.80" stroke="#3a3a3a" stroke-width="0.60"/>
<circle cx="97.20" cy="90.30" r="0.70" fill="#555"/>
<text x="107.90" y="91.50" font-size="2.60" fill="#333" text-anchor="middle">CF<tspan font-size="1.8">3</tspan></text>
<line x1="110.30" y1="78.50" x2="106.50" y2="70.20" stroke="#3a3a3a" stroke-width="0.60"/>
<line x1="110.30" y1="78.50" x2="114.10" y2="70.20" stroke="#3a3a3a" stroke-width="0.60"/>
<circle cx="106.30" cy="69.80" r="0.70" fill="#555"/>
<circle cx="114.30" cy="69.80" r="0.70" fill="#555"/>
<line x1="118.50" y1="82.50" x2="114.00" y2="89.80" stroke="#3a3a3a" stroke-width="0.60"/>
<line x1="118.50" y1="82.50" x2="123.00" y2="89.80" stroke="#3a3a3a" stroke-width="0.60"/>
<circle cx="113.80" cy="90.30" r="0.70" fill="#555"/>
<text x="124.50" y="91.50" font-size="2.60" fill="#333" text-anchor="middle">CF<tspan font-size="1.8">3</tspan></text>
<line x1="126.90" y1="78.50" x2="123.10" y2="70.20" stroke="#3a3a3a" stroke-width="0.60"/>
<line x1="126.90" y1="78.50" x2="130.70" y2="70.20" stroke="#3a3a3a" stroke-width="0.60"/>
<circle cx="122.90" cy="69.80" r="0.70" fill="#555"/>
<circle cx="130.90" cy="69.80" r="0.70" fill="#555"/>
<line x1="135.10" y1="82.50" x2="130.60" y2="89.80" stroke="#3a3a3a" stroke-width="0.60"/>
<line x1="135.10" y1="82.50" x2="139.60" y2="89.80" stroke="#3a3a3a" stroke-width="0.60"/>
<circle cx="130.40" cy="90.30" r="0.70" fill="#555"/>
<text x="141.10" y="91.50" font-size="2.60" fill="#333" text-anchor="middle">CF<tspan font-size="1.8">3</tspan></text>
<line x1="139.20" y1="76.00" x2="139.20" y2="85.00" stroke="#333" stroke-width="0.70"/>
<text x="141.50" y="86.00" font-size="2.60" fill="#333" text-anchor="middle">n</text>
<circle cx="88.00" cy="91.40" r="0.50" fill="#555"/>
<polyline points="37.50,112.20 45.70,109.00 53.90,113.80 62.10,109.00 70.30,113.80 78.50,109.00 86.70,113.80 94.90,109.00 103.10,113.80 111.30,109.00 119.50,113.80 127.70,109.00 143.00,113.20" fill="none" stroke="#3a3a3a" stroke-width="0.60"/>
<line x1="45.70" y1="109.00" x2="45.70" y2="102.60" stroke="#3a3a3a" stroke-width="0.60"/>
<text x="45.70" y="101.80" font-size="3.20" fill="#333" text-anchor="middle">CH<tspan font-size="2">3</tspan></text>
<line x1="62.10" y1="109.00" x2="62.10" y2="102.60" stroke="#3a3a3a" stroke-width="0.60"/>
<text x="62.10" y="101.80" font-size="3.20" fill="#333" text-anchor="middle">CH<tspan font-size="2">3</tspan></text>
<line x1="78.50" y1="109.00" x2="78.50" y2="102.60" stroke="#3a3a3a" stroke-width="0.60"/>
<text x="78.50" y="101.80" font-size="3.20" fill="#333" text-anchor="middle">CH<tspan font-size="2">3</tspan></text>
<line x1="94.90" y1="109.00" x2="94.90" y2="102.60" stroke="#3a3a3a" stroke-width="0.60"/>
<text x="94.90" y="101.80" font-size="3.20" fill="#333" text-anchor="middle">CH<tspan font-size="2">3</tspan></text>
<line x1="111.30" y1="109.00" x2="111.30" y2="102.60" stroke="#3a3a3a" stroke-width="0.60"/>
<text x="111.30" y="101.80" font-size="3.20" fill="#333" text-anchor="middle">CH<tspan font-size="2">3</tspan></text>
<line x1="127.70" y1="109.00" x2="127.70" y2="102.60" stroke="#3a3a3a" stroke-width="0.60"/>
<text x="127.70" y="101.80" font-size="3.20" fill="#333" text-anchor="middle">CH<tspan font-size="2">3</tspan></text>
<line x1="42.00" y1="102.50" x2="42.00" y2="115.00" stroke="#333" stroke-width="0.70"/>
<line x1="140.40" y1="102.50" x2="140.40" y2="115.00" stroke="#333" stroke-width="0.70"/>
<text x="142.50" y="117.50" font-size="2.60" fill="#333" text-anchor="middle">n</text>
<circle cx="88.00" cy="118.20" r="0.50" fill="#555"/>
<polyline points="37.50,142.80 45.70,138.30 53.90,143.00 62.10,138.30 70.30,143.00 78.50,138.30 86.70,143.00 94.90,138.30 103.10,143.00 111.30,138.30 119.50,143.00 127.70,138.30 143.00,142.50" fill="none" stroke="#3a3a3a" stroke-width="0.60"/>
<line x1="45.70" y1="138.30" x2="45.70" y2="128.50" stroke="#3a3a3a" stroke-width="0.60"/>
<polygon points="45.70,128.50 48.82,126.70 48.82,123.10 45.70,121.30 42.58,123.10 42.58,126.70" fill="none" stroke="#3a3a3a" stroke-width="0.6"/>
<path d="M43.60,123.70 L43.60,126.10 M46.00,122.60 L47.90,123.70" stroke="#3a3a3a" stroke-width="0.45"/>
<line x1="62.10" y1="138.30" x2="62.10" y2="128.50" stroke="#3a3a3a" stroke-width="0.60"/>
<polygon points="62.10,128.50 65.22,126.70 65.22,123.10 62.10,121.30 58.98,123.10 58.98,126.70" fill="none" stroke="#3a3a3a" stroke-width="0.6"/>
<path d="M60.00,123.70 L60.00,126.10 M62.40,122.60 L64.30,123.70" stroke="#3a3a3a" stroke-width="0.45"/>
<line x1="78.50" y1="138.30" x2="78.50" y2="128.50" stroke="#3a3a3a" stroke-width="0.60"/>
<polygon points="78.50,128.50 81.62,126.70 81.62,123.10 78.50,121.30 75.38,123.10 75.38,126.70" fill="none" stroke="#3a3a3a" stroke-width="0.6"/>
<path d="M76.40,123.70 L76.40,126.10 M78.80,122.60 L80.70,123.70" stroke="#3a3a3a" stroke-width="0.45"/>
<line x1="94.90" y1="138.30" x2="94.90" y2="128.50" stroke="#3a3a3a" stroke-width="0.60"/>
<polygon points="94.90,128.50 98.02,126.70 98.02,123.10 94.90,121.30 91.78,123.10 91.78,126.70" fill="none" stroke="#3a3a3a" stroke-width="0.6"/>
<path d="M92.80,123.70 L92.80,126.10 M95.20,122.60 L97.10,123.70" stroke="#3a3a3a" stroke-width="0.45"/>
<line x1="111.30" y1="138.30" x2="111.30" y2="128.50" stroke="#3a3a3a" stroke-width="0.60"/>
<polygon points="111.30,128.50 114.42,126.70 114.42,123.10 111.30,121.30 108.18,123.10 108.18,126.70" fill="none" stroke="#3a3a3a" stroke-width="0.6"/>
<path d="M109.20,123.70 L109.20,126.10 M111.60,122.60 L113.50,123.70" stroke="#3a3a3a" stroke-width="0.45"/>
<line x1="127.70" y1="138.30" x2="127.70" y2="128.50" stroke="#3a3a3a" stroke-width="0.60"/>
<polygon points="127.70,128.50 130.82,126.70 130.82,123.10 127.70,121.30 124.58,123.10 124.58,126.70" fill="none" stroke="#3a3a3a" stroke-width="0.6"/>
<path d="M125.60,123.70 L125.60,126.10 M128.00,122.60 L129.90,123.70" stroke="#3a3a3a" stroke-width="0.45"/>
<line x1="42.00" y1="133.00" x2="42.00" y2="147.00" stroke="#333" stroke-width="0.70"/>
<line x1="140.40" y1="133.00" x2="140.40" y2="147.00" stroke="#333" stroke-width="0.70"/>
<text x="142.50" y="148.50" font-size="2.60" fill="#333" text-anchor="middle">n</text>
</g>
<path d="M149.38,22.90 C151.28,17.78 154.12,12.66 157.74,12.66 C161.25,12.66 161.72,21.88 165.05,21.88 C168.38,21.88 170.75,10.10 174.84,10.10 C178.64,10.10 178.16,20.98 180.91,20.98 C182.81,20.98 184.05,18.42 184.62,16.50" fill="none" stroke="#1E4591" stroke-width="7.20" stroke-linecap="butt" stroke-linejoin="round"/>
<path d="M149.38,22.90 C151.28,17.78 154.12,12.66 157.74,12.66 C161.25,12.66 161.72,21.88 165.05,21.88 C168.38,21.88 170.75,10.10 174.84,10.10 C178.64,10.10 178.16,20.98 180.91,20.98 C182.81,20.98 184.05,18.42 184.62,16.50" fill="none" stroke="#2E5DB0" stroke-width="4.75" stroke-linecap="butt" stroke-linejoin="round" transform="translate(-0.4,-0.6)"/>
<path d="M149.38,22.90 C151.28,17.78 154.12,12.66 157.74,12.66 C161.25,12.66 161.72,21.88 165.05,21.88 C168.38,21.88 170.75,10.10 174.84,10.10 C178.64,10.10 178.16,20.98 180.91,20.98 C182.81,20.98 184.05,18.42 184.62,16.50" fill="none" stroke="#7FA6E6" stroke-width="1.44" stroke-linecap="butt" stroke-linejoin="round" transform="translate(-0.9,-1.4)" opacity="0.75"/>
<path d="M149.38,53.30 C151.28,48.02 154.12,42.74 157.74,42.74 C161.25,42.74 161.72,52.24 165.05,52.24 C168.38,52.24 170.75,40.10 174.84,40.10 C178.64,40.10 178.16,51.32 180.91,51.32 C182.81,51.32 184.05,48.68 184.62,46.70" fill="none" stroke="#5E9E27" stroke-width="7.80" stroke-linecap="butt" stroke-linejoin="round"/>
<path d="M149.38,53.30 C151.28,48.02 154.12,42.74 157.74,42.74 C161.25,42.74 161.72,52.24 165.05,52.24 C168.38,52.24 170.75,40.10 174.84,40.10 C178.64,40.10 178.16,51.32 180.91,51.32 C182.81,51.32 184.05,48.68 184.62,46.70" fill="none" stroke="#86C643" stroke-width="5.15" stroke-linecap="butt" stroke-linejoin="round" transform="translate(-0.4,-0.6)"/>
<path d="M149.38,53.30 C151.28,48.02 154.12,42.74 157.74,42.74 C161.25,42.74 161.72,52.24 165.05,52.24 C168.38,52.24 170.75,40.10 174.84,40.10 C178.64,40.10 178.16,51.32 180.91,51.32 C182.81,51.32 184.05,48.68 184.62,46.70" fill="none" stroke="#D6F4A6" stroke-width="1.56" stroke-linecap="butt" stroke-linejoin="round" transform="translate(-0.9,-1.4)" opacity="0.75"/>
<path d="M149.38,82.10 C151.28,77.02 154.12,71.94 157.74,71.94 C161.25,71.94 161.72,81.08 165.05,81.08 C168.38,81.08 170.75,69.40 174.84,69.40 C178.64,69.40 178.16,80.19 180.91,80.19 C182.81,80.19 184.05,77.66 184.62,75.75" fill="none" stroke="#7E4CB8" stroke-width="7.80" stroke-linecap="butt" stroke-linejoin="round"/>
<path d="M149.38,82.10 C151.28,77.02 154.12,71.94 157.74,71.94 C161.25,71.94 161.72,81.08 165.05,81.08 C168.38,81.08 170.75,69.40 174.84,69.40 C178.64,69.40 178.16,80.19 180.91,80.19 C182.81,80.19 184.05,77.66 184.62,75.75" fill="none" stroke="#A574DE" stroke-width="5.15" stroke-linecap="butt" stroke-linejoin="round" transform="translate(-0.4,-0.6)"/>
<path d="M149.38,82.10 C151.28,77.02 154.12,71.94 157.74,71.94 C161.25,71.94 161.72,81.08 165.05,81.08 C168.38,81.08 170.75,69.40 174.84,69.40 C178.64,69.40 178.16,80.19 180.91,80.19 C182.81,80.19 184.05,77.66 184.62,75.75" fill="none" stroke="#E2CCF8" stroke-width="1.56" stroke-linecap="butt" stroke-linejoin="round" transform="translate(-0.9,-1.4)" opacity="0.75"/>
<path d="M149.38,111.50 C151.28,106.50 154.12,101.50 157.74,101.50 C161.25,101.50 161.72,110.50 165.05,110.50 C168.38,110.50 170.75,99.00 174.84,99.00 C178.64,99.00 178.16,109.62 180.91,109.62 C182.81,109.62 184.05,107.12 184.62,105.25" fill="none" stroke="#D2AE32" stroke-width="8.00" stroke-linecap="butt" stroke-linejoin="round"/>
<path d="M149.38,111.50 C151.28,106.50 154.12,101.50 157.74,101.50 C161.25,101.50 161.72,110.50 165.05,110.50 C168.38,110.50 170.75,99.00 174.84,99.00 C178.64,99.00 178.16,109.62 180.91,109.62 C182.81,109.62 184.05,107.12 184.62,105.25" fill="none" stroke="#F2D562" stroke-width="5.28" stroke-linecap="butt" stroke-linejoin="round" transform="translate(-0.4,-0.6)"/>
<path d="M149.38,111.50 C151.28,106.50 154.12,101.50 157.74,101.50 C161.25,101.50 161.72,110.50 165.05,110.50 C168.38,110.50 170.75,99.00 174.84,99.00 C178.64,99.00 178.16,109.62 180.91,109.62 C182.81,109.62 184.05,107.12 184.62,105.25" fill="none" stroke="#FFF6C8" stroke-width="1.60" stroke-linecap="butt" stroke-linejoin="round" transform="translate(-0.9,-1.4)" opacity="0.75"/>
<path d="M149.38,137.80 C151.28,132.88 154.12,127.96 157.74,127.96 C161.25,127.96 161.72,136.82 165.05,136.82 C168.38,136.82 170.75,125.50 174.84,125.50 C178.64,125.50 178.16,135.96 180.91,135.96 C182.81,135.96 184.05,133.50 184.62,131.65" fill="none" stroke="#14A7AE" stroke-width="4.00" stroke-linecap="butt" stroke-linejoin="round"/>
<path d="M149.38,137.80 C151.28,132.88 154.12,127.96 157.74,127.96 C161.25,127.96 161.72,136.82 165.05,136.82 C168.38,136.82 170.75,125.50 174.84,125.50 C178.64,125.50 178.16,135.96 180.91,135.96 C182.81,135.96 184.05,133.50 184.62,131.65" fill="none" stroke="#27C8CF" stroke-width="2.64" stroke-linecap="butt" stroke-linejoin="round" transform="translate(-0.4,-0.6)"/>
<path d="M149.38,137.80 C151.28,132.88 154.12,127.96 157.74,127.96 C161.25,127.96 161.72,136.82 165.05,136.82 C168.38,136.82 170.75,125.50 174.84,125.50 C178.64,125.50 178.16,135.96 180.91,135.96 C182.81,135.96 184.05,133.50 184.62,131.65" fill="none" stroke="#A8F2F4" stroke-width="0.80" stroke-linecap="butt" stroke-linejoin="round" transform="translate(-0.9,-1.4)" opacity="0.75"/>
<text x="167.30" y="34.90" font-size="9.00" text-anchor="middle" >PVDF</text>
<text x="174.60" y="65.20" font-size="9.00" text-anchor="middle" >P(VDF-TrFE)</text>
<text x="174.00" y="94.00" font-size="9.00" text-anchor="middle" >P(VDF-HFP)</text>
<text x="166.60" y="122.60" font-size="9.00" text-anchor="middle" >PP</text>
<text x="166.60" y="147.90" font-size="9.00" text-anchor="middle" >PS</text>
<path d="M201,28.3 H204.8 V128.4 H201 M204.8,78 H208.2" fill="none" stroke="#707070" stroke-width="0.8"/>
<path d="M209,79.9 H223.2 V77.3 L228.3,82.3 L223.2,87.3 V84.7 H209 Z" fill="#7b7b7b"/>
<ellipse cx="314" cy="152.5" rx="80" ry="6.5" fill="url(#sg)"/>
<ellipse cx="309.6" cy="79.2" rx="79.5" ry="74.7" fill="#BCE2EA"/>
<g clip-path="url(#sph)">
<path d="M245.61,55.49 C244.05,54.16 235.13,47.81 236.28,47.51 C237.42,47.22 247.50,53.79 252.50,53.70 C257.51,53.62 263.51,50.81 266.32,47.00 C269.14,43.18 266.14,34.58 269.40,30.82 C272.65,27.07 280.65,25.84 285.83,24.49 C291.01,23.14 294.98,23.77 300.48,22.72 C305.97,21.67 312.86,18.52 318.79,18.20 C324.73,17.87 333.20,20.35 336.08,20.78" fill="none" stroke="#1b939e" stroke-width="1.96" stroke-linecap="round" stroke-linejoin="round"/>
<path d="M245.61,55.49 C244.05,54.16 235.13,47.81 236.28,47.51 C237.42,47.22 247.50,53.79 252.50,53.70 C257.51,53.62 263.51,50.81 266.32,47.00 C269.14,43.18 266.14,34.58 269.40,30.82 C272.65,27.07 280.65,25.84 285.83,24.49 C291.01,23.14 294.98,23.77 300.48,22.72 C305.97,21.67 312.86,18.52 318.79,18.20 C324.73,17.87 333.20,20.35 336.08,20.78" fill="none" stroke="#2EC0CC" stroke-width="1.22" stroke-linecap="round" stroke-linejoin="round" transform="translate(-0.3,-0.4)"/>
<path d="M245.61,55.49 C244.05,54.16 235.13,47.81 236.28,47.51 C237.42,47.22 247.50,53.79 252.50,53.70 C257.51,53.62 263.51,50.81 266.32,47.00 C269.14,43.18 266.14,34.58 269.40,30.82 C272.65,27.07 280.65,25.84 285.83,24.49 C291.01,23.14 294.98,23.77 300.48,22.72 C305.97,21.67 312.86,18.52 318.79,18.20 C324.73,17.87 333.20,20.35 336.08,20.78" fill="none" stroke="#8ae6ee" stroke-width="0.39" stroke-linecap="round" stroke-linejoin="round" transform="translate(-0.6,-0.8)" opacity="0.7"/>
<path d="M322.06,84.11 C321.03,81.72 318.70,75.03 315.89,69.82 C313.07,64.60 308.40,58.21 305.17,52.80 C301.93,47.40 299.41,42.57 296.49,37.39 C293.58,32.22 290.45,26.17 287.68,21.76 C284.91,17.34 282.74,9.77 279.89,10.93 C277.04,12.09 274.09,24.56 270.58,28.73 C267.07,32.89 261.49,32.59 258.82,35.92 C256.16,39.25 255.30,46.58 254.60,48.71" fill="none" stroke="#1b939e" stroke-width="2.27" stroke-linecap="round" stroke-linejoin="round"/>
<path d="M322.06,84.11 C321.03,81.72 318.70,75.03 315.89,69.82 C313.07,64.60 308.40,58.21 305.17,52.80 C301.93,47.40 299.41,42.57 296.49,37.39 C293.58,32.22 290.45,26.17 287.68,21.76 C284.91,17.34 282.74,9.77 279.89,10.93 C277.04,12.09 274.09,24.56 270.58,28.73 C267.07,32.89 261.49,32.59 258.82,35.92 C256.16,39.25 255.30,46.58 254.60,48.71" fill="none" stroke="#2EC0CC" stroke-width="1.40" stroke-linecap="round" stroke-linejoin="round" transform="translate(-0.3,-0.4)"/>
<path d="M322.06,84.11 C321.03,81.72 318.70,75.03 315.89,69.82 C313.07,64.60 308.40,58.21 305.17,52.80 C301.93,47.40 299.41,42.57 296.49,37.39 C293.58,32.22 290.45,26.17 287.68,21.76 C284.91,17.34 282.74,9.77 279.89,10.93 C277.04,12.09 274.09,24.56 270.58,28.73 C267.07,32.89 261.49,32.59 258.82,35.92 C256.16,39.25 255.30,46.58 254.60,48.71" fill="none" stroke="#8ae6ee" stroke-width="0.45" stroke-linecap="round" stroke-linejoin="round" transform="translate(-0.6,-0.8)" opacity="0.7"/>
<path d="M314.23,36.88 C313.38,35.41 310.09,31.59 309.16,28.02 C308.24,24.46 307.20,18.41 308.68,15.47 C310.15,12.53 317.65,9.03 318.01,10.38 C318.37,11.74 313.31,19.78 310.83,23.60 C308.35,27.42 306.53,30.68 303.14,33.30 C299.75,35.93 293.59,36.99 290.47,39.37 C287.36,41.74 285.45,46.20 284.45,47.57" fill="none" stroke="#1b939e" stroke-width="1.66" stroke-linecap="round" stroke-linejoin="round"/>
<path d="M314.23,36.88 C313.38,35.41 310.09,31.59 309.16,28.02 C308.24,24.46 307.20,18.41 308.68,15.47 C310.15,12.53 317.65,9.03 318.01,10.38 C318.37,11.74 313.31,19.78 310.83,23.60 C308.35,27.42 306.53,30.68 303.14,33.30 C299.75,35.93 293.59,36.99 290.47,39.37 C287.36,41.74 285.45,46.20 284.45,47.57" fill="none" stroke="#2EC0CC" stroke-width="1.03" stroke-linecap="round" stroke-linejoin="round" transform="translate(-0.3,-0.4)"/>
<path d="M314.23,36.88 C313.38,35.41 310.09,31.59 309.16,28.02 C308.24,24.46 307.20,18.41 308.68,15.47 C310.15,12.53 317.65,9.03 318.01,10.38 C318.37,11.74 313.31,19.78 310.83,23.60 C308.35,27.42 306.53,30.68 303.14,33.30 C299.75,35.93 293.59,36.99 290.47,39.37 C287.36,41.74 285.45,46.20 284.45,47.57" fill="none" stroke="#8ae6ee" stroke-width="0.33" stroke-linecap="round" stroke-linejoin="round" transform="translate(-0.6,-0.8)" opacity="0.7"/>
<path d="M332.83,67.71 C329.60,67.20 318.88,63.41 313.50,64.66 C308.12,65.90 304.09,71.94 300.52,75.19 C296.96,78.44 295.41,82.25 292.12,84.16 C288.84,86.06 282.70,86.22 280.82,86.63" fill="none" stroke="#1b939e" stroke-width="1.93" stroke-linecap="round" stroke-linejoin="round"/>
<path d="M332.83,67.71 C329.60,67.20 318.88,63.41 313.50,64.66 C308.12,65.90 304.09,71.94 300.52,75.19 C296.96,78.44 295.41,82.25 292.12,84.16 C288.84,86.06 282.70,86.22 280.82,86.63" fill="none" stroke="#2EC0CC" stroke-width="1.20" stroke-linecap="round" stroke-linejoin="round" transform="translate(-0.3,-0.4)"/>
<path d="M332.83,67.71 C329.60,67.20 318.88,63.41 313.50,64.66 C308.12,65.90 304.09,71.94 300.52,75.19 C296.96,78.44 295.41,82.25 292.12,84.16 C288.84,86.06 282.70,86.22 280.82,86.63" fill="none" stroke="#8ae6ee" stroke-width="0.39" stroke-linecap="round" stroke-linejoin="round" transform="translate(-0.6,-0.8)" opacity="0.7"/>
<path d="M344.12,108.35 C341.75,111.08 335.27,119.90 329.91,124.75 C324.55,129.60 314.37,133.37 311.97,137.44 C309.57,141.51 314.65,150.01 315.52,149.16 C316.39,148.31 318.66,136.03 317.20,132.32 C315.74,128.61 310.10,128.34 306.77,126.90 C303.43,125.45 298.79,124.19 297.19,123.64" fill="none" stroke="#1b939e" stroke-width="2.11" stroke-linecap="round" stroke-linejoin="round"/>
<path d="M344.12,108.35 C341.75,111.08 335.27,119.90 329.91,124.75 C324.55,129.60 314.37,133.37 311.97,137.44 C309.57,141.51 314.65,150.01 315.52,149.16 C316.39,148.31 318.66,136.03 317.20,132.32 C315.74,128.61 310.10,128.34 306.77,126.90 C303.43,125.45 298.79,124.19 297.19,123.64" fill="none" stroke="#2EC0CC" stroke-width="1.31" stroke-linecap="round" stroke-linejoin="round" transform="translate(-0.3,-0.4)"/>
<path d="M344.12,108.35 C341.75,111.08 335.27,119.90 329.91,124.75 C324.55,129.60 314.37,133.37 311.97,137.44 C309.57,141.51 314.65,150.01 315.52,149.16 C316.39,148.31 318.66,136.03 317.20,132.32 C315.74,128.61 310.10,128.34 306.77,126.90 C303.43,125.45 298.79,124.19 297.19,123.64" fill="none" stroke="#8ae6ee" stroke-width="0.42" stroke-linecap="round" stroke-linejoin="round" transform="translate(-0.6,-0.8)" opacity="0.7"/>
<path d="M331.09,42.63 C332.76,43.98 338.04,47.46 341.12,50.77 C344.20,54.08 345.74,57.90 349.59,62.49 C353.44,67.07 359.77,73.65 364.21,78.27 C368.64,82.88 374.53,86.17 376.20,90.16 C377.87,94.15 374.55,100.19 374.22,102.19" fill="none" stroke="#1b939e" stroke-width="2.09" stroke-linecap="round" stroke-linejoin="round"/>
<path d="M331.09,42.63 C332.76,43.98 338.04,47.46 341.12,50.77 C344.20,54.08 345.74,57.90 349.59,62.49 C353.44,67.07 359.77,73.65 364.21,78.27 C368.64,82.88 374.53,86.17 376.20,90.16 C377.87,94.15 374.55,100.19 374.22,102.19" fill="none" stroke="#2EC0CC" stroke-width="1.29" stroke-linecap="round" stroke-linejoin="round" transform="translate(-0.3,-0.4)"/>
<path d="M331.09,42.63 C332.76,43.98 338.04,47.46 341.12,50.77 C344.20,54.08 345.74,57.90 349.59,62.49 C353.44,67.07 359.77,73.65 364.21,78.27 C368.64,82.88 374.53,86.17 376.20,90.16 C377.87,94.15 374.55,100.19 374.22,102.19" fill="none" stroke="#8ae6ee" stroke-width="0.42" stroke-linecap="round" stroke-linejoin="round" transform="translate(-0.6,-0.8)" opacity="0.7"/>
<path d="M363.89,46.12 C366.16,47.95 377.70,55.36 377.53,57.15 C377.37,58.93 367.14,56.83 362.88,56.81 C358.61,56.80 354.45,55.27 351.94,57.06 C349.43,58.86 349.38,63.84 347.84,67.60 C346.30,71.36 343.57,77.61 342.71,79.62" fill="none" stroke="#1b939e" stroke-width="1.72" stroke-linecap="round" stroke-linejoin="round"/>
<path d="M363.89,46.12 C366.16,47.95 377.70,55.36 377.53,57.15 C377.37,58.93 367.14,56.83 362.88,56.81 C358.61,56.80 354.45,55.27 351.94,57.06 C349.43,58.86 349.38,63.84 347.84,67.60 C346.30,71.36 343.57,77.61 342.71,79.62" fill="none" stroke="#2EC0CC" stroke-width="1.07" stroke-linecap="round" stroke-linejoin="round" transform="translate(-0.3,-0.4)"/>
<path d="M363.89,46.12 C366.16,47.95 377.70,55.36 377.53,57.15 C377.37,58.93 367.14,56.83 362.88,56.81 C358.61,56.80 354.45,55.27 351.94,57.06 C349.43,58.86 349.38,63.84 347.84,67.60 C346.30,71.36 343.57,77.61 342.71,79.62" fill="none" stroke="#8ae6ee" stroke-width="0.34" stroke-linecap="round" stroke-linejoin="round" transform="translate(-0.6,-0.8)" opacity="0.7"/>
<path d="M273.54,106.66 C274.39,104.83 276.27,98.47 278.65,95.68 C281.03,92.89 285.45,93.53 287.81,89.91 C290.16,86.29 289.24,77.62 292.79,73.96 C296.33,70.30 304.26,71.76 309.09,67.97 C313.92,64.18 319.86,55.69 321.76,51.21 C323.66,46.73 322.41,44.69 320.52,41.09 C318.62,37.48 312.06,31.49 310.37,29.57" fill="none" stroke="#1b939e" stroke-width="2.19" stroke-linecap="round" stroke-linejoin="round"/>
<path d="M273.54,106.66 C274.39,104.83 276.27,98.47 278.65,95.68 C281.03,92.89 285.45,93.53 287.81,89.91 C290.16,86.29 289.24,77.62 292.79,73.96 C296.33,70.30 304.26,71.76 309.09,67.97 C313.92,64.18 319.86,55.69 321.76,51.21 C323.66,46.73 322.41,44.69 320.52,41.09 C318.62,37.48 312.06,31.49 310.37,29.57" fill="none" stroke="#2EC0CC" stroke-width="1.36" stroke-linecap="round" stroke-linejoin="round" transform="translate(-0.3,-0.4)"/>
<path d="M273.54,106.66 C274.39,104.83 276.27,98.47 278.65,95.68 C281.03,92.89 285.45,93.53 287.81,89.91 C290.16,86.29 289.24,77.62 292.79,73.96 C296.33,70.30 304.26,71.76 309.09,67.97 C313.92,64.18 319.86,55.69 321.76,51.21 C323.66,46.73 322.41,44.69 320.52,41.09 C318.62,37.48 312.06,31.49 310.37,29.57" fill="none" stroke="#8ae6ee" stroke-width="0.44" stroke-linecap="round" stroke-linejoin="round" transform="translate(-0.6,-0.8)" opacity="0.7"/>
<path d="M329.02,115.72 C327.42,116.83 322.76,119.70 319.44,122.37 C316.12,125.04 313.50,129.84 309.09,131.75 C304.67,133.67 297.11,135.96 292.96,133.87 C288.81,131.78 284.26,123.87 284.19,119.21 C284.12,114.56 291.16,108.14 292.55,105.93" fill="none" stroke="#1b939e" stroke-width="1.65" stroke-linecap="round" stroke-linejoin="round"/>
<path d="M329.02,115.72 C327.42,116.83 322.76,119.70 319.44,122.37 C316.12,125.04 313.50,129.84 309.09,131.75 C304.67,133.67 297.11,135.96 292.96,133.87 C288.81,131.78 284.26,123.87 284.19,119.21 C284.12,114.56 291.16,108.14 292.55,105.93" fill="none" stroke="#2EC0CC" stroke-width="1.02" stroke-linecap="round" stroke-linejoin="round" transform="translate(-0.3,-0.4)"/>
<path d="M329.02,115.72 C327.42,116.83 322.76,119.70 319.44,122.37 C316.12,125.04 313.50,129.84 309.09,131.75 C304.67,133.67 297.11,135.96 292.96,133.87 C288.81,131.78 284.26,123.87 284.19,119.21 C284.12,114.56 291.16,108.14 292.55,105.93" fill="none" stroke="#8ae6ee" stroke-width="0.33" stroke-linecap="round" stroke-linejoin="round" transform="translate(-0.6,-0.8)" opacity="0.7"/>
<path d="M304.64,90.60 C302.01,88.90 295.14,82.50 288.86,80.44 C282.58,78.38 272.11,76.26 266.98,78.22 C261.85,80.18 262.77,88.54 258.08,92.18 C253.39,95.81 242.03,98.72 238.82,100.03" fill="none" stroke="#1b939e" stroke-width="1.89" stroke-linecap="round" stroke-linejoin="round"/>
<path d="M304.64,90.60 C302.01,88.90 295.14,82.50 288.86,80.44 C282.58,78.38 272.11,76.26 266.98,78.22 C261.85,80.18 262.77,88.54 258.08,92.18 C253.39,95.81 242.03,98.72 238.82,100.03" fill="none" stroke="#2EC0CC" stroke-width="1.17" stroke-linecap="round" stroke-linejoin="round" transform="translate(-0.3,-0.4)"/>
<path d="M304.64,90.60 C302.01,88.90 295.14,82.50 288.86,80.44 C282.58,78.38 272.11,76.26 266.98,78.22 C261.85,80.18 262.77,88.54 258.08,92.18 C253.39,95.81 242.03,98.72 238.82,100.03" fill="none" stroke="#8ae6ee" stroke-width="0.38" stroke-linecap="round" stroke-linejoin="round" transform="translate(-0.6,-0.8)" opacity="0.7"/>
<path d="M291.32,21.84 C291.21,19.23 292.11,5.49 290.65,6.17 C289.19,6.85 281.94,20.82 282.56,25.91 C283.18,30.99 289.82,36.38 294.39,36.68 C298.95,36.98 306.21,30.46 309.93,27.71 C313.65,24.96 316.27,23.14 316.72,20.17 C317.17,17.20 313.30,11.58 312.62,9.87" fill="none" stroke="#1b939e" stroke-width="2.19" stroke-linecap="round" stroke-linejoin="round"/>
<path d="M291.32,21.84 C291.21,19.23 292.11,5.49 290.65,6.17 C289.19,6.85 281.94,20.82 282.56,25.91 C283.18,30.99 289.82,36.38 294.39,36.68 C298.95,36.98 306.21,30.46 309.93,27.71 C313.65,24.96 316.27,23.14 316.72,20.17 C317.17,17.20 313.30,11.58 312.62,9.87" fill="none" stroke="#2EC0CC" stroke-width="1.36" stroke-linecap="round" stroke-linejoin="round" transform="translate(-0.3,-0.4)"/>
<path d="M291.32,21.84 C291.21,19.23 292.11,5.49 290.65,6.17 C289.19,6.85 281.94,20.82 282.56,25.91 C283.18,30.99 289.82,36.38 294.39,36.68 C298.95,36.98 306.21,30.46 309.93,27.71 C313.65,24.96 316.27,23.14 316.72,20.17 C317.17,17.20 313.30,11.58 312.62,9.87" fill="none" stroke="#8ae6ee" stroke-width="0.44" stroke-linecap="round" stroke-linejoin="round" transform="translate(-0.6,-0.8)" opacity="0.7"/>
<path d="M307.51,122.53 C306.52,124.92 303.84,132.13 301.54,136.89 C299.25,141.66 295.28,150.58 293.75,151.12 C292.22,151.67 296.11,142.71 292.38,140.16 C288.64,137.60 272.18,137.89 271.33,135.80 C270.49,133.72 281.61,130.69 287.29,127.65 C292.98,124.60 301.12,120.70 305.43,117.55 C309.74,114.40 309.57,111.64 313.15,108.73 C316.73,105.83 324.60,101.54 326.89,100.11" fill="none" stroke="#1b939e" stroke-width="1.69" stroke-linecap="round" stroke-linejoin="round"/>
<path d="M307.51,122.53 C306.52,124.92 303.84,132.13 301.54,136.89 C299.25,141.66 295.28,150.58 293.75,151.12 C292.22,151.67 296.11,142.71 292.38,140.16 C288.64,137.60 272.18,137.89 271.33,135.80 C270.49,133.72 281.61,130.69 287.29,127.65 C292.98,124.60 301.12,120.70 305.43,117.55 C309.74,114.40 309.57,111.64 313.15,108.73 C316.73,105.83 324.60,101.54 326.89,100.11" fill="none" stroke="#2EC0CC" stroke-width="1.05" stroke-linecap="round" stroke-linejoin="round" transform="translate(-0.3,-0.4)"/>
<path d="M307.51,122.53 C306.52,124.92 303.84,132.13 301.54,136.89 C299.25,141.66 295.28,150.58 293.75,151.12 C292.22,151.67 296.11,142.71 292.38,140.16 C288.64,137.60 272.18,137.89 271.33,135.80 C270.49,133.72 281.61,130.69 287.29,127.65 C292.98,124.60 301.12,120.70 305.43,117.55 C309.74,114.40 309.57,111.64 313.15,108.73 C316.73,105.83 324.60,101.54 326.89,100.11" fill="none" stroke="#8ae6ee" stroke-width="0.34" stroke-linecap="round" stroke-linejoin="round" transform="translate(-0.6,-0.8)" opacity="0.7"/>
<path d="M271.70,133.39 C269.02,134.72 256.45,142.78 255.59,141.39 C254.73,140.00 261.31,127.44 266.54,125.05 C271.78,122.66 280.82,127.28 287.01,127.04 C293.20,126.80 299.37,125.40 303.66,123.61 C307.94,121.81 311.19,117.50 312.70,116.28" fill="none" stroke="#1b939e" stroke-width="2.20" stroke-linecap="round" stroke-linejoin="round"/>
<path d="M271.70,133.39 C269.02,134.72 256.45,142.78 255.59,141.39 C254.73,140.00 261.31,127.44 266.54,125.05 C271.78,122.66 280.82,127.28 287.01,127.04 C293.20,126.80 299.37,125.40 303.66,123.61 C307.94,121.81 311.19,117.50 312.70,116.28" fill="none" stroke="#2EC0CC" stroke-width="1.37" stroke-linecap="round" stroke-linejoin="round" transform="translate(-0.3,-0.4)"/>
<path d="M271.70,133.39 C269.02,134.72 256.45,142.78 255.59,141.39 C254.73,140.00 261.31,127.44 266.54,125.05 C271.78,122.66 280.82,127.28 287.01,127.04 C293.20,126.80 299.37,125.40 303.66,123.61 C307.94,121.81 311.19,117.50 312.70,116.28" fill="none" stroke="#8ae6ee" stroke-width="0.44" stroke-linecap="round" stroke-linejoin="round" transform="translate(-0.6,-0.8)" opacity="0.7"/>
<path d="M343.90,26.31 C344.96,24.74 352.43,17.72 350.24,16.89 C348.06,16.07 336.36,19.26 330.78,21.38 C325.21,23.50 322.21,27.98 316.79,29.61 C311.37,31.25 303.37,33.02 298.26,31.18 C293.15,29.34 291.28,21.77 286.13,18.57 C280.97,15.37 270.44,13.06 267.31,11.96" fill="none" stroke="#1b939e" stroke-width="2.00" stroke-linecap="round" stroke-linejoin="round"/>
<path d="M343.90,26.31 C344.96,24.74 352.43,17.72 350.24,16.89 C348.06,16.07 336.36,19.26 330.78,21.38 C325.21,23.50 322.21,27.98 316.79,29.61 C311.37,31.25 303.37,33.02 298.26,31.18 C293.15,29.34 291.28,21.77 286.13,18.57 C280.97,15.37 270.44,13.06 267.31,11.96" fill="none" stroke="#2EC0CC" stroke-width="1.24" stroke-linecap="round" stroke-linejoin="round" transform="translate(-0.3,-0.4)"/>
<path d="M343.90,26.31 C344.96,24.74 352.43,17.72 350.24,16.89 C348.06,16.07 336.36,19.26 330.78,21.38 C325.21,23.50 322.21,27.98 316.79,29.61 C311.37,31.25 303.37,33.02 298.26,31.18 C293.15,29.34 291.28,21.77 286.13,18.57 C280.97,15.37 270.44,13.06 267.31,11.96" fill="none" stroke="#8ae6ee" stroke-width="0.40" stroke-linecap="round" stroke-linejoin="round" transform="translate(-0.6,-0.8)" opacity="0.7"/>
<path d="M263.63,44.57 C264.59,47.67 266.51,60.05 269.41,63.19 C272.31,66.33 277.39,63.54 281.04,63.41 C284.69,63.28 288.03,61.09 291.29,62.40 C294.55,63.71 297.32,70.07 300.61,71.24 C303.90,72.41 306.75,69.30 311.01,69.40 C315.27,69.51 323.64,71.46 326.17,71.87" fill="none" stroke="#1b939e" stroke-width="1.82" stroke-linecap="round" stroke-linejoin="round"/>
<path d="M263.63,44.57 C264.59,47.67 266.51,60.05 269.41,63.19 C272.31,66.33 277.39,63.54 281.04,63.41 C284.69,63.28 288.03,61.09 291.29,62.40 C294.55,63.71 297.32,70.07 300.61,71.24 C303.90,72.41 306.75,69.30 311.01,69.40 C315.27,69.51 323.64,71.46 326.17,71.87" fill="none" stroke="#2EC0CC" stroke-width="1.13" stroke-linecap="round" stroke-linejoin="round" transform="translate(-0.3,-0.4)"/>
<path d="M263.63,44.57 C264.59,47.67 266.51,60.05 269.41,63.19 C272.31,66.33 277.39,63.54 281.04,63.41 C284.69,63.28 288.03,61.09 291.29,62.40 C294.55,63.71 297.32,70.07 300.61,71.24 C303.90,72.41 306.75,69.30 311.01,69.40 C315.27,69.51 323.64,71.46 326.17,71.87" fill="none" stroke="#8ae6ee" stroke-width="0.36" stroke-linecap="round" stroke-linejoin="round" transform="translate(-0.6,-0.8)" opacity="0.7"/>
<path d="M273.48,29.23 C274.80,26.97 277.56,17.22 281.39,15.66 C285.22,14.11 292.60,17.68 296.48,19.88 C300.36,22.07 301.03,26.79 304.69,28.84 C308.35,30.88 314.17,29.76 318.44,32.16 C322.71,34.56 328.34,41.39 330.32,43.24" fill="none" stroke="#1b939e" stroke-width="2.10" stroke-linecap="round" stroke-linejoin="round"/>
<path d="M273.48,29.23 C274.80,26.97 277.56,17.22 281.39,15.66 C285.22,14.11 292.60,17.68 296.48,19.88 C300.36,22.07 301.03,26.79 304.69,28.84 C308.35,30.88 314.17,29.76 318.44,32.16 C322.71,34.56 328.34,41.39 330.32,43.24" fill="none" stroke="#2EC0CC" stroke-width="1.30" stroke-linecap="round" stroke-linejoin="round" transform="translate(-0.3,-0.4)"/>
<path d="M273.48,29.23 C274.80,26.97 277.56,17.22 281.39,15.66 C285.22,14.11 292.60,17.68 296.48,19.88 C300.36,22.07 301.03,26.79 304.69,28.84 C308.35,30.88 314.17,29.76 318.44,32.16 C322.71,34.56 328.34,41.39 330.32,43.24" fill="none" stroke="#8ae6ee" stroke-width="0.42" stroke-linecap="round" stroke-linejoin="round" transform="translate(-0.6,-0.8)" opacity="0.7"/>
<path d="M311.35,37.06 C308.79,34.62 299.00,26.75 296.00,22.44 C293.00,18.13 293.76,9.58 293.35,11.19 C292.94,12.80 292.59,25.97 293.53,32.11 C294.47,38.25 300.05,42.80 298.96,48.04 C297.88,53.27 289.00,60.94 287.01,63.52" fill="none" stroke="#1b939e" stroke-width="2.09" stroke-linecap="round" stroke-linejoin="round"/>
<path d="M311.35,37.06 C308.79,34.62 299.00,26.75 296.00,22.44 C293.00,18.13 293.76,9.58 293.35,11.19 C292.94,12.80 292.59,25.97 293.53,32.11 C294.47,38.25 300.05,42.80 298.96,48.04 C297.88,53.27 289.00,60.94 287.01,63.52" fill="none" stroke="#2EC0CC" stroke-width="1.30" stroke-linecap="round" stroke-linejoin="round" transform="translate(-0.3,-0.4)"/>
<path d="M311.35,37.06 C308.79,34.62 299.00,26.75 296.00,22.44 C293.00,18.13 293.76,9.58 293.35,11.19 C292.94,12.80 292.59,25.97 293.53,32.11 C294.47,38.25 300.05,42.80 298.96,48.04 C297.88,53.27 289.00,60.94 287.01,63.52" fill="none" stroke="#8ae6ee" stroke-width="0.42" stroke-linecap="round" stroke-linejoin="round" transform="translate(-0.6,-0.8)" opacity="0.7"/>
<path d="M253.35,91.47 C256.32,93.25 268.99,96.87 271.17,102.19 C273.35,107.52 268.22,116.78 266.42,123.40 C264.62,130.02 258.03,139.39 260.35,141.92 C262.67,144.44 277.01,139.11 280.34,138.55" fill="none" stroke="#1b939e" stroke-width="2.36" stroke-linecap="round" stroke-linejoin="round"/>
<path d="M253.35,91.47 C256.32,93.25 268.99,96.87 271.17,102.19 C273.35,107.52 268.22,116.78 266.42,123.40 C264.62,130.02 258.03,139.39 260.35,141.92 C262.67,144.44 277.01,139.11 280.34,138.55" fill="none" stroke="#2EC0CC" stroke-width="1.46" stroke-linecap="round" stroke-linejoin="round" transform="translate(-0.3,-0.4)"/>
<path d="M253.35,91.47 C256.32,93.25 268.99,96.87 271.17,102.19 C273.35,107.52 268.22,116.78 266.42,123.40 C264.62,130.02 258.03,139.39 260.35,141.92 C262.67,144.44 277.01,139.11 280.34,138.55" fill="none" stroke="#8ae6ee" stroke-width="0.47" stroke-linecap="round" stroke-linejoin="round" transform="translate(-0.6,-0.8)" opacity="0.7"/>
<path d="M350.83,101.38 C349.17,100.90 343.39,100.56 340.90,98.49 C338.41,96.42 336.14,92.47 335.89,88.96 C335.64,85.44 339.26,82.55 339.41,77.41 C339.57,72.27 338.99,62.29 336.84,58.13 C334.68,53.97 330.89,55.01 326.51,52.44 C322.13,49.88 313.21,44.36 310.55,42.74" fill="none" stroke="#1b939e" stroke-width="1.88" stroke-linecap="round" stroke-linejoin="round"/>
<path d="M350.83,101.38 C349.17,100.90 343.39,100.56 340.90,98.49 C338.41,96.42 336.14,92.47 335.89,88.96 C335.64,85.44 339.26,82.55 339.41,77.41 C339.57,72.27 338.99,62.29 336.84,58.13 C334.68,53.97 330.89,55.01 326.51,52.44 C322.13,49.88 313.21,44.36 310.55,42.74" fill="none" stroke="#2EC0CC" stroke-width="1.16" stroke-linecap="round" stroke-linejoin="round" transform="translate(-0.3,-0.4)"/>
<path d="M350.83,101.38 C349.17,100.90 343.39,100.56 340.90,98.49 C338.41,96.42 336.14,92.47 335.89,88.96 C335.64,85.44 339.26,82.55 339.41,77.41 C339.57,72.27 338.99,62.29 336.84,58.13 C334.68,53.97 330.89,55.01 326.51,52.44 C322.13,49.88 313.21,44.36 310.55,42.74" fill="none" stroke="#8ae6ee" stroke-width="0.38" stroke-linecap="round" stroke-linejoin="round" transform="translate(-0.6,-0.8)" opacity="0.7"/>
<path d="M283.73,18.51 C281.66,17.02 273.66,8.29 271.33,9.58 C269.01,10.88 268.14,21.56 269.77,26.25 C271.40,30.95 279.84,33.74 281.13,37.76 C282.43,41.77 278.13,48.23 277.53,50.33" fill="none" stroke="#1b939e" stroke-width="2.27" stroke-linecap="round" stroke-linejoin="round"/>
<path d="M283.73,18.51 C281.66,17.02 273.66,8.29 271.33,9.58 C269.01,10.88 268.14,21.56 269.77,26.25 C271.40,30.95 279.84,33.74 281.13,37.76 C282.43,41.77 278.13,48.23 277.53,50.33" fill="none" stroke="#2EC0CC" stroke-width="1.41" stroke-linecap="round" stroke-linejoin="round" transform="translate(-0.3,-0.4)"/>
<path d="M283.73,18.51 C281.66,17.02 273.66,8.29 271.33,9.58 C269.01,10.88 268.14,21.56 269.77,26.25 C271.40,30.95 279.84,33.74 281.13,37.76 C282.43,41.77 278.13,48.23 277.53,50.33" fill="none" stroke="#8ae6ee" stroke-width="0.45" stroke-linecap="round" stroke-linejoin="round" transform="translate(-0.6,-0.8)" opacity="0.7"/>
<path d="M373.66,61.62 C373.77,58.02 376.08,42.78 374.29,40.01 C372.50,37.24 367.35,43.32 362.92,45.00 C358.49,46.67 351.95,49.12 347.70,50.04 C343.44,50.96 340.14,52.93 337.38,50.52 C334.61,48.11 334.15,40.67 331.12,35.58 C328.08,30.50 321.16,22.62 319.17,20.03" fill="none" stroke="#1b939e" stroke-width="2.14" stroke-linecap="round" stroke-linejoin="round"/>
<path d="M373.66,61.62 C373.77,58.02 376.08,42.78 374.29,40.01 C372.50,37.24 367.35,43.32 362.92,45.00 C358.49,46.67 351.95,49.12 347.70,50.04 C343.44,50.96 340.14,52.93 337.38,50.52 C334.61,48.11 334.15,40.67 331.12,35.58 C328.08,30.50 321.16,22.62 319.17,20.03" fill="none" stroke="#2EC0CC" stroke-width="1.32" stroke-linecap="round" stroke-linejoin="round" transform="translate(-0.3,-0.4)"/>
<path d="M373.66,61.62 C373.77,58.02 376.08,42.78 374.29,40.01 C372.50,37.24 367.35,43.32 362.92,45.00 C358.49,46.67 351.95,49.12 347.70,50.04 C343.44,50.96 340.14,52.93 337.38,50.52 C334.61,48.11 334.15,40.67 331.12,35.58 C328.08,30.50 321.16,22.62 319.17,20.03" fill="none" stroke="#8ae6ee" stroke-width="0.43" stroke-linecap="round" stroke-linejoin="round" transform="translate(-0.6,-0.8)" opacity="0.7"/>
<path d="M250.22,82.34 C253.56,83.41 265.79,85.46 270.28,88.71 C274.77,91.97 273.61,98.57 277.17,101.87 C280.73,105.16 285.77,107.34 291.65,108.48 C297.53,109.63 307.54,105.49 312.46,108.73 C317.37,111.96 319.04,122.93 321.16,127.89 C323.27,132.84 323.55,135.24 325.15,138.46 C326.75,141.67 329.58,149.33 330.74,147.17 C331.90,145.01 331.87,129.10 332.09,125.49" fill="none" stroke="#1b939e" stroke-width="2.05" stroke-linecap="round" stroke-linejoin="round"/>
<path d="M250.22,82.34 C253.56,83.41 265.79,85.46 270.28,88.71 C274.77,91.97 273.61,98.57 277.17,101.87 C280.73,105.16 285.77,107.34 291.65,108.48 C297.53,109.63 307.54,105.49 312.46,108.73 C317.37,111.96 319.04,122.93 321.16,127.89 C323.27,132.84 323.55,135.24 325.15,138.46 C326.75,141.67 329.58,149.33 330.74,147.17 C331.90,145.01 331.87,129.10 332.09,125.49" fill="none" stroke="#2EC0CC" stroke-width="1.27" stroke-linecap="round" stroke-linejoin="round" transform="translate(-0.3,-0.4)"/>
<path d="M250.22,82.34 C253.56,83.41 265.79,85.46 270.28,88.71 C274.77,91.97 273.61,98.57 277.17,101.87 C280.73,105.16 285.77,107.34 291.65,108.48 C297.53,109.63 307.54,105.49 312.46,108.73 C317.37,111.96 319.04,122.93 321.16,127.89 C323.27,132.84 323.55,135.24 325.15,138.46 C326.75,141.67 329.58,149.33 330.74,147.17 C331.90,145.01 331.87,129.10 332.09,125.49" fill="none" stroke="#8ae6ee" stroke-width="0.41" stroke-linecap="round" stroke-linejoin="round" transform="translate(-0.6,-0.8)" opacity="0.7"/>
<path d="M313.95,85.26 C315.11,87.66 318.52,94.71 320.91,99.65 C323.30,104.60 328.39,109.79 328.32,114.94 C328.25,120.10 324.43,126.39 320.49,130.58 C316.56,134.76 308.88,139.22 304.71,140.06 C300.53,140.90 299.31,138.74 295.42,135.65 C291.54,132.56 283.74,123.87 281.41,121.51" fill="none" stroke="#1b939e" stroke-width="1.63" stroke-linecap="round" stroke-linejoin="round"/>
<path d="M313.95,85.26 C315.11,87.66 318.52,94.71 320.91,99.65 C323.30,104.60 328.39,109.79 328.32,114.94 C328.25,120.10 324.43,126.39 320.49,130.58 C316.56,134.76 308.88,139.22 304.71,140.06 C300.53,140.90 299.31,138.74 295.42,135.65 C291.54,132.56 283.74,123.87 281.41,121.51" fill="none" stroke="#2EC0CC" stroke-width="1.01" stroke-linecap="round" stroke-linejoin="round" transform="translate(-0.3,-0.4)"/>
<path d="M313.95,85.26 C315.11,87.66 318.52,94.71 320.91,99.65 C323.30,104.60 328.39,109.79 328.32,114.94 C328.25,120.10 324.43,126.39 320.49,130.58 C316.56,134.76 308.88,139.22 304.71,140.06 C300.53,140.90 299.31,138.74 295.42,135.65 C291.54,132.56 283.74,123.87 281.41,121.51" fill="none" stroke="#8ae6ee" stroke-width="0.33" stroke-linecap="round" stroke-linejoin="round" transform="translate(-0.6,-0.8)" opacity="0.7"/>
<path d="M245.00,64.35 C241.78,63.39 227.51,57.88 225.64,58.56 C223.76,59.24 229.75,64.56 233.76,68.44 C237.76,72.33 244.79,79.12 249.69,81.86 C254.59,84.60 260.37,82.34 263.14,84.88 C265.90,87.42 265.74,95.07 266.26,97.11" fill="none" stroke="#1b939e" stroke-width="2.09" stroke-linecap="round" stroke-linejoin="round"/>
<path d="M245.00,64.35 C241.78,63.39 227.51,57.88 225.64,58.56 C223.76,59.24 229.75,64.56 233.76,68.44 C237.76,72.33 244.79,79.12 249.69,81.86 C254.59,84.60 260.37,82.34 263.14,84.88 C265.90,87.42 265.74,95.07 266.26,97.11" fill="none" stroke="#2EC0CC" stroke-width="1.30" stroke-linecap="round" stroke-linejoin="round" transform="translate(-0.3,-0.4)"/>
<path d="M245.00,64.35 C241.78,63.39 227.51,57.88 225.64,58.56 C223.76,59.24 229.75,64.56 233.76,68.44 C237.76,72.33 244.79,79.12 249.69,81.86 C254.59,84.60 260.37,82.34 263.14,84.88 C265.90,87.42 265.74,95.07 266.26,97.11" fill="none" stroke="#8ae6ee" stroke-width="0.42" stroke-linecap="round" stroke-linejoin="round" transform="translate(-0.6,-0.8)" opacity="0.7"/>
<path d="M329.52,63.23 C330.70,64.66 335.88,67.91 336.64,71.82 C337.40,75.73 336.03,83.03 334.07,86.66 C332.11,90.29 328.30,90.06 324.88,93.59 C321.45,97.12 315.42,105.46 313.53,107.84" fill="none" stroke="#1b939e" stroke-width="2.40" stroke-linecap="round" stroke-linejoin="round"/>
<path d="M329.52,63.23 C330.70,64.66 335.88,67.91 336.64,71.82 C337.40,75.73 336.03,83.03 334.07,86.66 C332.11,90.29 328.30,90.06 324.88,93.59 C321.45,97.12 315.42,105.46 313.53,107.84" fill="none" stroke="#2EC0CC" stroke-width="1.49" stroke-linecap="round" stroke-linejoin="round" transform="translate(-0.3,-0.4)"/>
<path d="M329.52,63.23 C330.70,64.66 335.88,67.91 336.64,71.82 C337.40,75.73 336.03,83.03 334.07,86.66 C332.11,90.29 328.30,90.06 324.88,93.59 C321.45,97.12 315.42,105.46 313.53,107.84" fill="none" stroke="#8ae6ee" stroke-width="0.48" stroke-linecap="round" stroke-linejoin="round" transform="translate(-0.6,-0.8)" opacity="0.7"/>
<path d="M327.53,132.12 C327.57,129.44 326.03,120.80 327.76,116.05 C329.49,111.30 334.33,106.51 337.91,103.64 C341.48,100.77 347.21,101.51 349.19,98.83 C351.17,96.15 352.20,90.57 349.77,87.57 C347.34,84.56 339.64,83.17 334.59,80.80 C329.55,78.43 322.02,74.60 319.50,73.36" fill="none" stroke="#1b939e" stroke-width="1.61" stroke-linecap="round" stroke-linejoin="round"/>
<path d="M327.53,132.12 C327.57,129.44 326.03,120.80 327.76,116.05 C329.49,111.30 334.33,106.51 337.91,103.64 C341.48,100.77 347.21,101.51 349.19,98.83 C351.17,96.15 352.20,90.57 349.77,87.57 C347.34,84.56 339.64,83.17 334.59,80.80 C329.55,78.43 322.02,74.60 319.50,73.36" fill="none" stroke="#2EC0CC" stroke-width="1.00" stroke-linecap="round" stroke-linejoin="round" transform="translate(-0.3,-0.4)"/>
<path d="M327.53,132.12 C327.57,129.44 326.03,120.80 327.76,116.05 C329.49,111.30 334.33,106.51 337.91,103.64 C341.48,100.77 347.21,101.51 349.19,98.83 C351.17,96.15 352.20,90.57 349.77,87.57 C347.34,84.56 339.64,83.17 334.59,80.80 C329.55,78.43 322.02,74.60 319.50,73.36" fill="none" stroke="#8ae6ee" stroke-width="0.32" stroke-linecap="round" stroke-linejoin="round" transform="translate(-0.6,-0.8)" opacity="0.7"/>
<path d="M322.52,107.03 C324.36,107.22 329.92,111.07 333.60,108.21 C337.27,105.34 341.38,95.77 344.57,89.81 C347.76,83.85 351.39,77.95 352.72,72.45 C354.05,66.96 352.51,61.98 352.55,56.85 C352.60,51.73 352.43,45.84 352.99,41.70 C353.55,37.55 355.42,33.59 355.90,31.97" fill="none" stroke="#1b939e" stroke-width="1.72" stroke-linecap="round" stroke-linejoin="round"/>
<path d="M322.52,107.03 C324.36,107.22 329.92,111.07 333.60,108.21 C337.27,105.34 341.38,95.77 344.57,89.81 C347.76,83.85 351.39,77.95 352.72,72.45 C354.05,66.96 352.51,61.98 352.55,56.85 C352.60,51.73 352.43,45.84 352.99,41.70 C353.55,37.55 355.42,33.59 355.90,31.97" fill="none" stroke="#2EC0CC" stroke-width="1.06" stroke-linecap="round" stroke-linejoin="round" transform="translate(-0.3,-0.4)"/>
<path d="M322.52,107.03 C324.36,107.22 329.92,111.07 333.60,108.21 C337.27,105.34 341.38,95.77 344.57,89.81 C347.76,83.85 351.39,77.95 352.72,72.45 C354.05,66.96 352.51,61.98 352.55,56.85 C352.60,51.73 352.43,45.84 352.99,41.70 C353.55,37.55 355.42,33.59 355.90,31.97" fill="none" stroke="#8ae6ee" stroke-width="0.34" stroke-linecap="round" stroke-linejoin="round" transform="translate(-0.6,-0.8)" opacity="0.7"/>
<path d="M326.61,55.45 C324.84,56.50 318.20,58.04 315.99,61.75 C313.78,65.45 310.72,73.45 313.35,77.68 C315.98,81.92 327.76,82.66 331.77,87.16 C335.78,91.67 338.19,99.44 337.42,104.73 C336.64,110.03 329.90,113.92 327.12,118.95 C324.35,123.98 321.83,132.26 320.77,134.93" fill="none" stroke="#1b939e" stroke-width="2.16" stroke-linecap="round" stroke-linejoin="round"/>
<path d="M326.61,55.45 C324.84,56.50 318.20,58.04 315.99,61.75 C313.78,65.45 310.72,73.45 313.35,77.68 C315.98,81.92 327.76,82.66 331.77,87.16 C335.78,91.67 338.19,99.44 337.42,104.73 C336.64,110.03 329.90,113.92 327.12,118.95 C324.35,123.98 321.83,132.26 320.77,134.93" fill="none" stroke="#2EC0CC" stroke-width="1.34" stroke-linecap="round" stroke-linejoin="round" transform="translate(-0.3,-0.4)"/>
<path d="M326.61,55.45 C324.84,56.50 318.20,58.04 315.99,61.75 C313.78,65.45 310.72,73.45 313.35,77.68 C315.98,81.92 327.76,82.66 331.77,87.16 C335.78,91.67 338.19,99.44 337.42,104.73 C336.64,110.03 329.90,113.92 327.12,118.95 C324.35,123.98 321.83,132.26 320.77,134.93" fill="none" stroke="#8ae6ee" stroke-width="0.43" stroke-linecap="round" stroke-linejoin="round" transform="translate(-0.6,-0.8)" opacity="0.7"/>
<path d="M373.41,72.65 C371.36,75.14 365.66,84.94 361.14,87.59 C356.62,90.25 350.72,91.22 346.30,88.56 C341.88,85.91 336.87,77.66 334.61,71.65 C332.35,65.65 333.03,55.73 332.72,52.54" fill="none" stroke="#1b939e" stroke-width="2.00" stroke-linecap="round" stroke-linejoin="round"/>
<path d="M373.41,72.65 C371.36,75.14 365.66,84.94 361.14,87.59 C356.62,90.25 350.72,91.22 346.30,88.56 C341.88,85.91 336.87,77.66 334.61,71.65 C332.35,65.65 333.03,55.73 332.72,52.54" fill="none" stroke="#2EC0CC" stroke-width="1.24" stroke-linecap="round" stroke-linejoin="round" transform="translate(-0.3,-0.4)"/>
<path d="M373.41,72.65 C371.36,75.14 365.66,84.94 361.14,87.59 C356.62,90.25 350.72,91.22 346.30,88.56 C341.88,85.91 336.87,77.66 334.61,71.65 C332.35,65.65 333.03,55.73 332.72,52.54" fill="none" stroke="#8ae6ee" stroke-width="0.40" stroke-linecap="round" stroke-linejoin="round" transform="translate(-0.6,-0.8)" opacity="0.7"/>
<path d="M259.13,111.10 C261.00,110.97 266.29,107.49 270.32,110.29 C274.34,113.10 281.83,123.37 283.28,127.92 C284.74,132.48 279.11,132.48 279.03,137.63 C278.96,142.78 282.66,157.73 282.83,158.83 C283.01,159.92 281.42,149.19 280.07,144.21 C278.72,139.23 275.64,131.48 274.75,128.94" fill="none" stroke="#1b939e" stroke-width="2.21" stroke-linecap="round" stroke-linejoin="round"/>
<path d="M259.13,111.10 C261.00,110.97 266.29,107.49 270.32,110.29 C274.34,113.10 281.83,123.37 283.28,127.92 C284.74,132.48 279.11,132.48 279.03,137.63 C278.96,142.78 282.66,157.73 282.83,158.83 C283.01,159.92 281.42,149.19 280.07,144.21 C278.72,139.23 275.64,131.48 274.75,128.94" fill="none" stroke="#2EC0CC" stroke-width="1.37" stroke-linecap="round" stroke-linejoin="round" transform="translate(-0.3,-0.4)"/>
<path d="M259.13,111.10 C261.00,110.97 266.29,107.49 270.32,110.29 C274.34,113.10 281.83,123.37 283.28,127.92 C284.74,132.48 279.11,132.48 279.03,137.63 C278.96,142.78 282.66,157.73 282.83,158.83 C283.01,159.92 281.42,149.19 280.07,144.21 C278.72,139.23 275.64,131.48 274.75,128.94" fill="none" stroke="#8ae6ee" stroke-width="0.44" stroke-linecap="round" stroke-linejoin="round" transform="translate(-0.6,-0.8)" opacity="0.7"/>
<path d="M315.27,101.83 C316.20,104.58 320.56,113.46 320.86,118.30 C321.16,123.13 317.77,126.96 317.07,130.82 C316.37,134.67 315.08,137.88 316.67,141.41 C318.26,144.94 327.13,152.93 326.61,151.99 C326.08,151.04 317.10,140.73 313.52,135.73 C309.94,130.73 304.80,126.49 305.14,121.99 C305.47,117.50 311.07,109.88 315.54,108.78 C320.00,107.68 329.18,114.28 331.91,115.38" fill="none" stroke="#1b939e" stroke-width="2.00" stroke-linecap="round" stroke-linejoin="round"/>
<path d="M315.27,101.83 C316.20,104.58 320.56,113.46 320.86,118.30 C321.16,123.13 317.77,126.96 317.07,130.82 C316.37,134.67 315.08,137.88 316.67,141.41 C318.26,144.94 327.13,152.93 326.61,151.99 C326.08,151.04 317.10,140.73 313.52,135.73 C309.94,130.73 304.80,126.49 305.14,121.99 C305.47,117.50 311.07,109.88 315.54,108.78 C320.00,107.68 329.18,114.28 331.91,115.38" fill="none" stroke="#2EC0CC" stroke-width="1.24" stroke-linecap="round" stroke-linejoin="round" transform="translate(-0.3,-0.4)"/>
<path d="M315.27,101.83 C316.20,104.58 320.56,113.46 320.86,118.30 C321.16,123.13 317.77,126.96 317.07,130.82 C316.37,134.67 315.08,137.88 316.67,141.41 C318.26,144.94 327.13,152.93 326.61,151.99 C326.08,151.04 317.10,140.73 313.52,135.73 C309.94,130.73 304.80,126.49 305.14,121.99 C305.47,117.50 311.07,109.88 315.54,108.78 C320.00,107.68 329.18,114.28 331.91,115.38" fill="none" stroke="#8ae6ee" stroke-width="0.40" stroke-linecap="round" stroke-linejoin="round" transform="translate(-0.6,-0.8)" opacity="0.7"/>
<path d="M358.69,103.14 C357.86,99.70 356.36,89.02 353.69,82.47 C351.03,75.92 343.47,69.49 342.68,63.84 C341.89,58.20 346.41,53.15 348.97,48.58 C351.53,44.02 356.53,38.47 358.04,36.45" fill="none" stroke="#1b939e" stroke-width="2.25" stroke-linecap="round" stroke-linejoin="round"/>
<path d="M358.69,103.14 C357.86,99.70 356.36,89.02 353.69,82.47 C351.03,75.92 343.47,69.49 342.68,63.84 C341.89,58.20 346.41,53.15 348.97,48.58 C351.53,44.02 356.53,38.47 358.04,36.45" fill="none" stroke="#2EC0CC" stroke-width="1.39" stroke-linecap="round" stroke-linejoin="round" transform="translate(-0.3,-0.4)"/>
<path d="M358.69,103.14 C357.86,99.70 356.36,89.02 353.69,82.47 C351.03,75.92 343.47,69.49 342.68,63.84 C341.89,58.20 346.41,53.15 348.97,48.58 C351.53,44.02 356.53,38.47 358.04,36.45" fill="none" stroke="#8ae6ee" stroke-width="0.45" stroke-linecap="round" stroke-linejoin="round" transform="translate(-0.6,-0.8)" opacity="0.7"/>
<path d="M299.90,120.65 C300.39,123.59 302.33,133.10 302.84,138.27 C303.34,143.44 303.38,151.07 302.93,151.67 C302.49,152.28 302.04,144.56 300.17,141.89 C298.30,139.22 296.17,135.89 291.69,135.68 C287.21,135.46 273.34,140.76 273.28,140.58 C273.21,140.40 287.99,139.23 291.29,134.60 C294.58,129.97 291.04,117.03 293.04,112.80 C295.05,108.57 301.61,109.82 303.32,109.22" fill="none" stroke="#1b939e" stroke-width="2.00" stroke-linecap="round" stroke-linejoin="round"/>
<path d="M299.90,120.65 C300.39,123.59 302.33,133.10 302.84,138.27 C303.34,143.44 303.38,151.07 302.93,151.67 C302.49,152.28 302.04,144.56 300.17,141.89 C298.30,139.22 296.17,135.89 291.69,135.68 C287.21,135.46 273.34,140.76 273.28,140.58 C273.21,140.40 287.99,139.23 291.29,134.60 C294.58,129.97 291.04,117.03 293.04,112.80 C295.05,108.57 301.61,109.82 303.32,109.22" fill="none" stroke="#2EC0CC" stroke-width="1.24" stroke-linecap="round" stroke-linejoin="round" transform="translate(-0.3,-0.4)"/>
<path d="M299.90,120.65 C300.39,123.59 302.33,133.10 302.84,138.27 C303.34,143.44 303.38,151.07 302.93,151.67 C302.49,152.28 302.04,144.56 300.17,141.89 C298.30,139.22 296.17,135.89 291.69,135.68 C287.21,135.46 273.34,140.76 273.28,140.58 C273.21,140.40 287.99,139.23 291.29,134.60 C294.58,129.97 291.04,117.03 293.04,112.80 C295.05,108.57 301.61,109.82 303.32,109.22" fill="none" stroke="#8ae6ee" stroke-width="0.40" stroke-linecap="round" stroke-linejoin="round" transform="translate(-0.6,-0.8)" opacity="0.7"/>
<path d="M264.92,99.11 C265.33,97.29 263.98,91.82 267.37,88.20 C270.76,84.58 281.91,82.75 285.26,77.37 C288.61,72.00 288.73,62.14 287.45,55.97 C286.18,49.79 281.74,42.53 277.63,40.32 C273.53,38.10 265.29,42.29 262.82,42.69" fill="none" stroke="#1b939e" stroke-width="2.32" stroke-linecap="round" stroke-linejoin="round"/>
<path d="M264.92,99.11 C265.33,97.29 263.98,91.82 267.37,88.20 C270.76,84.58 281.91,82.75 285.26,77.37 C288.61,72.00 288.73,62.14 287.45,55.97 C286.18,49.79 281.74,42.53 277.63,40.32 C273.53,38.10 265.29,42.29 262.82,42.69" fill="none" stroke="#2EC0CC" stroke-width="1.44" stroke-linecap="round" stroke-linejoin="round" transform="translate(-0.3,-0.4)"/>
<path d="M264.92,99.11 C265.33,97.29 263.98,91.82 267.37,88.20 C270.76,84.58 281.91,82.75 285.26,77.37 C288.61,72.00 288.73,62.14 287.45,55.97 C286.18,49.79 281.74,42.53 277.63,40.32 C273.53,38.10 265.29,42.29 262.82,42.69" fill="none" stroke="#8ae6ee" stroke-width="0.46" stroke-linecap="round" stroke-linejoin="round" transform="translate(-0.6,-0.8)" opacity="0.7"/>
<path d="M337.07,48.44 C339.11,50.65 345.61,58.03 349.31,61.66 C353.02,65.29 356.12,66.79 359.30,70.21 C362.48,73.63 367.07,77.47 368.39,82.19 C369.70,86.90 370.88,95.07 367.18,98.51 C363.48,101.95 351.66,102.96 346.19,102.84 C340.72,102.71 336.34,98.60 334.37,97.76" fill="none" stroke="#1b939e" stroke-width="1.69" stroke-linecap="round" stroke-linejoin="round"/>
<path d="M337.07,48.44 C339.11,50.65 345.61,58.03 349.31,61.66 C353.02,65.29 356.12,66.79 359.30,70.21 C362.48,73.63 367.07,77.47 368.39,82.19 C369.70,86.90 370.88,95.07 367.18,98.51 C363.48,101.95 351.66,102.96 346.19,102.84 C340.72,102.71 336.34,98.60 334.37,97.76" fill="none" stroke="#2EC0CC" stroke-width="1.05" stroke-linecap="round" stroke-linejoin="round" transform="translate(-0.3,-0.4)"/>
<path d="M337.07,48.44 C339.11,50.65 345.61,58.03 349.31,61.66 C353.02,65.29 356.12,66.79 359.30,70.21 C362.48,73.63 367.07,77.47 368.39,82.19 C369.70,86.90 370.88,95.07 367.18,98.51 C363.48,101.95 351.66,102.96 346.19,102.84 C340.72,102.71 336.34,98.60 334.37,97.76" fill="none" stroke="#8ae6ee" stroke-width="0.34" stroke-linecap="round" stroke-linejoin="round" transform="translate(-0.6,-0.8)" opacity="0.7"/>
<path d="M359.10,42.03 C356.27,41.46 347.13,41.34 342.13,38.60 C337.13,35.86 333.51,27.72 329.12,25.60 C324.73,23.48 320.73,23.54 315.78,25.88 C310.82,28.23 304.39,35.47 299.37,39.66 C294.35,43.86 288.20,46.14 285.65,51.06 C283.10,55.98 284.33,66.16 284.06,69.19" fill="none" stroke="#1b939e" stroke-width="1.69" stroke-linecap="round" stroke-linejoin="round"/>
<path d="M359.10,42.03 C356.27,41.46 347.13,41.34 342.13,38.60 C337.13,35.86 333.51,27.72 329.12,25.60 C324.73,23.48 320.73,23.54 315.78,25.88 C310.82,28.23 304.39,35.47 299.37,39.66 C294.35,43.86 288.20,46.14 285.65,51.06 C283.10,55.98 284.33,66.16 284.06,69.19" fill="none" stroke="#2EC0CC" stroke-width="1.05" stroke-linecap="round" stroke-linejoin="round" transform="translate(-0.3,-0.4)"/>
<path d="M359.10,42.03 C356.27,41.46 347.13,41.34 342.13,38.60 C337.13,35.86 333.51,27.72 329.12,25.60 C324.73,23.48 320.73,23.54 315.78,25.88 C310.82,28.23 304.39,35.47 299.37,39.66 C294.35,43.86 288.20,46.14 285.65,51.06 C283.10,55.98 284.33,66.16 284.06,69.19" fill="none" stroke="#8ae6ee" stroke-width="0.34" stroke-linecap="round" stroke-linejoin="round" transform="translate(-0.6,-0.8)" opacity="0.7"/>
<path d="M345.99,81.24 C347.77,79.15 355.63,72.47 356.69,68.68 C357.75,64.90 352.92,63.00 352.34,58.54 C351.76,54.09 352.15,46.95 353.22,41.96 C354.30,36.97 357.85,30.82 358.78,28.59" fill="none" stroke="#1b939e" stroke-width="2.10" stroke-linecap="round" stroke-linejoin="round"/>
<path d="M345.99,81.24 C347.77,79.15 355.63,72.47 356.69,68.68 C357.75,64.90 352.92,63.00 352.34,58.54 C351.76,54.09 352.15,46.95 353.22,41.96 C354.30,36.97 357.85,30.82 358.78,28.59" fill="none" stroke="#2EC0CC" stroke-width="1.30" stroke-linecap="round" stroke-linejoin="round" transform="translate(-0.3,-0.4)"/>
<path d="M345.99,81.24 C347.77,79.15 355.63,72.47 356.69,68.68 C357.75,64.90 352.92,63.00 352.34,58.54 C351.76,54.09 352.15,46.95 353.22,41.96 C354.30,36.97 357.85,30.82 358.78,28.59" fill="none" stroke="#8ae6ee" stroke-width="0.42" stroke-linecap="round" stroke-linejoin="round" transform="translate(-0.6,-0.8)" opacity="0.7"/>
<path d="M319.87,117.41 C321.62,115.55 325.29,108.01 330.38,106.21 C335.48,104.40 345.17,104.85 350.43,106.60 C355.70,108.35 359.54,112.63 361.97,116.70 C364.40,120.78 364.51,128.67 365.01,131.07" fill="none" stroke="#1b939e" stroke-width="1.98" stroke-linecap="round" stroke-linejoin="round"/>
<path d="M319.87,117.41 C321.62,115.55 325.29,108.01 330.38,106.21 C335.48,104.40 345.17,104.85 350.43,106.60 C355.70,108.35 359.54,112.63 361.97,116.70 C364.40,120.78 364.51,128.67 365.01,131.07" fill="none" stroke="#2EC0CC" stroke-width="1.23" stroke-linecap="round" stroke-linejoin="round" transform="translate(-0.3,-0.4)"/>
<path d="M319.87,117.41 C321.62,115.55 325.29,108.01 330.38,106.21 C335.48,104.40 345.17,104.85 350.43,106.60 C355.70,108.35 359.54,112.63 361.97,116.70 C364.40,120.78 364.51,128.67 365.01,131.07" fill="none" stroke="#8ae6ee" stroke-width="0.40" stroke-linecap="round" stroke-linejoin="round" transform="translate(-0.6,-0.8)" opacity="0.7"/>
<path d="M346.90,129.72 C344.55,127.60 334.53,121.58 332.82,117.02 C331.12,112.47 336.18,106.68 336.67,102.39 C337.16,98.10 334.48,94.26 335.75,91.26 C337.01,88.27 343.38,88.29 344.27,84.40 C345.15,80.51 342.30,73.64 341.07,67.94 C339.85,62.23 337.60,53.15 336.90,50.19" fill="none" stroke="#1b939e" stroke-width="1.72" stroke-linecap="round" stroke-linejoin="round"/>
<path d="M346.90,129.72 C344.55,127.60 334.53,121.58 332.82,117.02 C331.12,112.47 336.18,106.68 336.67,102.39 C337.16,98.10 334.48,94.26 335.75,91.26 C337.01,88.27 343.38,88.29 344.27,84.40 C345.15,80.51 342.30,73.64 341.07,67.94 C339.85,62.23 337.60,53.15 336.90,50.19" fill="none" stroke="#2EC0CC" stroke-width="1.07" stroke-linecap="round" stroke-linejoin="round" transform="translate(-0.3,-0.4)"/>
<path d="M346.90,129.72 C344.55,127.60 334.53,121.58 332.82,117.02 C331.12,112.47 336.18,106.68 336.67,102.39 C337.16,98.10 334.48,94.26 335.75,91.26 C337.01,88.27 343.38,88.29 344.27,84.40 C345.15,80.51 342.30,73.64 341.07,67.94 C339.85,62.23 337.60,53.15 336.90,50.19" fill="none" stroke="#8ae6ee" stroke-width="0.34" stroke-linecap="round" stroke-linejoin="round" transform="translate(-0.6,-0.8)" opacity="0.7"/>
<path d="M312.75,60.89 C314.95,61.46 321.72,61.46 325.96,64.30 C330.21,67.14 334.31,75.12 338.23,77.92 C342.16,80.71 344.53,80.85 349.51,81.08 C354.50,81.30 363.32,80.39 368.14,79.27 C372.96,78.15 373.93,74.90 378.44,74.37 C382.95,73.83 394.94,78.16 395.19,76.05 C395.43,73.93 384.64,64.75 379.92,61.68 C375.20,58.61 369.05,58.30 366.88,57.63" fill="none" stroke="#1b939e" stroke-width="1.84" stroke-linecap="round" stroke-linejoin="round"/>
<path d="M312.75,60.89 C314.95,61.46 321.72,61.46 325.96,64.30 C330.21,67.14 334.31,75.12 338.23,77.92 C342.16,80.71 344.53,80.85 349.51,81.08 C354.50,81.30 363.32,80.39 368.14,79.27 C372.96,78.15 373.93,74.90 378.44,74.37 C382.95,73.83 394.94,78.16 395.19,76.05 C395.43,73.93 384.64,64.75 379.92,61.68 C375.20,58.61 369.05,58.30 366.88,57.63" fill="none" stroke="#2EC0CC" stroke-width="1.14" stroke-linecap="round" stroke-linejoin="round" transform="translate(-0.3,-0.4)"/>
<path d="M312.75,60.89 C314.95,61.46 321.72,61.46 325.96,64.30 C330.21,67.14 334.31,75.12 338.23,77.92 C342.16,80.71 344.53,80.85 349.51,81.08 C354.50,81.30 363.32,80.39 368.14,79.27 C372.96,78.15 373.93,74.90 378.44,74.37 C382.95,73.83 394.94,78.16 395.19,76.05 C395.43,73.93 384.64,64.75 379.92,61.68 C375.20,58.61 369.05,58.30 366.88,57.63" fill="none" stroke="#8ae6ee" stroke-width="0.37" stroke-linecap="round" stroke-linejoin="round" transform="translate(-0.6,-0.8)" opacity="0.7"/>
<path d="M253.74,117.54 C253.17,114.26 253.89,101.65 250.34,97.89 C246.79,94.13 232.46,94.43 232.45,94.97 C232.44,95.50 244.87,100.11 250.29,101.11 C255.71,102.10 260.77,103.22 264.97,100.94 C269.17,98.67 273.73,89.71 275.48,87.46" fill="none" stroke="#1b939e" stroke-width="1.85" stroke-linecap="round" stroke-linejoin="round"/>
<path d="M253.74,117.54 C253.17,114.26 253.89,101.65 250.34,97.89 C246.79,94.13 232.46,94.43 232.45,94.97 C232.44,95.50 244.87,100.11 250.29,101.11 C255.71,102.10 260.77,103.22 264.97,100.94 C269.17,98.67 273.73,89.71 275.48,87.46" fill="none" stroke="#2EC0CC" stroke-width="1.15" stroke-linecap="round" stroke-linejoin="round" transform="translate(-0.3,-0.4)"/>
<path d="M253.74,117.54 C253.17,114.26 253.89,101.65 250.34,97.89 C246.79,94.13 232.46,94.43 232.45,94.97 C232.44,95.50 244.87,100.11 250.29,101.11 C255.71,102.10 260.77,103.22 264.97,100.94 C269.17,98.67 273.73,89.71 275.48,87.46" fill="none" stroke="#8ae6ee" stroke-width="0.37" stroke-linecap="round" stroke-linejoin="round" transform="translate(-0.6,-0.8)" opacity="0.7"/>
<path d="M350.36,103.42 C350.24,101.64 351.61,95.83 349.65,92.75 C347.69,89.67 343.15,84.26 338.59,84.92 C334.04,85.57 326.93,92.64 322.30,96.68 C317.66,100.73 312.71,107.09 310.79,109.17" fill="none" stroke="#1b939e" stroke-width="1.74" stroke-linecap="round" stroke-linejoin="round"/>
<path d="M350.36,103.42 C350.24,101.64 351.61,95.83 349.65,92.75 C347.69,89.67 343.15,84.26 338.59,84.92 C334.04,85.57 326.93,92.64 322.30,96.68 C317.66,100.73 312.71,107.09 310.79,109.17" fill="none" stroke="#2EC0CC" stroke-width="1.08" stroke-linecap="round" stroke-linejoin="round" transform="translate(-0.3,-0.4)"/>
<path d="M350.36,103.42 C350.24,101.64 351.61,95.83 349.65,92.75 C347.69,89.67 343.15,84.26 338.59,84.92 C334.04,85.57 326.93,92.64 322.30,96.68 C317.66,100.73 312.71,107.09 310.79,109.17" fill="none" stroke="#8ae6ee" stroke-width="0.35" stroke-linecap="round" stroke-linejoin="round" transform="translate(-0.6,-0.8)" opacity="0.7"/>
<path d="M269.89,68.24 C268.19,68.93 263.34,71.62 259.68,72.38 C256.03,73.14 252.36,74.41 247.96,72.80 C243.57,71.19 232.69,65.31 233.31,62.71 C233.94,60.11 248.63,58.13 251.70,57.22" fill="none" stroke="#1b939e" stroke-width="1.84" stroke-linecap="round" stroke-linejoin="round"/>
<path d="M269.89,68.24 C268.19,68.93 263.34,71.62 259.68,72.38 C256.03,73.14 252.36,74.41 247.96,72.80 C243.57,71.19 232.69,65.31 233.31,62.71 C233.94,60.11 248.63,58.13 251.70,57.22" fill="none" stroke="#2EC0CC" stroke-width="1.14" stroke-linecap="round" stroke-linejoin="round" transform="translate(-0.3,-0.4)"/>
<path d="M269.89,68.24 C268.19,68.93 263.34,71.62 259.68,72.38 C256.03,73.14 252.36,74.41 247.96,72.80 C243.57,71.19 232.69,65.31 233.31,62.71 C233.94,60.11 248.63,58.13 251.70,57.22" fill="none" stroke="#8ae6ee" stroke-width="0.37" stroke-linecap="round" stroke-linejoin="round" transform="translate(-0.6,-0.8)" opacity="0.7"/>
<path d="M313.75,37.16 C311.51,38.59 305.35,42.91 300.35,45.76 C295.35,48.62 290.01,53.09 283.75,54.27 C277.50,55.46 269.58,52.55 262.82,52.86 C256.06,53.17 249.70,56.48 243.17,56.13 C236.65,55.78 224.83,48.92 223.66,50.76 C222.49,52.61 234.08,64.47 236.17,67.21" fill="none" stroke="#1b939e" stroke-width="2.02" stroke-linecap="round" stroke-linejoin="round"/>
<path d="M313.75,37.16 C311.51,38.59 305.35,42.91 300.35,45.76 C295.35,48.62 290.01,53.09 283.75,54.27 C277.50,55.46 269.58,52.55 262.82,52.86 C256.06,53.17 249.70,56.48 243.17,56.13 C236.65,55.78 224.83,48.92 223.66,50.76 C222.49,52.61 234.08,64.47 236.17,67.21" fill="none" stroke="#2EC0CC" stroke-width="1.25" stroke-linecap="round" stroke-linejoin="round" transform="translate(-0.3,-0.4)"/>
<path d="M313.75,37.16 C311.51,38.59 305.35,42.91 300.35,45.76 C295.35,48.62 290.01,53.09 283.75,54.27 C277.50,55.46 269.58,52.55 262.82,52.86 C256.06,53.17 249.70,56.48 243.17,56.13 C236.65,55.78 224.83,48.92 223.66,50.76 C222.49,52.61 234.08,64.47 236.17,67.21" fill="none" stroke="#8ae6ee" stroke-width="0.40" stroke-linecap="round" stroke-linejoin="round" transform="translate(-0.6,-0.8)" opacity="0.7"/>
<path d="M276.66,41.65 C275.56,39.40 274.24,31.00 270.05,28.14 C265.86,25.27 252.88,24.05 251.52,24.45 C250.16,24.85 257.70,30.12 261.87,30.54 C266.04,30.97 274.10,27.59 276.55,27.00" fill="none" stroke="#1b939e" stroke-width="2.37" stroke-linecap="round" stroke-linejoin="round"/>
<path d="M276.66,41.65 C275.56,39.40 274.24,31.00 270.05,28.14 C265.86,25.27 252.88,24.05 251.52,24.45 C250.16,24.85 257.70,30.12 261.87,30.54 C266.04,30.97 274.10,27.59 276.55,27.00" fill="none" stroke="#2EC0CC" stroke-width="1.47" stroke-linecap="round" stroke-linejoin="round" transform="translate(-0.3,-0.4)"/>
<path d="M276.66,41.65 C275.56,39.40 274.24,31.00 270.05,28.14 C265.86,25.27 252.88,24.05 251.52,24.45 C250.16,24.85 257.70,30.12 261.87,30.54 C266.04,30.97 274.10,27.59 276.55,27.00" fill="none" stroke="#8ae6ee" stroke-width="0.47" stroke-linecap="round" stroke-linejoin="round" transform="translate(-0.6,-0.8)" opacity="0.7"/>
<path d="M326.70,76.11 C326.98,78.07 330.95,83.86 328.40,87.85 C325.84,91.85 315.92,98.10 311.39,100.08 C306.85,102.06 306.15,99.74 301.19,99.72 C296.22,99.71 284.85,99.95 281.58,100.00" fill="none" stroke="#1b939e" stroke-width="1.83" stroke-linecap="round" stroke-linejoin="round"/>
<path d="M326.70,76.11 C326.98,78.07 330.95,83.86 328.40,87.85 C325.84,91.85 315.92,98.10 311.39,100.08 C306.85,102.06 306.15,99.74 301.19,99.72 C296.22,99.71 284.85,99.95 281.58,100.00" fill="none" stroke="#2EC0CC" stroke-width="1.14" stroke-linecap="round" stroke-linejoin="round" transform="translate(-0.3,-0.4)"/>
<path d="M326.70,76.11 C326.98,78.07 330.95,83.86 328.40,87.85 C325.84,91.85 315.92,98.10 311.39,100.08 C306.85,102.06 306.15,99.74 301.19,99.72 C296.22,99.71 284.85,99.95 281.58,100.00" fill="none" stroke="#8ae6ee" stroke-width="0.37" stroke-linecap="round" stroke-linejoin="round" transform="translate(-0.6,-0.8)" opacity="0.7"/>
<path d="M323.46,117.34 C322.22,114.77 319.11,105.28 315.99,101.91 C312.88,98.54 308.61,97.59 304.75,97.13 C300.89,96.67 296.84,99.90 292.85,99.13 C288.86,98.37 285.48,95.56 280.81,92.52 C276.13,89.47 269.29,84.01 264.78,80.88 C260.27,77.75 255.56,78.43 253.76,73.75 C251.96,69.06 255.03,58.82 253.99,52.78 C252.96,46.74 248.62,40.06 247.55,37.51" fill="none" stroke="#1b939e" stroke-width="1.85" stroke-linecap="round" stroke-linejoin="round"/>
<path d="M323.46,117.34 C322.22,114.77 319.11,105.28 315.99,101.91 C312.88,98.54 308.61,97.59 304.75,97.13 C300.89,96.67 296.84,99.90 292.85,99.13 C288.86,98.37 285.48,95.56 280.81,92.52 C276.13,89.47 269.29,84.01 264.78,80.88 C260.27,77.75 255.56,78.43 253.76,73.75 C251.96,69.06 255.03,58.82 253.99,52.78 C252.96,46.74 248.62,40.06 247.55,37.51" fill="none" stroke="#2EC0CC" stroke-width="1.15" stroke-linecap="round" stroke-linejoin="round" transform="translate(-0.3,-0.4)"/>
<path d="M323.46,117.34 C322.22,114.77 319.11,105.28 315.99,101.91 C312.88,98.54 308.61,97.59 304.75,97.13 C300.89,96.67 296.84,99.90 292.85,99.13 C288.86,98.37 285.48,95.56 280.81,92.52 C276.13,89.47 269.29,84.01 264.78,80.88 C260.27,77.75 255.56,78.43 253.76,73.75 C251.96,69.06 255.03,58.82 253.99,52.78 C252.96,46.74 248.62,40.06 247.55,37.51" fill="none" stroke="#8ae6ee" stroke-width="0.37" stroke-linecap="round" stroke-linejoin="round" transform="translate(-0.6,-0.8)" opacity="0.7"/>
<path d="M276.16,82.65 C277.28,84.81 280.68,91.00 282.85,95.65 C285.02,100.30 285.09,106.06 289.20,110.54 C293.30,115.03 303.26,118.77 307.48,122.56 C311.70,126.36 310.84,132.25 314.52,133.31 C318.20,134.38 327.07,129.70 329.58,128.98" fill="none" stroke="#1b939e" stroke-width="2.37" stroke-linecap="round" stroke-linejoin="round"/>
<path d="M276.16,82.65 C277.28,84.81 280.68,91.00 282.85,95.65 C285.02,100.30 285.09,106.06 289.20,110.54 C293.30,115.03 303.26,118.77 307.48,122.56 C311.70,126.36 310.84,132.25 314.52,133.31 C318.20,134.38 327.07,129.70 329.58,128.98" fill="none" stroke="#2EC0CC" stroke-width="1.47" stroke-linecap="round" stroke-linejoin="round" transform="translate(-0.3,-0.4)"/>
<path d="M276.16,82.65 C277.28,84.81 280.68,91.00 282.85,95.65 C285.02,100.30 285.09,106.06 289.20,110.54 C293.30,115.03 303.26,118.77 307.48,122.56 C311.70,126.36 310.84,132.25 314.52,133.31 C318.20,134.38 327.07,129.70 329.58,128.98" fill="none" stroke="#8ae6ee" stroke-width="0.47" stroke-linecap="round" stroke-linejoin="round" transform="translate(-0.6,-0.8)" opacity="0.7"/>
<path d="M325.16,30.89 C322.37,29.31 314.64,22.56 308.39,21.41 C302.14,20.26 292.86,24.38 287.66,24.00 C282.45,23.63 278.16,17.36 277.16,19.14 C276.15,20.93 278.40,30.80 281.63,34.70 C284.86,38.61 294.06,41.27 296.54,42.58" fill="none" stroke="#16296a" stroke-width="2.75" stroke-linecap="round" stroke-linejoin="round"/>
<path d="M325.16,30.89 C322.37,29.31 314.64,22.56 308.39,21.41 C302.14,20.26 292.86,24.38 287.66,24.00 C282.45,23.63 278.16,17.36 277.16,19.14 C276.15,20.93 278.40,30.80 281.63,34.70 C284.86,38.61 294.06,41.27 296.54,42.58" fill="none" stroke="#27408F" stroke-width="1.70" stroke-linecap="round" stroke-linejoin="round" transform="translate(-0.3,-0.4)"/>
<path d="M325.16,30.89 C322.37,29.31 314.64,22.56 308.39,21.41 C302.14,20.26 292.86,24.38 287.66,24.00 C282.45,23.63 278.16,17.36 277.16,19.14 C276.15,20.93 278.40,30.80 281.63,34.70 C284.86,38.61 294.06,41.27 296.54,42.58" fill="none" stroke="#5a74c0" stroke-width="0.55" stroke-linecap="round" stroke-linejoin="round" transform="translate(-0.6,-0.8)" opacity="0.7"/>
<path d="M326.84,134.06 C329.01,134.47 336.12,135.08 339.85,136.49 C343.59,137.91 349.73,144.47 349.23,142.56 C348.73,140.65 340.40,130.98 336.84,125.03 C333.27,119.08 331.70,112.11 327.84,106.85 C323.99,101.58 316.06,95.69 313.70,93.46" fill="none" stroke="#16296a" stroke-width="2.67" stroke-linecap="round" stroke-linejoin="round"/>
<path d="M326.84,134.06 C329.01,134.47 336.12,135.08 339.85,136.49 C343.59,137.91 349.73,144.47 349.23,142.56 C348.73,140.65 340.40,130.98 336.84,125.03 C333.27,119.08 331.70,112.11 327.84,106.85 C323.99,101.58 316.06,95.69 313.70,93.46" fill="none" stroke="#27408F" stroke-width="1.66" stroke-linecap="round" stroke-linejoin="round" transform="translate(-0.3,-0.4)"/>
<path d="M326.84,134.06 C329.01,134.47 336.12,135.08 339.85,136.49 C343.59,137.91 349.73,144.47 349.23,142.56 C348.73,140.65 340.40,130.98 336.84,125.03 C333.27,119.08 331.70,112.11 327.84,106.85 C323.99,101.58 316.06,95.69 313.70,93.46" fill="none" stroke="#5a74c0" stroke-width="0.53" stroke-linecap="round" stroke-linejoin="round" transform="translate(-0.6,-0.8)" opacity="0.7"/>
<path d="M326.22,70.20 C325.35,67.86 323.17,61.83 321.04,56.16 C318.91,50.50 313.66,41.58 313.44,36.20 C313.21,30.83 317.83,28.62 319.70,23.91 C321.57,19.21 324.70,9.07 324.64,7.99 C324.59,6.91 320.25,15.85 319.38,17.42" fill="none" stroke="#16296a" stroke-width="2.77" stroke-linecap="round" stroke-linejoin="round"/>
<path d="M326.22,70.20 C325.35,67.86 323.17,61.83 321.04,56.16 C318.91,50.50 313.66,41.58 313.44,36.20 C313.21,30.83 317.83,28.62 319.70,23.91 C321.57,19.21 324.70,9.07 324.64,7.99 C324.59,6.91 320.25,15.85 319.38,17.42" fill="none" stroke="#27408F" stroke-width="1.72" stroke-linecap="round" stroke-linejoin="round" transform="translate(-0.3,-0.4)"/>
<path d="M326.22,70.20 C325.35,67.86 323.17,61.83 321.04,56.16 C318.91,50.50 313.66,41.58 313.44,36.20 C313.21,30.83 317.83,28.62 319.70,23.91 C321.57,19.21 324.70,9.07 324.64,7.99 C324.59,6.91 320.25,15.85 319.38,17.42" fill="none" stroke="#5a74c0" stroke-width="0.55" stroke-linecap="round" stroke-linejoin="round" transform="translate(-0.6,-0.8)" opacity="0.7"/>
<path d="M342.59,116.93 C342.27,115.27 342.23,111.46 340.68,106.96 C339.13,102.47 336.69,94.59 333.30,89.98 C329.91,85.37 323.89,82.07 320.35,79.33 C316.81,76.58 313.45,74.47 312.07,73.50" fill="none" stroke="#16296a" stroke-width="2.63" stroke-linecap="round" stroke-linejoin="round"/>
<path d="M342.59,116.93 C342.27,115.27 342.23,111.46 340.68,106.96 C339.13,102.47 336.69,94.59 333.30,89.98 C329.91,85.37 323.89,82.07 320.35,79.33 C316.81,76.58 313.45,74.47 312.07,73.50" fill="none" stroke="#27408F" stroke-width="1.63" stroke-linecap="round" stroke-linejoin="round" transform="translate(-0.3,-0.4)"/>
<path d="M342.59,116.93 C342.27,115.27 342.23,111.46 340.68,106.96 C339.13,102.47 336.69,94.59 333.30,89.98 C329.91,85.37 323.89,82.07 320.35,79.33 C316.81,76.58 313.45,74.47 312.07,73.50" fill="none" stroke="#5a74c0" stroke-width="0.53" stroke-linecap="round" stroke-linejoin="round" transform="translate(-0.6,-0.8)" opacity="0.7"/>
<path d="M318.44,53.33 C316.41,50.43 308.85,42.36 306.24,35.93 C303.63,29.50 302.55,20.95 302.78,14.76 C303.02,8.58 305.51,-0.54 307.66,-1.17 C309.80,-1.81 313.78,6.77 315.67,10.93 C317.56,15.09 317.55,18.84 319.00,23.79 C320.45,28.74 323.47,37.83 324.37,40.64" fill="none" stroke="#16296a" stroke-width="3.00" stroke-linecap="round" stroke-linejoin="round"/>
<path d="M318.44,53.33 C316.41,50.43 308.85,42.36 306.24,35.93 C303.63,29.50 302.55,20.95 302.78,14.76 C303.02,8.58 305.51,-0.54 307.66,-1.17 C309.80,-1.81 313.78,6.77 315.67,10.93 C317.56,15.09 317.55,18.84 319.00,23.79 C320.45,28.74 323.47,37.83 324.37,40.64" fill="none" stroke="#27408F" stroke-width="1.86" stroke-linecap="round" stroke-linejoin="round" transform="translate(-0.3,-0.4)"/>
<path d="M318.44,53.33 C316.41,50.43 308.85,42.36 306.24,35.93 C303.63,29.50 302.55,20.95 302.78,14.76 C303.02,8.58 305.51,-0.54 307.66,-1.17 C309.80,-1.81 313.78,6.77 315.67,10.93 C317.56,15.09 317.55,18.84 319.00,23.79 C320.45,28.74 323.47,37.83 324.37,40.64" fill="none" stroke="#5a74c0" stroke-width="0.60" stroke-linecap="round" stroke-linejoin="round" transform="translate(-0.6,-0.8)" opacity="0.7"/>
<path d="M294.59,92.04 C293.15,89.32 289.55,79.61 285.95,75.69 C282.35,71.76 276.41,72.23 273.00,68.47 C269.58,64.70 268.69,56.44 265.46,53.10 C262.23,49.76 257.47,48.75 253.64,48.42 C249.81,48.10 244.34,50.70 242.48,51.15" fill="none" stroke="#16296a" stroke-width="2.78" stroke-linecap="round" stroke-linejoin="round"/>
<path d="M294.59,92.04 C293.15,89.32 289.55,79.61 285.95,75.69 C282.35,71.76 276.41,72.23 273.00,68.47 C269.58,64.70 268.69,56.44 265.46,53.10 C262.23,49.76 257.47,48.75 253.64,48.42 C249.81,48.10 244.34,50.70 242.48,51.15" fill="none" stroke="#27408F" stroke-width="1.72" stroke-linecap="round" stroke-linejoin="round" transform="translate(-0.3,-0.4)"/>
<path d="M294.59,92.04 C293.15,89.32 289.55,79.61 285.95,75.69 C282.35,71.76 276.41,72.23 273.00,68.47 C269.58,64.70 268.69,56.44 265.46,53.10 C262.23,49.76 257.47,48.75 253.64,48.42 C249.81,48.10 244.34,50.70 242.48,51.15" fill="none" stroke="#5a74c0" stroke-width="0.56" stroke-linecap="round" stroke-linejoin="round" transform="translate(-0.6,-0.8)" opacity="0.7"/>
<path d="M364.37,104.48 C361.23,105.10 350.93,108.48 345.53,108.18 C340.12,107.88 336.71,103.81 331.96,102.69 C327.22,101.57 321.28,99.93 317.07,101.48 C312.85,103.04 311.69,108.74 306.66,112.01 C301.62,115.29 290.17,119.61 286.87,121.12" fill="none" stroke="#16296a" stroke-width="2.76" stroke-linecap="round" stroke-linejoin="round"/>
<path d="M364.37,104.48 C361.23,105.10 350.93,108.48 345.53,108.18 C340.12,107.88 336.71,103.81 331.96,102.69 C327.22,101.57 321.28,99.93 317.07,101.48 C312.85,103.04 311.69,108.74 306.66,112.01 C301.62,115.29 290.17,119.61 286.87,121.12" fill="none" stroke="#27408F" stroke-width="1.71" stroke-linecap="round" stroke-linejoin="round" transform="translate(-0.3,-0.4)"/>
<path d="M364.37,104.48 C361.23,105.10 350.93,108.48 345.53,108.18 C340.12,107.88 336.71,103.81 331.96,102.69 C327.22,101.57 321.28,99.93 317.07,101.48 C312.85,103.04 311.69,108.74 306.66,112.01 C301.62,115.29 290.17,119.61 286.87,121.12" fill="none" stroke="#5a74c0" stroke-width="0.55" stroke-linecap="round" stroke-linejoin="round" transform="translate(-0.6,-0.8)" opacity="0.7"/>
<path d="M283.07,39.80 C285.13,38.82 291.00,36.36 295.43,33.93 C299.86,31.50 306.19,28.72 309.66,25.21 C313.13,21.70 314.93,16.78 316.25,12.87 C317.57,8.95 316.44,0.99 317.57,1.71 C318.71,2.44 320.78,13.02 323.07,17.23 C325.37,21.45 329.97,25.37 331.35,27.00" fill="none" stroke="#16296a" stroke-width="2.92" stroke-linecap="round" stroke-linejoin="round"/>
<path d="M283.07,39.80 C285.13,38.82 291.00,36.36 295.43,33.93 C299.86,31.50 306.19,28.72 309.66,25.21 C313.13,21.70 314.93,16.78 316.25,12.87 C317.57,8.95 316.44,0.99 317.57,1.71 C318.71,2.44 320.78,13.02 323.07,17.23 C325.37,21.45 329.97,25.37 331.35,27.00" fill="none" stroke="#27408F" stroke-width="1.81" stroke-linecap="round" stroke-linejoin="round" transform="translate(-0.3,-0.4)"/>
<path d="M283.07,39.80 C285.13,38.82 291.00,36.36 295.43,33.93 C299.86,31.50 306.19,28.72 309.66,25.21 C313.13,21.70 314.93,16.78 316.25,12.87 C317.57,8.95 316.44,0.99 317.57,1.71 C318.71,2.44 320.78,13.02 323.07,17.23 C325.37,21.45 329.97,25.37 331.35,27.00" fill="none" stroke="#5a74c0" stroke-width="0.58" stroke-linecap="round" stroke-linejoin="round" transform="translate(-0.6,-0.8)" opacity="0.7"/>
<path d="M261.58,75.38 C261.93,77.06 263.59,80.59 263.68,85.48 C263.76,90.38 260.93,99.32 262.08,104.74 C263.24,110.15 267.64,114.01 270.60,117.97 C273.56,121.93 274.91,126.34 279.84,128.49 C284.77,130.64 296.78,130.45 300.17,130.85" fill="none" stroke="#16296a" stroke-width="2.84" stroke-linecap="round" stroke-linejoin="round"/>
<path d="M261.58,75.38 C261.93,77.06 263.59,80.59 263.68,85.48 C263.76,90.38 260.93,99.32 262.08,104.74 C263.24,110.15 267.64,114.01 270.60,117.97 C273.56,121.93 274.91,126.34 279.84,128.49 C284.77,130.64 296.78,130.45 300.17,130.85" fill="none" stroke="#27408F" stroke-width="1.76" stroke-linecap="round" stroke-linejoin="round" transform="translate(-0.3,-0.4)"/>
<path d="M261.58,75.38 C261.93,77.06 263.59,80.59 263.68,85.48 C263.76,90.38 260.93,99.32 262.08,104.74 C263.24,110.15 267.64,114.01 270.60,117.97 C273.56,121.93 274.91,126.34 279.84,128.49 C284.77,130.64 296.78,130.45 300.17,130.85" fill="none" stroke="#5a74c0" stroke-width="0.57" stroke-linecap="round" stroke-linejoin="round" transform="translate(-0.6,-0.8)" opacity="0.7"/>
<path d="M341.32,52.24 C342.88,49.97 347.28,43.00 350.66,38.61 C354.03,34.22 363.38,27.81 361.55,25.92 C359.72,24.03 345.83,28.44 339.69,27.26 C333.54,26.08 330.44,19.70 324.66,18.85 C318.89,18.01 308.32,21.64 305.05,22.20" fill="none" stroke="#16296a" stroke-width="2.71" stroke-linecap="round" stroke-linejoin="round"/>
<path d="M341.32,52.24 C342.88,49.97 347.28,43.00 350.66,38.61 C354.03,34.22 363.38,27.81 361.55,25.92 C359.72,24.03 345.83,28.44 339.69,27.26 C333.54,26.08 330.44,19.70 324.66,18.85 C318.89,18.01 308.32,21.64 305.05,22.20" fill="none" stroke="#27408F" stroke-width="1.68" stroke-linecap="round" stroke-linejoin="round" transform="translate(-0.3,-0.4)"/>
<path d="M341.32,52.24 C342.88,49.97 347.28,43.00 350.66,38.61 C354.03,34.22 363.38,27.81 361.55,25.92 C359.72,24.03 345.83,28.44 339.69,27.26 C333.54,26.08 330.44,19.70 324.66,18.85 C318.89,18.01 308.32,21.64 305.05,22.20" fill="none" stroke="#5a74c0" stroke-width="0.54" stroke-linecap="round" stroke-linejoin="round" transform="translate(-0.6,-0.8)" opacity="0.7"/>
<path d="M334.50,61.52 C331.76,61.80 321.89,61.63 318.02,63.23 C314.15,64.84 312.88,66.22 311.29,71.14 C309.70,76.07 311.33,87.39 308.49,92.81 C305.65,98.23 298.26,99.32 294.25,103.66 C290.25,108.00 286.09,116.30 284.46,118.83" fill="none" stroke="#16296a" stroke-width="2.72" stroke-linecap="round" stroke-linejoin="round"/>
<path d="M334.50,61.52 C331.76,61.80 321.89,61.63 318.02,63.23 C314.15,64.84 312.88,66.22 311.29,71.14 C309.70,76.07 311.33,87.39 308.49,92.81 C305.65,98.23 298.26,99.32 294.25,103.66 C290.25,108.00 286.09,116.30 284.46,118.83" fill="none" stroke="#27408F" stroke-width="1.68" stroke-linecap="round" stroke-linejoin="round" transform="translate(-0.3,-0.4)"/>
<path d="M334.50,61.52 C331.76,61.80 321.89,61.63 318.02,63.23 C314.15,64.84 312.88,66.22 311.29,71.14 C309.70,76.07 311.33,87.39 308.49,92.81 C305.65,98.23 298.26,99.32 294.25,103.66 C290.25,108.00 286.09,116.30 284.46,118.83" fill="none" stroke="#5a74c0" stroke-width="0.54" stroke-linecap="round" stroke-linejoin="round" transform="translate(-0.6,-0.8)" opacity="0.7"/>
<path d="M273.59,110.33 C272.91,107.93 272.64,99.54 269.51,95.95 C266.38,92.36 259.69,89.41 254.83,88.79 C249.97,88.17 244.44,90.68 240.36,92.22 C236.28,93.77 232.03,97.09 230.36,98.06" fill="none" stroke="#16296a" stroke-width="2.90" stroke-linecap="round" stroke-linejoin="round"/>
<path d="M273.59,110.33 C272.91,107.93 272.64,99.54 269.51,95.95 C266.38,92.36 259.69,89.41 254.83,88.79 C249.97,88.17 244.44,90.68 240.36,92.22 C236.28,93.77 232.03,97.09 230.36,98.06" fill="none" stroke="#27408F" stroke-width="1.79" stroke-linecap="round" stroke-linejoin="round" transform="translate(-0.3,-0.4)"/>
<path d="M273.59,110.33 C272.91,107.93 272.64,99.54 269.51,95.95 C266.38,92.36 259.69,89.41 254.83,88.79 C249.97,88.17 244.44,90.68 240.36,92.22 C236.28,93.77 232.03,97.09 230.36,98.06" fill="none" stroke="#5a74c0" stroke-width="0.58" stroke-linecap="round" stroke-linejoin="round" transform="translate(-0.6,-0.8)" opacity="0.7"/>
<path d="M322.97,73.45 C323.08,70.79 324.97,61.99 323.60,57.49 C322.23,52.99 316.09,51.79 314.75,46.46 C313.40,41.13 315.02,31.46 315.54,25.52 C316.05,19.58 319.34,11.49 317.83,10.81 C316.31,10.13 308.34,19.66 306.45,21.43" fill="none" stroke="#16296a" stroke-width="2.70" stroke-linecap="round" stroke-linejoin="round"/>
<path d="M322.97,73.45 C323.08,70.79 324.97,61.99 323.60,57.49 C322.23,52.99 316.09,51.79 314.75,46.46 C313.40,41.13 315.02,31.46 315.54,25.52 C316.05,19.58 319.34,11.49 317.83,10.81 C316.31,10.13 308.34,19.66 306.45,21.43" fill="none" stroke="#27408F" stroke-width="1.67" stroke-linecap="round" stroke-linejoin="round" transform="translate(-0.3,-0.4)"/>
<path d="M322.97,73.45 C323.08,70.79 324.97,61.99 323.60,57.49 C322.23,52.99 316.09,51.79 314.75,46.46 C313.40,41.13 315.02,31.46 315.54,25.52 C316.05,19.58 319.34,11.49 317.83,10.81 C316.31,10.13 308.34,19.66 306.45,21.43" fill="none" stroke="#5a74c0" stroke-width="0.54" stroke-linecap="round" stroke-linejoin="round" transform="translate(-0.6,-0.8)" opacity="0.7"/>
<path d="M288.43,28.69 C288.71,31.40 289.69,39.69 290.12,44.92 C290.55,50.15 292.30,55.74 291.01,60.08 C289.73,64.41 283.45,66.04 282.43,70.94 C281.41,75.84 284.49,86.39 284.90,89.48" fill="none" stroke="#16296a" stroke-width="2.96" stroke-linecap="round" stroke-linejoin="round"/>
<path d="M288.43,28.69 C288.71,31.40 289.69,39.69 290.12,44.92 C290.55,50.15 292.30,55.74 291.01,60.08 C289.73,64.41 283.45,66.04 282.43,70.94 C281.41,75.84 284.49,86.39 284.90,89.48" fill="none" stroke="#27408F" stroke-width="1.84" stroke-linecap="round" stroke-linejoin="round" transform="translate(-0.3,-0.4)"/>
<path d="M288.43,28.69 C288.71,31.40 289.69,39.69 290.12,44.92 C290.55,50.15 292.30,55.74 291.01,60.08 C289.73,64.41 283.45,66.04 282.43,70.94 C281.41,75.84 284.49,86.39 284.90,89.48" fill="none" stroke="#5a74c0" stroke-width="0.59" stroke-linecap="round" stroke-linejoin="round" transform="translate(-0.6,-0.8)" opacity="0.7"/>
<path d="M267.30,51.26 C265.69,52.42 261.20,56.93 257.60,58.24 C254.00,59.55 250.24,60.45 245.69,59.11 C241.14,57.77 230.17,52.70 230.30,50.20 C230.43,47.71 241.72,43.06 246.47,44.12 C251.23,45.18 256.24,51.53 258.81,56.56 C261.39,61.59 261.95,68.56 261.92,74.28 C261.89,80.01 259.14,85.76 258.62,90.93 C258.11,96.10 258.96,101.03 258.83,105.30 C258.70,109.57 258.72,112.58 257.83,116.57 C256.95,120.56 254.25,127.12 253.54,129.23" fill="none" stroke="#cfa93a" stroke-width="3.37" stroke-linecap="round" stroke-linejoin="round"/>
<path d="M267.30,51.26 C265.69,52.42 261.20,56.93 257.60,58.24 C254.00,59.55 250.24,60.45 245.69,59.11 C241.14,57.77 230.17,52.70 230.30,50.20 C230.43,47.71 241.72,43.06 246.47,44.12 C251.23,45.18 256.24,51.53 258.81,56.56 C261.39,61.59 261.95,68.56 261.92,74.28 C261.89,80.01 259.14,85.76 258.62,90.93 C258.11,96.10 258.96,101.03 258.83,105.30 C258.70,109.57 258.72,112.58 257.83,116.57 C256.95,120.56 254.25,127.12 253.54,129.23" fill="none" stroke="#F3D25A" stroke-width="2.09" stroke-linecap="round" stroke-linejoin="round" transform="translate(-0.3,-0.4)"/>
<path d="M267.30,51.26 C265.69,52.42 261.20,56.93 257.60,58.24 C254.00,59.55 250.24,60.45 245.69,59.11 C241.14,57.77 230.17,52.70 230.30,50.20 C230.43,47.71 241.72,43.06 246.47,44.12 C251.23,45.18 256.24,51.53 258.81,56.56 C261.39,61.59 261.95,68.56 261.92,74.28 C261.89,80.01 259.14,85.76 258.62,90.93 C258.11,96.10 258.96,101.03 258.83,105.30 C258.70,109.57 258.72,112.58 257.83,116.57 C256.95,120.56 254.25,127.12 253.54,129.23" fill="none" stroke="#fff2b0" stroke-width="0.67" stroke-linecap="round" stroke-linejoin="round" transform="translate(-0.6,-0.8)" opacity="0.7"/>
<path d="M288.27,76.71 C289.94,76.68 294.73,77.42 298.27,76.53 C301.82,75.64 306.34,73.37 309.55,71.38 C312.75,69.38 313.44,65.89 317.52,64.54 C321.59,63.19 329.17,64.00 333.99,63.28 C338.82,62.55 342.67,60.90 346.47,60.21 C350.27,59.52 353.18,61.47 356.78,59.13 C360.38,56.79 365.26,50.46 368.07,46.17 C370.88,41.87 374.94,36.01 373.63,33.33 C372.33,30.65 363.68,28.00 360.24,30.09 C356.79,32.18 354.17,43.24 352.95,45.87" fill="none" stroke="#5f9a26" stroke-width="3.04" stroke-linecap="round" stroke-linejoin="round"/>
<path d="M288.27,76.71 C289.94,76.68 294.73,77.42 298.27,76.53 C301.82,75.64 306.34,73.37 309.55,71.38 C312.75,69.38 313.44,65.89 317.52,64.54 C321.59,63.19 329.17,64.00 333.99,63.28 C338.82,62.55 342.67,60.90 346.47,60.21 C350.27,59.52 353.18,61.47 356.78,59.13 C360.38,56.79 365.26,50.46 368.07,46.17 C370.88,41.87 374.94,36.01 373.63,33.33 C372.33,30.65 363.68,28.00 360.24,30.09 C356.79,32.18 354.17,43.24 352.95,45.87" fill="none" stroke="#86C441" stroke-width="1.88" stroke-linecap="round" stroke-linejoin="round" transform="translate(-0.3,-0.4)"/>
<path d="M288.27,76.71 C289.94,76.68 294.73,77.42 298.27,76.53 C301.82,75.64 306.34,73.37 309.55,71.38 C312.75,69.38 313.44,65.89 317.52,64.54 C321.59,63.19 329.17,64.00 333.99,63.28 C338.82,62.55 342.67,60.90 346.47,60.21 C350.27,59.52 353.18,61.47 356.78,59.13 C360.38,56.79 365.26,50.46 368.07,46.17 C370.88,41.87 374.94,36.01 373.63,33.33 C372.33,30.65 363.68,28.00 360.24,30.09 C356.79,32.18 354.17,43.24 352.95,45.87" fill="none" stroke="#c2ec8a" stroke-width="0.61" stroke-linecap="round" stroke-linejoin="round" transform="translate(-0.6,-0.8)" opacity="0.7"/>
<path d="M328.22,50.82 C325.62,50.70 317.60,50.58 312.65,50.14 C307.70,49.69 303.70,47.67 298.52,48.15 C293.35,48.64 286.69,53.41 281.63,53.06 C276.56,52.71 273.11,47.68 268.14,46.05 C263.17,44.41 255.80,45.33 251.83,43.26 C247.87,41.20 245.00,33.23 244.33,33.66 C243.66,34.09 247.24,43.81 247.82,45.84" fill="none" stroke="#cfa93a" stroke-width="3.10" stroke-linecap="round" stroke-linejoin="round"/>
<path d="M328.22,50.82 C325.62,50.70 317.60,50.58 312.65,50.14 C307.70,49.69 303.70,47.67 298.52,48.15 C293.35,48.64 286.69,53.41 281.63,53.06 C276.56,52.71 273.11,47.68 268.14,46.05 C263.17,44.41 255.80,45.33 251.83,43.26 C247.87,41.20 245.00,33.23 244.33,33.66 C243.66,34.09 247.24,43.81 247.82,45.84" fill="none" stroke="#F3D25A" stroke-width="1.92" stroke-linecap="round" stroke-linejoin="round" transform="translate(-0.3,-0.4)"/>
<path d="M328.22,50.82 C325.62,50.70 317.60,50.58 312.65,50.14 C307.70,49.69 303.70,47.67 298.52,48.15 C293.35,48.64 286.69,53.41 281.63,53.06 C276.56,52.71 273.11,47.68 268.14,46.05 C263.17,44.41 255.80,45.33 251.83,43.26 C247.87,41.20 245.00,33.23 244.33,33.66 C243.66,34.09 247.24,43.81 247.82,45.84" fill="none" stroke="#fff2b0" stroke-width="0.62" stroke-linecap="round" stroke-linejoin="round" transform="translate(-0.6,-0.8)" opacity="0.7"/>
<path d="M288.46,90.92 C290.12,89.94 295.77,87.73 298.43,85.04 C301.09,82.34 301.48,78.39 304.41,74.77 C307.34,71.14 312.67,67.32 316.01,63.28 C319.36,59.25 320.78,53.55 324.48,50.54 C328.18,47.54 334.48,47.61 338.21,45.24 C341.93,42.86 345.39,37.80 346.83,36.31" fill="none" stroke="#16296a" stroke-width="3.39" stroke-linecap="round" stroke-linejoin="round"/>
<path d="M288.46,90.92 C290.12,89.94 295.77,87.73 298.43,85.04 C301.09,82.34 301.48,78.39 304.41,74.77 C307.34,71.14 312.67,67.32 316.01,63.28 C319.36,59.25 320.78,53.55 324.48,50.54 C328.18,47.54 334.48,47.61 338.21,45.24 C341.93,42.86 345.39,37.80 346.83,36.31" fill="none" stroke="#27408F" stroke-width="2.10" stroke-linecap="round" stroke-linejoin="round" transform="translate(-0.3,-0.4)"/>
<path d="M288.46,90.92 C290.12,89.94 295.77,87.73 298.43,85.04 C301.09,82.34 301.48,78.39 304.41,74.77 C307.34,71.14 312.67,67.32 316.01,63.28 C319.36,59.25 320.78,53.55 324.48,50.54 C328.18,47.54 334.48,47.61 338.21,45.24 C341.93,42.86 345.39,37.80 346.83,36.31" fill="none" stroke="#5a74c0" stroke-width="0.68" stroke-linecap="round" stroke-linejoin="round" transform="translate(-0.6,-0.8)" opacity="0.7"/>
<path d="M301.60,123.38 C303.71,124.46 310.67,127.89 314.28,129.82 C317.89,131.75 320.18,132.82 323.28,134.97 C326.37,137.11 330.89,143.14 332.83,142.67 C334.77,142.21 334.96,136.57 334.90,132.18 C334.85,127.79 334.00,120.69 332.53,116.31 C331.05,111.93 327.15,107.65 326.08,105.92" fill="none" stroke="#16296a" stroke-width="3.33" stroke-linecap="round" stroke-linejoin="round"/>
<path d="M301.60,123.38 C303.71,124.46 310.67,127.89 314.28,129.82 C317.89,131.75 320.18,132.82 323.28,134.97 C326.37,137.11 330.89,143.14 332.83,142.67 C334.77,142.21 334.96,136.57 334.90,132.18 C334.85,127.79 334.00,120.69 332.53,116.31 C331.05,111.93 327.15,107.65 326.08,105.92" fill="none" stroke="#27408F" stroke-width="2.07" stroke-linecap="round" stroke-linejoin="round" transform="translate(-0.3,-0.4)"/>
<path d="M301.60,123.38 C303.71,124.46 310.67,127.89 314.28,129.82 C317.89,131.75 320.18,132.82 323.28,134.97 C326.37,137.11 330.89,143.14 332.83,142.67 C334.77,142.21 334.96,136.57 334.90,132.18 C334.85,127.79 334.00,120.69 332.53,116.31 C331.05,111.93 327.15,107.65 326.08,105.92" fill="none" stroke="#5a74c0" stroke-width="0.67" stroke-linecap="round" stroke-linejoin="round" transform="translate(-0.6,-0.8)" opacity="0.7"/>
<path d="M356.88,45.64 C358.45,47.52 361.86,54.81 366.26,56.93 C370.67,59.04 381.81,55.73 383.34,58.33 C384.87,60.92 378.67,69.29 375.42,72.47 C372.18,75.66 367.35,75.89 363.87,77.43 C360.40,78.97 358.11,79.08 354.56,81.72 C351.01,84.35 347.11,89.75 342.57,93.23 C338.04,96.70 332.22,100.63 327.34,102.56 C322.45,104.49 318.30,104.41 313.26,104.81 C308.22,105.21 299.79,104.93 297.09,104.95" fill="none" stroke="#7b4cb3" stroke-width="3.09" stroke-linecap="round" stroke-linejoin="round"/>
<path d="M356.88,45.64 C358.45,47.52 361.86,54.81 366.26,56.93 C370.67,59.04 381.81,55.73 383.34,58.33 C384.87,60.92 378.67,69.29 375.42,72.47 C372.18,75.66 367.35,75.89 363.87,77.43 C360.40,78.97 358.11,79.08 354.56,81.72 C351.01,84.35 347.11,89.75 342.57,93.23 C338.04,96.70 332.22,100.63 327.34,102.56 C322.45,104.49 318.30,104.41 313.26,104.81 C308.22,105.21 299.79,104.93 297.09,104.95" fill="none" stroke="#A56FDA" stroke-width="1.92" stroke-linecap="round" stroke-linejoin="round" transform="translate(-0.3,-0.4)"/>
<path d="M356.88,45.64 C358.45,47.52 361.86,54.81 366.26,56.93 C370.67,59.04 381.81,55.73 383.34,58.33 C384.87,60.92 378.67,69.29 375.42,72.47 C372.18,75.66 367.35,75.89 363.87,77.43 C360.40,78.97 358.11,79.08 354.56,81.72 C351.01,84.35 347.11,89.75 342.57,93.23 C338.04,96.70 332.22,100.63 327.34,102.56 C322.45,104.49 318.30,104.41 313.26,104.81 C308.22,105.21 299.79,104.93 297.09,104.95" fill="none" stroke="#d3b6f4" stroke-width="0.62" stroke-linecap="round" stroke-linejoin="round" transform="translate(-0.6,-0.8)" opacity="0.7"/>
<path d="M287.96,43.06 C288.77,45.31 292.55,51.90 292.83,56.56 C293.10,61.23 289.83,66.71 289.61,71.04 C289.39,75.36 292.15,79.15 291.50,82.50 C290.85,85.86 288.05,87.24 285.71,91.16 C283.36,95.09 279.37,101.17 277.43,106.06 C275.50,110.96 275.71,115.61 274.09,120.55 C272.46,125.49 268.74,133.17 267.67,135.70" fill="none" stroke="#5f9a26" stroke-width="3.22" stroke-linecap="round" stroke-linejoin="round"/>
<path d="M287.96,43.06 C288.77,45.31 292.55,51.90 292.83,56.56 C293.10,61.23 289.83,66.71 289.61,71.04 C289.39,75.36 292.15,79.15 291.50,82.50 C290.85,85.86 288.05,87.24 285.71,91.16 C283.36,95.09 279.37,101.17 277.43,106.06 C275.50,110.96 275.71,115.61 274.09,120.55 C272.46,125.49 268.74,133.17 267.67,135.70" fill="none" stroke="#86C441" stroke-width="2.00" stroke-linecap="round" stroke-linejoin="round" transform="translate(-0.3,-0.4)"/>
<path d="M287.96,43.06 C288.77,45.31 292.55,51.90 292.83,56.56 C293.10,61.23 289.83,66.71 289.61,71.04 C289.39,75.36 292.15,79.15 291.50,82.50 C290.85,85.86 288.05,87.24 285.71,91.16 C283.36,95.09 279.37,101.17 277.43,106.06 C275.50,110.96 275.71,115.61 274.09,120.55 C272.46,125.49 268.74,133.17 267.67,135.70" fill="none" stroke="#c2ec8a" stroke-width="0.64" stroke-linecap="round" stroke-linejoin="round" transform="translate(-0.6,-0.8)" opacity="0.7"/>
<path d="M316.11,71.48 C317.73,73.24 323.66,78.38 325.81,82.05 C327.97,85.72 326.96,90.21 329.06,93.50 C331.15,96.80 334.73,100.44 338.37,101.82 C342.01,103.20 346.48,101.34 350.89,101.78 C355.30,102.22 360.10,104.47 364.83,104.47 C369.57,104.46 378.07,103.67 379.29,101.75 C380.50,99.82 373.32,94.38 372.13,92.91" fill="none" stroke="#7b4cb3" stroke-width="3.36" stroke-linecap="round" stroke-linejoin="round"/>
<path d="M316.11,71.48 C317.73,73.24 323.66,78.38 325.81,82.05 C327.97,85.72 326.96,90.21 329.06,93.50 C331.15,96.80 334.73,100.44 338.37,101.82 C342.01,103.20 346.48,101.34 350.89,101.78 C355.30,102.22 360.10,104.47 364.83,104.47 C369.57,104.46 378.07,103.67 379.29,101.75 C380.50,99.82 373.32,94.38 372.13,92.91" fill="none" stroke="#A56FDA" stroke-width="2.08" stroke-linecap="round" stroke-linejoin="round" transform="translate(-0.3,-0.4)"/>
<path d="M316.11,71.48 C317.73,73.24 323.66,78.38 325.81,82.05 C327.97,85.72 326.96,90.21 329.06,93.50 C331.15,96.80 334.73,100.44 338.37,101.82 C342.01,103.20 346.48,101.34 350.89,101.78 C355.30,102.22 360.10,104.47 364.83,104.47 C369.57,104.46 378.07,103.67 379.29,101.75 C380.50,99.82 373.32,94.38 372.13,92.91" fill="none" stroke="#d3b6f4" stroke-width="0.67" stroke-linecap="round" stroke-linejoin="round" transform="translate(-0.6,-0.8)" opacity="0.7"/>
<path d="M289.80,31.64 C289.66,29.35 288.42,22.74 288.92,17.93 C289.43,13.13 290.12,3.63 292.85,2.80 C295.57,1.97 301.97,9.89 305.26,12.97 C308.55,16.04 310.60,17.65 312.59,21.27 C314.59,24.88 317.16,30.92 317.22,34.67 C317.27,38.41 313.62,42.21 312.90,43.72" fill="none" stroke="#5f9a26" stroke-width="3.08" stroke-linecap="round" stroke-linejoin="round"/>
<path d="M289.80,31.64 C289.66,29.35 288.42,22.74 288.92,17.93 C289.43,13.13 290.12,3.63 292.85,2.80 C295.57,1.97 301.97,9.89 305.26,12.97 C308.55,16.04 310.60,17.65 312.59,21.27 C314.59,24.88 317.16,30.92 317.22,34.67 C317.27,38.41 313.62,42.21 312.90,43.72" fill="none" stroke="#86C441" stroke-width="1.91" stroke-linecap="round" stroke-linejoin="round" transform="translate(-0.3,-0.4)"/>
<path d="M289.80,31.64 C289.66,29.35 288.42,22.74 288.92,17.93 C289.43,13.13 290.12,3.63 292.85,2.80 C295.57,1.97 301.97,9.89 305.26,12.97 C308.55,16.04 310.60,17.65 312.59,21.27 C314.59,24.88 317.16,30.92 317.22,34.67 C317.27,38.41 313.62,42.21 312.90,43.72" fill="none" stroke="#c2ec8a" stroke-width="0.62" stroke-linecap="round" stroke-linejoin="round" transform="translate(-0.6,-0.8)" opacity="0.7"/>
<path d="M346.93,101.90 C344.77,100.50 337.94,97.24 334.00,93.47 C330.06,89.69 325.99,83.45 323.28,79.24 C320.57,75.03 321.13,71.37 317.73,68.19 C314.33,65.02 307.05,62.16 302.91,60.19 C298.78,58.22 296.66,56.86 292.93,56.37 C289.19,55.89 282.56,57.12 280.49,57.27" fill="none" stroke="#7b4cb3" stroke-width="3.26" stroke-linecap="round" stroke-linejoin="round"/>
<path d="M346.93,101.90 C344.77,100.50 337.94,97.24 334.00,93.47 C330.06,89.69 325.99,83.45 323.28,79.24 C320.57,75.03 321.13,71.37 317.73,68.19 C314.33,65.02 307.05,62.16 302.91,60.19 C298.78,58.22 296.66,56.86 292.93,56.37 C289.19,55.89 282.56,57.12 280.49,57.27" fill="none" stroke="#A56FDA" stroke-width="2.02" stroke-linecap="round" stroke-linejoin="round" transform="translate(-0.3,-0.4)"/>
<path d="M346.93,101.90 C344.77,100.50 337.94,97.24 334.00,93.47 C330.06,89.69 325.99,83.45 323.28,79.24 C320.57,75.03 321.13,71.37 317.73,68.19 C314.33,65.02 307.05,62.16 302.91,60.19 C298.78,58.22 296.66,56.86 292.93,56.37 C289.19,55.89 282.56,57.12 280.49,57.27" fill="none" stroke="#d3b6f4" stroke-width="0.65" stroke-linecap="round" stroke-linejoin="round" transform="translate(-0.6,-0.8)" opacity="0.7"/>
<path d="M314.32,101.20 C312.84,99.27 306.93,94.44 305.46,89.67 C303.99,84.90 304.31,76.92 305.53,72.59 C306.74,68.27 308.75,66.10 312.72,63.73 C316.70,61.36 325.03,60.76 329.36,58.35 C333.69,55.94 336.97,53.00 338.70,49.27 C340.43,45.53 339.57,38.18 339.74,35.96" fill="none" stroke="#16296a" stroke-width="3.46" stroke-linecap="round" stroke-linejoin="round"/>
<path d="M314.32,101.20 C312.84,99.27 306.93,94.44 305.46,89.67 C303.99,84.90 304.31,76.92 305.53,72.59 C306.74,68.27 308.75,66.10 312.72,63.73 C316.70,61.36 325.03,60.76 329.36,58.35 C333.69,55.94 336.97,53.00 338.70,49.27 C340.43,45.53 339.57,38.18 339.74,35.96" fill="none" stroke="#27408F" stroke-width="2.15" stroke-linecap="round" stroke-linejoin="round" transform="translate(-0.3,-0.4)"/>
<path d="M314.32,101.20 C312.84,99.27 306.93,94.44 305.46,89.67 C303.99,84.90 304.31,76.92 305.53,72.59 C306.74,68.27 308.75,66.10 312.72,63.73 C316.70,61.36 325.03,60.76 329.36,58.35 C333.69,55.94 336.97,53.00 338.70,49.27 C340.43,45.53 339.57,38.18 339.74,35.96" fill="none" stroke="#5a74c0" stroke-width="0.69" stroke-linecap="round" stroke-linejoin="round" transform="translate(-0.6,-0.8)" opacity="0.7"/>
<path d="M323.39,42.60 C321.77,43.91 317.46,47.06 313.68,50.43 C309.90,53.80 305.38,59.47 300.71,62.83 C296.05,66.19 289.47,67.52 285.69,70.59 C281.92,73.65 279.19,76.85 278.09,81.21 C276.98,85.56 278.32,92.17 279.05,96.71 C279.77,101.24 280.21,105.52 282.44,108.42 C284.66,111.32 288.55,112.86 292.38,114.11 C296.21,115.36 301.44,113.71 305.40,115.93 C309.36,118.14 312.43,124.55 316.16,127.38 C319.90,130.22 325.85,132.02 327.79,132.95" fill="none" stroke="#5f9a26" stroke-width="3.40" stroke-linecap="round" stroke-linejoin="round"/>
<path d="M323.39,42.60 C321.77,43.91 317.46,47.06 313.68,50.43 C309.90,53.80 305.38,59.47 300.71,62.83 C296.05,66.19 289.47,67.52 285.69,70.59 C281.92,73.65 279.19,76.85 278.09,81.21 C276.98,85.56 278.32,92.17 279.05,96.71 C279.77,101.24 280.21,105.52 282.44,108.42 C284.66,111.32 288.55,112.86 292.38,114.11 C296.21,115.36 301.44,113.71 305.40,115.93 C309.36,118.14 312.43,124.55 316.16,127.38 C319.90,130.22 325.85,132.02 327.79,132.95" fill="none" stroke="#86C441" stroke-width="2.11" stroke-linecap="round" stroke-linejoin="round" transform="translate(-0.3,-0.4)"/>
<path d="M323.39,42.60 C321.77,43.91 317.46,47.06 313.68,50.43 C309.90,53.80 305.38,59.47 300.71,62.83 C296.05,66.19 289.47,67.52 285.69,70.59 C281.92,73.65 279.19,76.85 278.09,81.21 C276.98,85.56 278.32,92.17 279.05,96.71 C279.77,101.24 280.21,105.52 282.44,108.42 C284.66,111.32 288.55,112.86 292.38,114.11 C296.21,115.36 301.44,113.71 305.40,115.93 C309.36,118.14 312.43,124.55 316.16,127.38 C319.90,130.22 325.85,132.02 327.79,132.95" fill="none" stroke="#c2ec8a" stroke-width="0.68" stroke-linecap="round" stroke-linejoin="round" transform="translate(-0.6,-0.8)" opacity="0.7"/>
<path d="M276.41,117.02 C274.72,115.78 269.58,111.57 266.30,109.55 C263.01,107.53 259.32,107.50 256.70,104.89 C254.08,102.28 251.77,98.07 250.58,93.88 C249.38,89.69 251.26,83.66 249.53,79.76 C247.80,75.86 243.38,72.64 240.22,70.47 C237.06,68.31 232.19,67.39 230.58,66.78" fill="none" stroke="#5f9a26" stroke-width="3.47" stroke-linecap="round" stroke-linejoin="round"/>
<path d="M276.41,117.02 C274.72,115.78 269.58,111.57 266.30,109.55 C263.01,107.53 259.32,107.50 256.70,104.89 C254.08,102.28 251.77,98.07 250.58,93.88 C249.38,89.69 251.26,83.66 249.53,79.76 C247.80,75.86 243.38,72.64 240.22,70.47 C237.06,68.31 232.19,67.39 230.58,66.78" fill="none" stroke="#86C441" stroke-width="2.15" stroke-linecap="round" stroke-linejoin="round" transform="translate(-0.3,-0.4)"/>
<path d="M276.41,117.02 C274.72,115.78 269.58,111.57 266.30,109.55 C263.01,107.53 259.32,107.50 256.70,104.89 C254.08,102.28 251.77,98.07 250.58,93.88 C249.38,89.69 251.26,83.66 249.53,79.76 C247.80,75.86 243.38,72.64 240.22,70.47 C237.06,68.31 232.19,67.39 230.58,66.78" fill="none" stroke="#c2ec8a" stroke-width="0.69" stroke-linecap="round" stroke-linejoin="round" transform="translate(-0.6,-0.8)" opacity="0.7"/>
<path d="M342.26,85.41 C339.93,85.80 332.72,87.18 328.32,87.76 C323.92,88.33 320.07,88.33 315.86,88.88 C311.64,89.42 307.68,91.87 303.02,91.04 C298.37,90.21 292.45,86.19 287.94,83.92 C283.44,81.65 280.33,78.32 275.99,77.44 C271.65,76.55 265.97,77.87 261.91,78.62 C257.85,79.38 255.49,80.18 251.62,81.98 C247.76,83.78 238.51,86.93 238.72,89.41 C238.92,91.89 248.99,94.86 252.86,96.84 C256.73,98.82 260.41,100.54 261.92,101.29" fill="none" stroke="#5f9a26" stroke-width="3.30" stroke-linecap="round" stroke-linejoin="round"/>
<path d="M342.26,85.41 C339.93,85.80 332.72,87.18 328.32,87.76 C323.92,88.33 320.07,88.33 315.86,88.88 C311.64,89.42 307.68,91.87 303.02,91.04 C298.37,90.21 292.45,86.19 287.94,83.92 C283.44,81.65 280.33,78.32 275.99,77.44 C271.65,76.55 265.97,77.87 261.91,78.62 C257.85,79.38 255.49,80.18 251.62,81.98 C247.76,83.78 238.51,86.93 238.72,89.41 C238.92,91.89 248.99,94.86 252.86,96.84 C256.73,98.82 260.41,100.54 261.92,101.29" fill="none" stroke="#86C441" stroke-width="2.04" stroke-linecap="round" stroke-linejoin="round" transform="translate(-0.3,-0.4)"/>
<path d="M342.26,85.41 C339.93,85.80 332.72,87.18 328.32,87.76 C323.92,88.33 320.07,88.33 315.86,88.88 C311.64,89.42 307.68,91.87 303.02,91.04 C298.37,90.21 292.45,86.19 287.94,83.92 C283.44,81.65 280.33,78.32 275.99,77.44 C271.65,76.55 265.97,77.87 261.91,78.62 C257.85,79.38 255.49,80.18 251.62,81.98 C247.76,83.78 238.51,86.93 238.72,89.41 C238.92,91.89 248.99,94.86 252.86,96.84 C256.73,98.82 260.41,100.54 261.92,101.29" fill="none" stroke="#c2ec8a" stroke-width="0.66" stroke-linecap="round" stroke-linejoin="round" transform="translate(-0.6,-0.8)" opacity="0.7"/>
<path d="M301.37,66.94 C303.45,65.46 308.95,59.21 313.84,58.02 C318.73,56.83 325.50,60.31 330.69,59.83 C335.88,59.35 341.35,57.76 345.00,55.13 C348.64,52.49 350.56,47.47 352.54,44.03 C354.52,40.59 355.64,38.11 356.86,34.48 C358.08,30.84 359.95,22.48 359.84,22.21 C359.74,21.94 357.22,28.84 356.23,32.88 C355.24,36.93 353.38,41.83 353.89,46.49 C354.41,51.14 357.17,57.15 359.34,60.81 C361.50,64.47 365.63,67.18 366.89,68.45" fill="none" stroke="#cfa93a" stroke-width="3.37" stroke-linecap="round" stroke-linejoin="round"/>
<path d="M301.37,66.94 C303.45,65.46 308.95,59.21 313.84,58.02 C318.73,56.83 325.50,60.31 330.69,59.83 C335.88,59.35 341.35,57.76 345.00,55.13 C348.64,52.49 350.56,47.47 352.54,44.03 C354.52,40.59 355.64,38.11 356.86,34.48 C358.08,30.84 359.95,22.48 359.84,22.21 C359.74,21.94 357.22,28.84 356.23,32.88 C355.24,36.93 353.38,41.83 353.89,46.49 C354.41,51.14 357.17,57.15 359.34,60.81 C361.50,64.47 365.63,67.18 366.89,68.45" fill="none" stroke="#F3D25A" stroke-width="2.09" stroke-linecap="round" stroke-linejoin="round" transform="translate(-0.3,-0.4)"/>
<path d="M301.37,66.94 C303.45,65.46 308.95,59.21 313.84,58.02 C318.73,56.83 325.50,60.31 330.69,59.83 C335.88,59.35 341.35,57.76 345.00,55.13 C348.64,52.49 350.56,47.47 352.54,44.03 C354.52,40.59 355.64,38.11 356.86,34.48 C358.08,30.84 359.95,22.48 359.84,22.21 C359.74,21.94 357.22,28.84 356.23,32.88 C355.24,36.93 353.38,41.83 353.89,46.49 C354.41,51.14 357.17,57.15 359.34,60.81 C361.50,64.47 365.63,67.18 366.89,68.45" fill="none" stroke="#fff2b0" stroke-width="0.67" stroke-linecap="round" stroke-linejoin="round" transform="translate(-0.6,-0.8)" opacity="0.7"/>
<path d="M336.17,113.92 C334.51,111.56 327.82,103.94 326.22,99.75 C324.62,95.56 324.68,92.84 326.57,88.79 C328.46,84.74 335.04,79.71 337.55,75.42 C340.07,71.14 339.41,66.46 341.68,63.08 C343.96,59.70 346.95,57.43 351.22,55.16 C355.50,52.88 363.75,51.84 367.32,49.42 C370.89,47.00 373.23,40.64 372.64,40.62 C372.06,40.60 368.03,47.09 363.82,49.30 C359.60,51.52 352.28,53.05 347.36,53.91 C342.43,54.78 336.47,54.41 334.29,54.50" fill="none" stroke="#7b4cb3" stroke-width="3.21" stroke-linecap="round" stroke-linejoin="round"/>
<path d="M336.17,113.92 C334.51,111.56 327.82,103.94 326.22,99.75 C324.62,95.56 324.68,92.84 326.57,88.79 C328.46,84.74 335.04,79.71 337.55,75.42 C340.07,71.14 339.41,66.46 341.68,63.08 C343.96,59.70 346.95,57.43 351.22,55.16 C355.50,52.88 363.75,51.84 367.32,49.42 C370.89,47.00 373.23,40.64 372.64,40.62 C372.06,40.60 368.03,47.09 363.82,49.30 C359.60,51.52 352.28,53.05 347.36,53.91 C342.43,54.78 336.47,54.41 334.29,54.50" fill="none" stroke="#A56FDA" stroke-width="1.99" stroke-linecap="round" stroke-linejoin="round" transform="translate(-0.3,-0.4)"/>
<path d="M336.17,113.92 C334.51,111.56 327.82,103.94 326.22,99.75 C324.62,95.56 324.68,92.84 326.57,88.79 C328.46,84.74 335.04,79.71 337.55,75.42 C340.07,71.14 339.41,66.46 341.68,63.08 C343.96,59.70 346.95,57.43 351.22,55.16 C355.50,52.88 363.75,51.84 367.32,49.42 C370.89,47.00 373.23,40.64 372.64,40.62 C372.06,40.60 368.03,47.09 363.82,49.30 C359.60,51.52 352.28,53.05 347.36,53.91 C342.43,54.78 336.47,54.41 334.29,54.50" fill="none" stroke="#d3b6f4" stroke-width="0.64" stroke-linecap="round" stroke-linejoin="round" transform="translate(-0.6,-0.8)" opacity="0.7"/>
<path d="M358.79,88.33 C358.81,90.82 358.55,98.60 358.89,103.29 C359.24,107.98 359.19,111.85 360.87,116.47 C362.54,121.09 370.12,129.98 368.95,131.02 C367.77,132.05 358.14,123.62 353.83,122.65 C349.51,121.69 346.87,124.34 343.04,125.22 C339.22,126.11 332.91,127.52 330.88,127.98" fill="none" stroke="#7b4cb3" stroke-width="3.45" stroke-linecap="round" stroke-linejoin="round"/>
<path d="M358.79,88.33 C358.81,90.82 358.55,98.60 358.89,103.29 C359.24,107.98 359.19,111.85 360.87,116.47 C362.54,121.09 370.12,129.98 368.95,131.02 C367.77,132.05 358.14,123.62 353.83,122.65 C349.51,121.69 346.87,124.34 343.04,125.22 C339.22,126.11 332.91,127.52 330.88,127.98" fill="none" stroke="#A56FDA" stroke-width="2.14" stroke-linecap="round" stroke-linejoin="round" transform="translate(-0.3,-0.4)"/>
<path d="M358.79,88.33 C358.81,90.82 358.55,98.60 358.89,103.29 C359.24,107.98 359.19,111.85 360.87,116.47 C362.54,121.09 370.12,129.98 368.95,131.02 C367.77,132.05 358.14,123.62 353.83,122.65 C349.51,121.69 346.87,124.34 343.04,125.22 C339.22,126.11 332.91,127.52 330.88,127.98" fill="none" stroke="#d3b6f4" stroke-width="0.69" stroke-linecap="round" stroke-linejoin="round" transform="translate(-0.6,-0.8)" opacity="0.7"/>
<path d="M324.99,99.07 C325.88,100.48 328.39,104.20 330.31,107.55 C332.23,110.90 333.63,115.79 336.49,119.16 C339.36,122.52 344.17,124.44 347.48,127.75 C350.79,131.07 356.35,139.53 356.37,139.06 C356.40,138.58 348.66,129.33 347.62,124.90 C346.57,120.47 349.81,117.39 350.09,112.47 C350.36,107.56 349.39,98.25 349.25,95.40" fill="none" stroke="#7b4cb3" stroke-width="3.49" stroke-linecap="round" stroke-linejoin="round"/>
<path d="M324.99,99.07 C325.88,100.48 328.39,104.20 330.31,107.55 C332.23,110.90 333.63,115.79 336.49,119.16 C339.36,122.52 344.17,124.44 347.48,127.75 C350.79,131.07 356.35,139.53 356.37,139.06 C356.40,138.58 348.66,129.33 347.62,124.90 C346.57,120.47 349.81,117.39 350.09,112.47 C350.36,107.56 349.39,98.25 349.25,95.40" fill="none" stroke="#A56FDA" stroke-width="2.16" stroke-linecap="round" stroke-linejoin="round" transform="translate(-0.3,-0.4)"/>
<path d="M324.99,99.07 C325.88,100.48 328.39,104.20 330.31,107.55 C332.23,110.90 333.63,115.79 336.49,119.16 C339.36,122.52 344.17,124.44 347.48,127.75 C350.79,131.07 356.35,139.53 356.37,139.06 C356.40,138.58 348.66,129.33 347.62,124.90 C346.57,120.47 349.81,117.39 350.09,112.47 C350.36,107.56 349.39,98.25 349.25,95.40" fill="none" stroke="#d3b6f4" stroke-width="0.70" stroke-linecap="round" stroke-linejoin="round" transform="translate(-0.6,-0.8)" opacity="0.7"/>
<path d="M292.98,35.48 C294.77,33.74 300.21,28.50 303.71,25.04 C307.21,21.59 311.14,18.20 313.96,14.77 C316.78,11.34 319.94,4.24 320.65,4.47 C321.35,4.69 318.20,12.10 318.19,16.11 C318.18,20.11 318.68,24.62 320.61,28.47 C322.54,32.32 326.57,36.94 329.79,39.18 C333.01,41.42 338.25,41.46 339.94,41.92" fill="none" stroke="#5f9a26" stroke-width="3.36" stroke-linecap="round" stroke-linejoin="round"/>
<path d="M292.98,35.48 C294.77,33.74 300.21,28.50 303.71,25.04 C307.21,21.59 311.14,18.20 313.96,14.77 C316.78,11.34 319.94,4.24 320.65,4.47 C321.35,4.69 318.20,12.10 318.19,16.11 C318.18,20.11 318.68,24.62 320.61,28.47 C322.54,32.32 326.57,36.94 329.79,39.18 C333.01,41.42 338.25,41.46 339.94,41.92" fill="none" stroke="#86C441" stroke-width="2.08" stroke-linecap="round" stroke-linejoin="round" transform="translate(-0.3,-0.4)"/>
<path d="M292.98,35.48 C294.77,33.74 300.21,28.50 303.71,25.04 C307.21,21.59 311.14,18.20 313.96,14.77 C316.78,11.34 319.94,4.24 320.65,4.47 C321.35,4.69 318.20,12.10 318.19,16.11 C318.18,20.11 318.68,24.62 320.61,28.47 C322.54,32.32 326.57,36.94 329.79,39.18 C333.01,41.42 338.25,41.46 339.94,41.92" fill="none" stroke="#c2ec8a" stroke-width="0.67" stroke-linecap="round" stroke-linejoin="round" transform="translate(-0.6,-0.8)" opacity="0.7"/>
<path d="M303.99,61.14 C302.72,63.29 298.55,69.76 296.40,74.05 C294.26,78.34 292.31,82.55 291.12,86.86 C289.92,91.17 290.85,95.49 289.24,99.90 C287.62,104.32 283.06,108.62 281.43,113.35 C279.80,118.08 279.58,123.24 279.46,128.30 C279.34,133.36 278.81,142.09 280.71,143.71 C282.62,145.34 287.49,139.71 290.88,138.04 C294.26,136.37 296.97,133.50 301.01,133.67 C305.05,133.85 312.78,138.19 315.14,139.09" fill="none" stroke="#5f9a26" stroke-width="3.05" stroke-linecap="round" stroke-linejoin="round"/>
<path d="M303.99,61.14 C302.72,63.29 298.55,69.76 296.40,74.05 C294.26,78.34 292.31,82.55 291.12,86.86 C289.92,91.17 290.85,95.49 289.24,99.90 C287.62,104.32 283.06,108.62 281.43,113.35 C279.80,118.08 279.58,123.24 279.46,128.30 C279.34,133.36 278.81,142.09 280.71,143.71 C282.62,145.34 287.49,139.71 290.88,138.04 C294.26,136.37 296.97,133.50 301.01,133.67 C305.05,133.85 312.78,138.19 315.14,139.09" fill="none" stroke="#86C441" stroke-width="1.89" stroke-linecap="round" stroke-linejoin="round" transform="translate(-0.3,-0.4)"/>
<path d="M303.99,61.14 C302.72,63.29 298.55,69.76 296.40,74.05 C294.26,78.34 292.31,82.55 291.12,86.86 C289.92,91.17 290.85,95.49 289.24,99.90 C287.62,104.32 283.06,108.62 281.43,113.35 C279.80,118.08 279.58,123.24 279.46,128.30 C279.34,133.36 278.81,142.09 280.71,143.71 C282.62,145.34 287.49,139.71 290.88,138.04 C294.26,136.37 296.97,133.50 301.01,133.67 C305.05,133.85 312.78,138.19 315.14,139.09" fill="none" stroke="#c2ec8a" stroke-width="0.61" stroke-linecap="round" stroke-linejoin="round" transform="translate(-0.6,-0.8)" opacity="0.7"/>
<path d="M306.76,101.51 C306.84,103.48 306.26,109.93 307.21,113.35 C308.15,116.76 310.41,117.88 312.43,122.01 C314.45,126.13 318.82,133.69 319.34,138.11 C319.87,142.53 316.78,149.23 315.58,148.52 C314.37,147.82 313.82,139.00 312.13,133.87 C310.43,128.74 305.85,122.05 305.38,117.76 C304.91,113.47 307.42,111.10 309.29,108.13 C311.15,105.17 315.36,103.36 316.56,99.95 C317.76,96.54 315.44,92.51 316.50,87.66 C317.55,82.82 321.83,73.69 322.90,70.90" fill="none" stroke="#5f9a26" stroke-width="3.37" stroke-linecap="round" stroke-linejoin="round"/>
<path d="M306.76,101.51 C306.84,103.48 306.26,109.93 307.21,113.35 C308.15,116.76 310.41,117.88 312.43,122.01 C314.45,126.13 318.82,133.69 319.34,138.11 C319.87,142.53 316.78,149.23 315.58,148.52 C314.37,147.82 313.82,139.00 312.13,133.87 C310.43,128.74 305.85,122.05 305.38,117.76 C304.91,113.47 307.42,111.10 309.29,108.13 C311.15,105.17 315.36,103.36 316.56,99.95 C317.76,96.54 315.44,92.51 316.50,87.66 C317.55,82.82 321.83,73.69 322.90,70.90" fill="none" stroke="#86C441" stroke-width="2.09" stroke-linecap="round" stroke-linejoin="round" transform="translate(-0.3,-0.4)"/>
<path d="M306.76,101.51 C306.84,103.48 306.26,109.93 307.21,113.35 C308.15,116.76 310.41,117.88 312.43,122.01 C314.45,126.13 318.82,133.69 319.34,138.11 C319.87,142.53 316.78,149.23 315.58,148.52 C314.37,147.82 313.82,139.00 312.13,133.87 C310.43,128.74 305.85,122.05 305.38,117.76 C304.91,113.47 307.42,111.10 309.29,108.13 C311.15,105.17 315.36,103.36 316.56,99.95 C317.76,96.54 315.44,92.51 316.50,87.66 C317.55,82.82 321.83,73.69 322.90,70.90" fill="none" stroke="#c2ec8a" stroke-width="0.67" stroke-linecap="round" stroke-linejoin="round" transform="translate(-0.6,-0.8)" opacity="0.7"/>
<path d="M352.91,86.04 C351.34,87.66 347.54,93.59 343.49,95.72 C339.44,97.86 333.19,96.74 328.61,98.85 C324.04,100.96 319.44,105.47 316.05,108.38 C312.65,111.30 311.56,113.41 308.26,116.34 C304.95,119.27 299.11,122.50 296.22,125.95 C293.34,129.40 293.77,134.02 290.96,137.03 C288.15,140.03 279.82,145.29 279.35,143.99 C278.89,142.70 286.69,131.70 288.15,129.24" fill="none" stroke="#5f9a26" stroke-width="3.17" stroke-linecap="round" stroke-linejoin="round"/>
<path d="M352.91,86.04 C351.34,87.66 347.54,93.59 343.49,95.72 C339.44,97.86 333.19,96.74 328.61,98.85 C324.04,100.96 319.44,105.47 316.05,108.38 C312.65,111.30 311.56,113.41 308.26,116.34 C304.95,119.27 299.11,122.50 296.22,125.95 C293.34,129.40 293.77,134.02 290.96,137.03 C288.15,140.03 279.82,145.29 279.35,143.99 C278.89,142.70 286.69,131.70 288.15,129.24" fill="none" stroke="#86C441" stroke-width="1.96" stroke-linecap="round" stroke-linejoin="round" transform="translate(-0.3,-0.4)"/>
<path d="M352.91,86.04 C351.34,87.66 347.54,93.59 343.49,95.72 C339.44,97.86 333.19,96.74 328.61,98.85 C324.04,100.96 319.44,105.47 316.05,108.38 C312.65,111.30 311.56,113.41 308.26,116.34 C304.95,119.27 299.11,122.50 296.22,125.95 C293.34,129.40 293.77,134.02 290.96,137.03 C288.15,140.03 279.82,145.29 279.35,143.99 C278.89,142.70 286.69,131.70 288.15,129.24" fill="none" stroke="#c2ec8a" stroke-width="0.63" stroke-linecap="round" stroke-linejoin="round" transform="translate(-0.6,-0.8)" opacity="0.7"/>
<path d="M342.03,122.18 C343.10,124.44 349.44,134.54 348.46,135.74 C347.48,136.93 340.15,130.95 336.16,129.36 C332.16,127.77 328.02,125.97 324.50,126.21 C320.98,126.46 318.67,130.42 315.05,130.83 C311.43,131.24 306.49,128.12 302.76,128.67 C299.04,129.23 296.98,131.75 292.71,134.17 C288.45,136.60 277.67,142.70 277.18,143.22 C276.68,143.74 285.33,139.78 289.72,137.30 C294.11,134.81 299.93,130.99 303.51,128.31 C307.09,125.63 309.92,122.41 311.21,121.23" fill="none" stroke="#cfa93a" stroke-width="3.22" stroke-linecap="round" stroke-linejoin="round"/>
<path d="M342.03,122.18 C343.10,124.44 349.44,134.54 348.46,135.74 C347.48,136.93 340.15,130.95 336.16,129.36 C332.16,127.77 328.02,125.97 324.50,126.21 C320.98,126.46 318.67,130.42 315.05,130.83 C311.43,131.24 306.49,128.12 302.76,128.67 C299.04,129.23 296.98,131.75 292.71,134.17 C288.45,136.60 277.67,142.70 277.18,143.22 C276.68,143.74 285.33,139.78 289.72,137.30 C294.11,134.81 299.93,130.99 303.51,128.31 C307.09,125.63 309.92,122.41 311.21,121.23" fill="none" stroke="#F3D25A" stroke-width="1.99" stroke-linecap="round" stroke-linejoin="round" transform="translate(-0.3,-0.4)"/>
<path d="M342.03,122.18 C343.10,124.44 349.44,134.54 348.46,135.74 C347.48,136.93 340.15,130.95 336.16,129.36 C332.16,127.77 328.02,125.97 324.50,126.21 C320.98,126.46 318.67,130.42 315.05,130.83 C311.43,131.24 306.49,128.12 302.76,128.67 C299.04,129.23 296.98,131.75 292.71,134.17 C288.45,136.60 277.67,142.70 277.18,143.22 C276.68,143.74 285.33,139.78 289.72,137.30 C294.11,134.81 299.93,130.99 303.51,128.31 C307.09,125.63 309.92,122.41 311.21,121.23" fill="none" stroke="#fff2b0" stroke-width="0.64" stroke-linecap="round" stroke-linejoin="round" transform="translate(-0.6,-0.8)" opacity="0.7"/>
<path d="M287.13,58.61 C289.21,59.50 295.95,60.94 299.57,63.97 C303.20,66.99 305.78,73.91 308.88,76.73 C311.99,79.56 314.83,80.42 318.20,80.92 C321.57,81.42 325.76,81.46 329.09,79.74 C332.41,78.02 334.72,72.91 338.16,70.61 C341.60,68.31 346.24,67.32 349.74,65.95 C353.24,64.59 357.60,63.00 359.18,62.40" fill="none" stroke="#7b4cb3" stroke-width="3.33" stroke-linecap="round" stroke-linejoin="round"/>
<path d="M287.13,58.61 C289.21,59.50 295.95,60.94 299.57,63.97 C303.20,66.99 305.78,73.91 308.88,76.73 C311.99,79.56 314.83,80.42 318.20,80.92 C321.57,81.42 325.76,81.46 329.09,79.74 C332.41,78.02 334.72,72.91 338.16,70.61 C341.60,68.31 346.24,67.32 349.74,65.95 C353.24,64.59 357.60,63.00 359.18,62.40" fill="none" stroke="#A56FDA" stroke-width="2.06" stroke-linecap="round" stroke-linejoin="round" transform="translate(-0.3,-0.4)"/>
<path d="M287.13,58.61 C289.21,59.50 295.95,60.94 299.57,63.97 C303.20,66.99 305.78,73.91 308.88,76.73 C311.99,79.56 314.83,80.42 318.20,80.92 C321.57,81.42 325.76,81.46 329.09,79.74 C332.41,78.02 334.72,72.91 338.16,70.61 C341.60,68.31 346.24,67.32 349.74,65.95 C353.24,64.59 357.60,63.00 359.18,62.40" fill="none" stroke="#d3b6f4" stroke-width="0.67" stroke-linecap="round" stroke-linejoin="round" transform="translate(-0.6,-0.8)" opacity="0.7"/>
<path d="M352.79,82.02 C353.38,79.34 353.92,70.63 356.32,65.98 C358.72,61.32 363.60,56.14 367.21,54.06 C370.83,51.98 378.45,52.26 378.01,53.50 C377.56,54.73 368.50,57.83 364.55,61.48 C360.60,65.12 355.69,70.64 354.29,75.37 C352.88,80.11 354.65,85.61 356.13,89.87 C357.60,94.14 360.18,97.29 363.12,100.96 C366.05,104.63 374.43,110.64 373.75,111.89 C373.08,113.15 361.49,109.05 359.04,108.48" fill="none" stroke="#5f9a26" stroke-width="3.48" stroke-linecap="round" stroke-linejoin="round"/>
<path d="M352.79,82.02 C353.38,79.34 353.92,70.63 356.32,65.98 C358.72,61.32 363.60,56.14 367.21,54.06 C370.83,51.98 378.45,52.26 378.01,53.50 C377.56,54.73 368.50,57.83 364.55,61.48 C360.60,65.12 355.69,70.64 354.29,75.37 C352.88,80.11 354.65,85.61 356.13,89.87 C357.60,94.14 360.18,97.29 363.12,100.96 C366.05,104.63 374.43,110.64 373.75,111.89 C373.08,113.15 361.49,109.05 359.04,108.48" fill="none" stroke="#86C441" stroke-width="2.16" stroke-linecap="round" stroke-linejoin="round" transform="translate(-0.3,-0.4)"/>
<path d="M352.79,82.02 C353.38,79.34 353.92,70.63 356.32,65.98 C358.72,61.32 363.60,56.14 367.21,54.06 C370.83,51.98 378.45,52.26 378.01,53.50 C377.56,54.73 368.50,57.83 364.55,61.48 C360.60,65.12 355.69,70.64 354.29,75.37 C352.88,80.11 354.65,85.61 356.13,89.87 C357.60,94.14 360.18,97.29 363.12,100.96 C366.05,104.63 374.43,110.64 373.75,111.89 C373.08,113.15 361.49,109.05 359.04,108.48" fill="none" stroke="#c2ec8a" stroke-width="0.70" stroke-linecap="round" stroke-linejoin="round" transform="translate(-0.6,-0.8)" opacity="0.7"/>
<path d="M337.58,61.37 C339.47,61.62 345.51,63.66 348.92,62.89 C352.34,62.11 355.36,59.28 358.09,56.73 C360.82,54.17 363.32,50.81 365.29,47.57 C367.26,44.33 369.78,37.46 369.90,37.31 C370.02,37.17 367.06,43.46 366.02,46.72 C364.97,49.97 362.84,52.48 363.63,56.86 C364.42,61.23 369.91,67.61 370.75,72.95 C371.60,78.30 369.06,86.26 368.72,88.92" fill="none" stroke="#7b4cb3" stroke-width="3.14" stroke-linecap="round" stroke-linejoin="round"/>
<path d="M337.58,61.37 C339.47,61.62 345.51,63.66 348.92,62.89 C352.34,62.11 355.36,59.28 358.09,56.73 C360.82,54.17 363.32,50.81 365.29,47.57 C367.26,44.33 369.78,37.46 369.90,37.31 C370.02,37.17 367.06,43.46 366.02,46.72 C364.97,49.97 362.84,52.48 363.63,56.86 C364.42,61.23 369.91,67.61 370.75,72.95 C371.60,78.30 369.06,86.26 368.72,88.92" fill="none" stroke="#A56FDA" stroke-width="1.95" stroke-linecap="round" stroke-linejoin="round" transform="translate(-0.3,-0.4)"/>
<path d="M337.58,61.37 C339.47,61.62 345.51,63.66 348.92,62.89 C352.34,62.11 355.36,59.28 358.09,56.73 C360.82,54.17 363.32,50.81 365.29,47.57 C367.26,44.33 369.78,37.46 369.90,37.31 C370.02,37.17 367.06,43.46 366.02,46.72 C364.97,49.97 362.84,52.48 363.63,56.86 C364.42,61.23 369.91,67.61 370.75,72.95 C371.60,78.30 369.06,86.26 368.72,88.92" fill="none" stroke="#d3b6f4" stroke-width="0.63" stroke-linecap="round" stroke-linejoin="round" transform="translate(-0.6,-0.8)" opacity="0.7"/>
<path d="M351.43,96.65 C348.69,95.55 339.95,90.99 335.01,90.03 C330.07,89.07 325.81,91.25 321.77,90.90 C317.73,90.54 315.14,88.16 310.74,87.91 C306.35,87.67 299.67,90.39 295.40,89.43 C291.14,88.46 288.99,83.59 285.15,82.14 C281.31,80.68 275.67,82.40 272.37,80.71 C269.08,79.01 267.50,75.38 265.37,71.98 C263.24,68.58 260.55,62.26 259.58,60.31" fill="none" stroke="#5f9a26" stroke-width="3.09" stroke-linecap="round" stroke-linejoin="round"/>
<path d="M351.43,96.65 C348.69,95.55 339.95,90.99 335.01,90.03 C330.07,89.07 325.81,91.25 321.77,90.90 C317.73,90.54 315.14,88.16 310.74,87.91 C306.35,87.67 299.67,90.39 295.40,89.43 C291.14,88.46 288.99,83.59 285.15,82.14 C281.31,80.68 275.67,82.40 272.37,80.71 C269.08,79.01 267.50,75.38 265.37,71.98 C263.24,68.58 260.55,62.26 259.58,60.31" fill="none" stroke="#86C441" stroke-width="1.91" stroke-linecap="round" stroke-linejoin="round" transform="translate(-0.3,-0.4)"/>
<path d="M351.43,96.65 C348.69,95.55 339.95,90.99 335.01,90.03 C330.07,89.07 325.81,91.25 321.77,90.90 C317.73,90.54 315.14,88.16 310.74,87.91 C306.35,87.67 299.67,90.39 295.40,89.43 C291.14,88.46 288.99,83.59 285.15,82.14 C281.31,80.68 275.67,82.40 272.37,80.71 C269.08,79.01 267.50,75.38 265.37,71.98 C263.24,68.58 260.55,62.26 259.58,60.31" fill="none" stroke="#c2ec8a" stroke-width="0.62" stroke-linecap="round" stroke-linejoin="round" transform="translate(-0.6,-0.8)" opacity="0.7"/>
<path d="M267.76,43.98 C269.28,42.09 275.18,37.30 276.86,32.64 C278.54,27.97 276.34,16.56 277.84,15.96 C279.34,15.36 283.14,25.16 285.84,29.03 C288.55,32.90 290.47,36.42 294.05,39.21 C297.63,42.00 303.13,43.41 307.32,45.78 C311.50,48.16 314.72,52.63 319.16,53.48 C323.60,54.34 329.11,51.97 333.95,50.91 C338.80,49.86 342.95,48.10 348.22,47.17 C353.49,46.23 362.68,45.63 365.57,45.32" fill="none" stroke="#7b4cb3" stroke-width="3.11" stroke-linecap="round" stroke-linejoin="round"/>
<path d="M267.76,43.98 C269.28,42.09 275.18,37.30 276.86,32.64 C278.54,27.97 276.34,16.56 277.84,15.96 C279.34,15.36 283.14,25.16 285.84,29.03 C288.55,32.90 290.47,36.42 294.05,39.21 C297.63,42.00 303.13,43.41 307.32,45.78 C311.50,48.16 314.72,52.63 319.16,53.48 C323.60,54.34 329.11,51.97 333.95,50.91 C338.80,49.86 342.95,48.10 348.22,47.17 C353.49,46.23 362.68,45.63 365.57,45.32" fill="none" stroke="#A56FDA" stroke-width="1.93" stroke-linecap="round" stroke-linejoin="round" transform="translate(-0.3,-0.4)"/>
<path d="M267.76,43.98 C269.28,42.09 275.18,37.30 276.86,32.64 C278.54,27.97 276.34,16.56 277.84,15.96 C279.34,15.36 283.14,25.16 285.84,29.03 C288.55,32.90 290.47,36.42 294.05,39.21 C297.63,42.00 303.13,43.41 307.32,45.78 C311.50,48.16 314.72,52.63 319.16,53.48 C323.60,54.34 329.11,51.97 333.95,50.91 C338.80,49.86 342.95,48.10 348.22,47.17 C353.49,46.23 362.68,45.63 365.57,45.32" fill="none" stroke="#d3b6f4" stroke-width="0.62" stroke-linecap="round" stroke-linejoin="round" transform="translate(-0.6,-0.8)" opacity="0.7"/>
<path d="M360.77,77.05 C358.73,77.89 352.39,81.61 348.56,82.10 C344.72,82.58 340.85,82.24 337.75,79.95 C334.66,77.67 333.66,71.78 329.99,68.39 C326.33,64.99 320.19,63.13 315.78,59.58 C311.36,56.03 306.23,51.83 303.50,47.11 C300.78,42.38 300.80,36.79 299.44,31.24 C298.07,25.68 298.26,18.37 295.31,13.77 C292.36,9.16 282.02,3.39 281.73,3.61 C281.44,3.82 291.59,13.14 293.56,15.05" fill="none" stroke="#5f9a26" stroke-width="3.23" stroke-linecap="round" stroke-linejoin="round"/>
<path d="M360.77,77.05 C358.73,77.89 352.39,81.61 348.56,82.10 C344.72,82.58 340.85,82.24 337.75,79.95 C334.66,77.67 333.66,71.78 329.99,68.39 C326.33,64.99 320.19,63.13 315.78,59.58 C311.36,56.03 306.23,51.83 303.50,47.11 C300.78,42.38 300.80,36.79 299.44,31.24 C298.07,25.68 298.26,18.37 295.31,13.77 C292.36,9.16 282.02,3.39 281.73,3.61 C281.44,3.82 291.59,13.14 293.56,15.05" fill="none" stroke="#86C441" stroke-width="2.01" stroke-linecap="round" stroke-linejoin="round" transform="translate(-0.3,-0.4)"/>
<path d="M360.77,77.05 C358.73,77.89 352.39,81.61 348.56,82.10 C344.72,82.58 340.85,82.24 337.75,79.95 C334.66,77.67 333.66,71.78 329.99,68.39 C326.33,64.99 320.19,63.13 315.78,59.58 C311.36,56.03 306.23,51.83 303.50,47.11 C300.78,42.38 300.80,36.79 299.44,31.24 C298.07,25.68 298.26,18.37 295.31,13.77 C292.36,9.16 282.02,3.39 281.73,3.61 C281.44,3.82 291.59,13.14 293.56,15.05" fill="none" stroke="#c2ec8a" stroke-width="0.65" stroke-linecap="round" stroke-linejoin="round" transform="translate(-0.6,-0.8)" opacity="0.7"/>
<path d="M327.12,60.65 C328.27,62.77 332.77,68.91 334.00,73.35 C335.23,77.79 333.24,82.49 334.51,87.27 C335.79,92.05 340.77,96.90 341.64,102.03 C342.51,107.17 340.62,112.59 339.74,118.09 C338.86,123.58 338.09,130.72 336.36,135.00 C334.64,139.28 332.00,143.22 329.38,143.78 C326.76,144.34 322.09,139.26 320.63,138.36" fill="none" stroke="#7b4cb3" stroke-width="3.27" stroke-linecap="round" stroke-linejoin="round"/>
<path d="M327.12,60.65 C328.27,62.77 332.77,68.91 334.00,73.35 C335.23,77.79 333.24,82.49 334.51,87.27 C335.79,92.05 340.77,96.90 341.64,102.03 C342.51,107.17 340.62,112.59 339.74,118.09 C338.86,123.58 338.09,130.72 336.36,135.00 C334.64,139.28 332.00,143.22 329.38,143.78 C326.76,144.34 322.09,139.26 320.63,138.36" fill="none" stroke="#A56FDA" stroke-width="2.03" stroke-linecap="round" stroke-linejoin="round" transform="translate(-0.3,-0.4)"/>
<path d="M327.12,60.65 C328.27,62.77 332.77,68.91 334.00,73.35 C335.23,77.79 333.24,82.49 334.51,87.27 C335.79,92.05 340.77,96.90 341.64,102.03 C342.51,107.17 340.62,112.59 339.74,118.09 C338.86,123.58 338.09,130.72 336.36,135.00 C334.64,139.28 332.00,143.22 329.38,143.78 C326.76,144.34 322.09,139.26 320.63,138.36" fill="none" stroke="#d3b6f4" stroke-width="0.65" stroke-linecap="round" stroke-linejoin="round" transform="translate(-0.6,-0.8)" opacity="0.7"/>
<path d="M319.88,62.61 C322.26,63.59 329.59,66.76 334.16,68.51 C338.73,70.25 342.70,73.14 347.29,73.10 C351.88,73.07 357.29,69.65 361.70,68.29 C366.12,66.93 369.12,64.19 373.78,64.94 C378.44,65.70 388.53,73.10 389.69,72.84 C390.84,72.58 384.97,65.37 380.71,63.40 C376.45,61.43 368.56,63.35 364.12,61.04 C359.69,58.73 357.57,52.18 354.10,49.53 C350.63,46.87 345.09,45.84 343.29,45.11" fill="none" stroke="#7b4cb3" stroke-width="3.43" stroke-linecap="round" stroke-linejoin="round"/>
<path d="M319.88,62.61 C322.26,63.59 329.59,66.76 334.16,68.51 C338.73,70.25 342.70,73.14 347.29,73.10 C351.88,73.07 357.29,69.65 361.70,68.29 C366.12,66.93 369.12,64.19 373.78,64.94 C378.44,65.70 388.53,73.10 389.69,72.84 C390.84,72.58 384.97,65.37 380.71,63.40 C376.45,61.43 368.56,63.35 364.12,61.04 C359.69,58.73 357.57,52.18 354.10,49.53 C350.63,46.87 345.09,45.84 343.29,45.11" fill="none" stroke="#A56FDA" stroke-width="2.13" stroke-linecap="round" stroke-linejoin="round" transform="translate(-0.3,-0.4)"/>
<path d="M319.88,62.61 C322.26,63.59 329.59,66.76 334.16,68.51 C338.73,70.25 342.70,73.14 347.29,73.10 C351.88,73.07 357.29,69.65 361.70,68.29 C366.12,66.93 369.12,64.19 373.78,64.94 C378.44,65.70 388.53,73.10 389.69,72.84 C390.84,72.58 384.97,65.37 380.71,63.40 C376.45,61.43 368.56,63.35 364.12,61.04 C359.69,58.73 357.57,52.18 354.10,49.53 C350.63,46.87 345.09,45.84 343.29,45.11" fill="none" stroke="#d3b6f4" stroke-width="0.69" stroke-linecap="round" stroke-linejoin="round" transform="translate(-0.6,-0.8)" opacity="0.7"/>
<path d="M298.99,73.68 C297.08,75.25 290.59,80.02 287.50,83.12 C284.41,86.23 284.19,90.45 280.45,92.30 C276.70,94.15 269.68,94.44 265.03,94.22 C260.39,94.00 256.85,91.41 252.57,90.98 C248.28,90.55 239.30,91.39 239.32,91.64 C239.34,91.88 248.60,91.12 252.69,92.45 C256.78,93.79 259.93,97.32 263.84,99.65 C267.75,101.98 274.09,105.31 276.14,106.44" fill="none" stroke="#cfa93a" stroke-width="3.09" stroke-linecap="round" stroke-linejoin="round"/>
<path d="M298.99,73.68 C297.08,75.25 290.59,80.02 287.50,83.12 C284.41,86.23 284.19,90.45 280.45,92.30 C276.70,94.15 269.68,94.44 265.03,94.22 C260.39,94.00 256.85,91.41 252.57,90.98 C248.28,90.55 239.30,91.39 239.32,91.64 C239.34,91.88 248.60,91.12 252.69,92.45 C256.78,93.79 259.93,97.32 263.84,99.65 C267.75,101.98 274.09,105.31 276.14,106.44" fill="none" stroke="#F3D25A" stroke-width="1.91" stroke-linecap="round" stroke-linejoin="round" transform="translate(-0.3,-0.4)"/>
<path d="M298.99,73.68 C297.08,75.25 290.59,80.02 287.50,83.12 C284.41,86.23 284.19,90.45 280.45,92.30 C276.70,94.15 269.68,94.44 265.03,94.22 C260.39,94.00 256.85,91.41 252.57,90.98 C248.28,90.55 239.30,91.39 239.32,91.64 C239.34,91.88 248.60,91.12 252.69,92.45 C256.78,93.79 259.93,97.32 263.84,99.65 C267.75,101.98 274.09,105.31 276.14,106.44" fill="none" stroke="#fff2b0" stroke-width="0.62" stroke-linecap="round" stroke-linejoin="round" transform="translate(-0.6,-0.8)" opacity="0.7"/>
<path d="M301.29,53.18 C298.47,53.48 288.64,55.69 284.37,54.96 C280.11,54.23 278.45,51.32 275.72,48.80 C272.98,46.29 270.58,42.79 267.98,39.89 C265.37,36.99 262.91,34.07 260.07,31.42 C257.23,28.77 250.62,24.20 250.94,24.00 C251.25,23.81 258.09,27.67 261.96,30.25 C265.82,32.83 269.63,37.25 274.10,39.50 C278.58,41.74 286.36,43.00 288.81,43.70" fill="none" stroke="#16296a" stroke-width="3.17" stroke-linecap="round" stroke-linejoin="round"/>
<path d="M301.29,53.18 C298.47,53.48 288.64,55.69 284.37,54.96 C280.11,54.23 278.45,51.32 275.72,48.80 C272.98,46.29 270.58,42.79 267.98,39.89 C265.37,36.99 262.91,34.07 260.07,31.42 C257.23,28.77 250.62,24.20 250.94,24.00 C251.25,23.81 258.09,27.67 261.96,30.25 C265.82,32.83 269.63,37.25 274.10,39.50 C278.58,41.74 286.36,43.00 288.81,43.70" fill="none" stroke="#27408F" stroke-width="1.97" stroke-linecap="round" stroke-linejoin="round" transform="translate(-0.3,-0.4)"/>
<path d="M301.29,53.18 C298.47,53.48 288.64,55.69 284.37,54.96 C280.11,54.23 278.45,51.32 275.72,48.80 C272.98,46.29 270.58,42.79 267.98,39.89 C265.37,36.99 262.91,34.07 260.07,31.42 C257.23,28.77 250.62,24.20 250.94,24.00 C251.25,23.81 258.09,27.67 261.96,30.25 C265.82,32.83 269.63,37.25 274.10,39.50 C278.58,41.74 286.36,43.00 288.81,43.70" fill="none" stroke="#5a74c0" stroke-width="0.63" stroke-linecap="round" stroke-linejoin="round" transform="translate(-0.6,-0.8)" opacity="0.7"/>
<path d="M345.94,82.46 C344.07,81.65 339.35,77.77 334.71,77.61 C330.08,77.45 322.65,81.20 318.12,81.49 C313.58,81.78 311.31,80.68 307.50,79.33 C303.69,77.97 300.01,74.33 295.25,73.37 C290.49,72.41 282.86,72.33 278.93,73.57 C275.01,74.81 274.98,78.06 271.70,80.82 C268.41,83.58 264.03,88.98 259.22,90.15 C254.42,91.32 245.59,88.21 242.86,87.82" fill="none" stroke="#5f9a26" stroke-width="3.31" stroke-linecap="round" stroke-linejoin="round"/>
<path d="M345.94,82.46 C344.07,81.65 339.35,77.77 334.71,77.61 C330.08,77.45 322.65,81.20 318.12,81.49 C313.58,81.78 311.31,80.68 307.50,79.33 C303.69,77.97 300.01,74.33 295.25,73.37 C290.49,72.41 282.86,72.33 278.93,73.57 C275.01,74.81 274.98,78.06 271.70,80.82 C268.41,83.58 264.03,88.98 259.22,90.15 C254.42,91.32 245.59,88.21 242.86,87.82" fill="none" stroke="#86C441" stroke-width="2.05" stroke-linecap="round" stroke-linejoin="round" transform="translate(-0.3,-0.4)"/>
<path d="M345.94,82.46 C344.07,81.65 339.35,77.77 334.71,77.61 C330.08,77.45 322.65,81.20 318.12,81.49 C313.58,81.78 311.31,80.68 307.50,79.33 C303.69,77.97 300.01,74.33 295.25,73.37 C290.49,72.41 282.86,72.33 278.93,73.57 C275.01,74.81 274.98,78.06 271.70,80.82 C268.41,83.58 264.03,88.98 259.22,90.15 C254.42,91.32 245.59,88.21 242.86,87.82" fill="none" stroke="#c2ec8a" stroke-width="0.66" stroke-linecap="round" stroke-linejoin="round" transform="translate(-0.6,-0.8)" opacity="0.7"/>
<path d="M318.57,91.72 C320.39,93.51 325.97,98.29 329.53,102.49 C333.09,106.68 338.61,111.52 339.93,116.89 C341.26,122.25 337.81,128.93 337.49,134.66 C337.16,140.39 337.95,151.51 338.00,151.28 C338.05,151.05 339.28,138.03 337.76,133.30 C336.24,128.57 332.28,126.27 328.86,122.89 C325.44,119.50 322.08,115.40 317.26,112.99 C312.43,110.59 304.92,108.78 299.92,108.48 C294.91,108.18 290.91,109.19 287.24,111.18 C283.57,113.18 279.46,118.90 277.90,120.45" fill="none" stroke="#cfa93a" stroke-width="3.33" stroke-linecap="round" stroke-linejoin="round"/>
<path d="M318.57,91.72 C320.39,93.51 325.97,98.29 329.53,102.49 C333.09,106.68 338.61,111.52 339.93,116.89 C341.26,122.25 337.81,128.93 337.49,134.66 C337.16,140.39 337.95,151.51 338.00,151.28 C338.05,151.05 339.28,138.03 337.76,133.30 C336.24,128.57 332.28,126.27 328.86,122.89 C325.44,119.50 322.08,115.40 317.26,112.99 C312.43,110.59 304.92,108.78 299.92,108.48 C294.91,108.18 290.91,109.19 287.24,111.18 C283.57,113.18 279.46,118.90 277.90,120.45" fill="none" stroke="#F3D25A" stroke-width="2.07" stroke-linecap="round" stroke-linejoin="round" transform="translate(-0.3,-0.4)"/>
<path d="M318.57,91.72 C320.39,93.51 325.97,98.29 329.53,102.49 C333.09,106.68 338.61,111.52 339.93,116.89 C341.26,122.25 337.81,128.93 337.49,134.66 C337.16,140.39 337.95,151.51 338.00,151.28 C338.05,151.05 339.28,138.03 337.76,133.30 C336.24,128.57 332.28,126.27 328.86,122.89 C325.44,119.50 322.08,115.40 317.26,112.99 C312.43,110.59 304.92,108.78 299.92,108.48 C294.91,108.18 290.91,109.19 287.24,111.18 C283.57,113.18 279.46,118.90 277.90,120.45" fill="none" stroke="#fff2b0" stroke-width="0.67" stroke-linecap="round" stroke-linejoin="round" transform="translate(-0.6,-0.8)" opacity="0.7"/>
<path d="M333.57,118.31 C332.05,115.77 327.56,107.97 324.49,103.05 C321.42,98.12 317.90,92.59 315.15,88.76 C312.41,84.92 310.90,82.85 308.03,80.05 C305.17,77.25 300.65,75.95 297.97,71.93 C295.29,67.92 294.81,59.86 291.95,55.97 C289.10,52.09 285.01,51.72 280.86,48.63 C276.71,45.54 270.12,40.90 267.05,37.41 C263.97,33.92 263.18,29.33 262.40,27.71" fill="none" stroke="#cfa93a" stroke-width="3.04" stroke-linecap="round" stroke-linejoin="round"/>
<path d="M333.57,118.31 C332.05,115.77 327.56,107.97 324.49,103.05 C321.42,98.12 317.90,92.59 315.15,88.76 C312.41,84.92 310.90,82.85 308.03,80.05 C305.17,77.25 300.65,75.95 297.97,71.93 C295.29,67.92 294.81,59.86 291.95,55.97 C289.10,52.09 285.01,51.72 280.86,48.63 C276.71,45.54 270.12,40.90 267.05,37.41 C263.97,33.92 263.18,29.33 262.40,27.71" fill="none" stroke="#F3D25A" stroke-width="1.89" stroke-linecap="round" stroke-linejoin="round" transform="translate(-0.3,-0.4)"/>
<path d="M333.57,118.31 C332.05,115.77 327.56,107.97 324.49,103.05 C321.42,98.12 317.90,92.59 315.15,88.76 C312.41,84.92 310.90,82.85 308.03,80.05 C305.17,77.25 300.65,75.95 297.97,71.93 C295.29,67.92 294.81,59.86 291.95,55.97 C289.10,52.09 285.01,51.72 280.86,48.63 C276.71,45.54 270.12,40.90 267.05,37.41 C263.97,33.92 263.18,29.33 262.40,27.71" fill="none" stroke="#fff2b0" stroke-width="0.61" stroke-linecap="round" stroke-linejoin="round" transform="translate(-0.6,-0.8)" opacity="0.7"/>
<path d="M336.09,90.48 C335.05,88.70 331.06,83.58 329.85,79.82 C328.64,76.05 329.39,71.57 328.83,67.89 C328.28,64.20 328.33,61.18 326.53,57.71 C324.73,54.24 320.69,50.76 318.03,47.08 C315.36,43.40 311.80,39.36 310.51,35.65 C309.22,31.94 309.37,28.23 310.29,24.82 C311.22,21.41 312.83,17.44 316.07,15.18 C319.31,12.92 328.77,9.44 329.72,11.28 C330.67,13.11 325.18,22.97 321.76,26.20 C318.34,29.42 311.30,29.88 309.21,30.62" fill="none" stroke="#16296a" stroke-width="3.28" stroke-linecap="round" stroke-linejoin="round"/>
<path d="M336.09,90.48 C335.05,88.70 331.06,83.58 329.85,79.82 C328.64,76.05 329.39,71.57 328.83,67.89 C328.28,64.20 328.33,61.18 326.53,57.71 C324.73,54.24 320.69,50.76 318.03,47.08 C315.36,43.40 311.80,39.36 310.51,35.65 C309.22,31.94 309.37,28.23 310.29,24.82 C311.22,21.41 312.83,17.44 316.07,15.18 C319.31,12.92 328.77,9.44 329.72,11.28 C330.67,13.11 325.18,22.97 321.76,26.20 C318.34,29.42 311.30,29.88 309.21,30.62" fill="none" stroke="#27408F" stroke-width="2.03" stroke-linecap="round" stroke-linejoin="round" transform="translate(-0.3,-0.4)"/>
<path d="M336.09,90.48 C335.05,88.70 331.06,83.58 329.85,79.82 C328.64,76.05 329.39,71.57 328.83,67.89 C328.28,64.20 328.33,61.18 326.53,57.71 C324.73,54.24 320.69,50.76 318.03,47.08 C315.36,43.40 311.80,39.36 310.51,35.65 C309.22,31.94 309.37,28.23 310.29,24.82 C311.22,21.41 312.83,17.44 316.07,15.18 C319.31,12.92 328.77,9.44 329.72,11.28 C330.67,13.11 325.18,22.97 321.76,26.20 C318.34,29.42 311.30,29.88 309.21,30.62" fill="none" stroke="#5a74c0" stroke-width="0.66" stroke-linecap="round" stroke-linejoin="round" transform="translate(-0.6,-0.8)" opacity="0.7"/>
<path d="M330.90,35.56 C329.57,33.45 325.76,26.78 322.91,22.93 C320.05,19.07 315.65,11.50 313.75,12.41 C311.85,13.31 313.08,23.87 311.50,28.35 C309.93,32.84 306.01,35.60 304.31,39.32 C302.61,43.03 302.60,46.34 301.30,50.64 C300.00,54.94 297.85,59.91 296.52,65.13 C295.18,70.36 293.82,79.18 293.29,81.99" fill="none" stroke="#5f9a26" stroke-width="3.08" stroke-linecap="round" stroke-linejoin="round"/>
<path d="M330.90,35.56 C329.57,33.45 325.76,26.78 322.91,22.93 C320.05,19.07 315.65,11.50 313.75,12.41 C311.85,13.31 313.08,23.87 311.50,28.35 C309.93,32.84 306.01,35.60 304.31,39.32 C302.61,43.03 302.60,46.34 301.30,50.64 C300.00,54.94 297.85,59.91 296.52,65.13 C295.18,70.36 293.82,79.18 293.29,81.99" fill="none" stroke="#86C441" stroke-width="1.91" stroke-linecap="round" stroke-linejoin="round" transform="translate(-0.3,-0.4)"/>
<path d="M330.90,35.56 C329.57,33.45 325.76,26.78 322.91,22.93 C320.05,19.07 315.65,11.50 313.75,12.41 C311.85,13.31 313.08,23.87 311.50,28.35 C309.93,32.84 306.01,35.60 304.31,39.32 C302.61,43.03 302.60,46.34 301.30,50.64 C300.00,54.94 297.85,59.91 296.52,65.13 C295.18,70.36 293.82,79.18 293.29,81.99" fill="none" stroke="#c2ec8a" stroke-width="0.62" stroke-linecap="round" stroke-linejoin="round" transform="translate(-0.6,-0.8)" opacity="0.7"/>
<path d="M289.02,71.53 C291.00,70.95 296.93,68.43 300.92,68.05 C304.90,67.66 308.70,69.29 312.92,69.23 C317.15,69.17 321.93,68.29 326.27,67.71 C330.62,67.14 334.68,66.69 338.99,65.78 C343.31,64.88 348.40,65.17 352.14,62.27 C355.87,59.37 359.86,50.70 361.40,48.39" fill="none" stroke="#5f9a26" stroke-width="3.50" stroke-linecap="round" stroke-linejoin="round"/>
<path d="M289.02,71.53 C291.00,70.95 296.93,68.43 300.92,68.05 C304.90,67.66 308.70,69.29 312.92,69.23 C317.15,69.17 321.93,68.29 326.27,67.71 C330.62,67.14 334.68,66.69 338.99,65.78 C343.31,64.88 348.40,65.17 352.14,62.27 C355.87,59.37 359.86,50.70 361.40,48.39" fill="none" stroke="#86C441" stroke-width="2.17" stroke-linecap="round" stroke-linejoin="round" transform="translate(-0.3,-0.4)"/>
<path d="M289.02,71.53 C291.00,70.95 296.93,68.43 300.92,68.05 C304.90,67.66 308.70,69.29 312.92,69.23 C317.15,69.17 321.93,68.29 326.27,67.71 C330.62,67.14 334.68,66.69 338.99,65.78 C343.31,64.88 348.40,65.17 352.14,62.27 C355.87,59.37 359.86,50.70 361.40,48.39" fill="none" stroke="#c2ec8a" stroke-width="0.70" stroke-linecap="round" stroke-linejoin="round" transform="translate(-0.6,-0.8)" opacity="0.7"/>
<path d="M273.57,68.78 C273.28,70.46 271.97,74.27 271.84,78.89 C271.72,83.50 272.60,91.17 272.82,96.47 C273.04,101.77 273.84,106.28 273.15,110.68 C272.47,115.08 270.31,119.26 268.71,122.88 C267.10,126.50 263.51,132.61 263.52,132.40 C263.54,132.20 267.92,123.45 268.80,121.66" fill="none" stroke="#5f9a26" stroke-width="3.26" stroke-linecap="round" stroke-linejoin="round"/>
<path d="M273.57,68.78 C273.28,70.46 271.97,74.27 271.84,78.89 C271.72,83.50 272.60,91.17 272.82,96.47 C273.04,101.77 273.84,106.28 273.15,110.68 C272.47,115.08 270.31,119.26 268.71,122.88 C267.10,126.50 263.51,132.61 263.52,132.40 C263.54,132.20 267.92,123.45 268.80,121.66" fill="none" stroke="#86C441" stroke-width="2.02" stroke-linecap="round" stroke-linejoin="round" transform="translate(-0.3,-0.4)"/>
<path d="M273.57,68.78 C273.28,70.46 271.97,74.27 271.84,78.89 C271.72,83.50 272.60,91.17 272.82,96.47 C273.04,101.77 273.84,106.28 273.15,110.68 C272.47,115.08 270.31,119.26 268.71,122.88 C267.10,126.50 263.51,132.61 263.52,132.40 C263.54,132.20 267.92,123.45 268.80,121.66" fill="none" stroke="#c2ec8a" stroke-width="0.65" stroke-linecap="round" stroke-linejoin="round" transform="translate(-0.6,-0.8)" opacity="0.7"/>
<path d="M324.25,57.54 C323.75,55.26 322.25,48.78 321.25,43.89 C320.24,38.99 320.13,31.87 318.21,28.14 C316.30,24.42 313.12,23.16 309.76,21.51 C306.40,19.87 301.64,20.33 298.04,18.29 C294.43,16.24 288.86,8.92 288.15,9.23 C287.44,9.55 292.82,18.35 293.75,20.17" fill="none" stroke="#16296a" stroke-width="3.35" stroke-linecap="round" stroke-linejoin="round"/>
<path d="M324.25,57.54 C323.75,55.26 322.25,48.78 321.25,43.89 C320.24,38.99 320.13,31.87 318.21,28.14 C316.30,24.42 313.12,23.16 309.76,21.51 C306.40,19.87 301.64,20.33 298.04,18.29 C294.43,16.24 288.86,8.92 288.15,9.23 C287.44,9.55 292.82,18.35 293.75,20.17" fill="none" stroke="#27408F" stroke-width="2.08" stroke-linecap="round" stroke-linejoin="round" transform="translate(-0.3,-0.4)"/>
<path d="M324.25,57.54 C323.75,55.26 322.25,48.78 321.25,43.89 C320.24,38.99 320.13,31.87 318.21,28.14 C316.30,24.42 313.12,23.16 309.76,21.51 C306.40,19.87 301.64,20.33 298.04,18.29 C294.43,16.24 288.86,8.92 288.15,9.23 C287.44,9.55 292.82,18.35 293.75,20.17" fill="none" stroke="#5a74c0" stroke-width="0.67" stroke-linecap="round" stroke-linejoin="round" transform="translate(-0.6,-0.8)" opacity="0.7"/>
<path d="M363.70,74.10 C363.83,75.97 363.53,81.58 364.48,85.32 C365.43,89.07 369.46,92.53 369.40,96.55 C369.35,100.57 365.42,105.56 364.15,109.45 C362.89,113.33 361.48,116.14 361.84,119.86 C362.20,123.58 367.05,131.89 366.31,131.77 C365.58,131.65 361.01,122.37 357.42,119.12 C353.83,115.87 348.10,115.37 344.78,112.27 C341.46,109.17 338.70,102.48 337.48,100.52" fill="none" stroke="#7b4cb3" stroke-width="3.04" stroke-linecap="round" stroke-linejoin="round"/>
<path d="M363.70,74.10 C363.83,75.97 363.53,81.58 364.48,85.32 C365.43,89.07 369.46,92.53 369.40,96.55 C369.35,100.57 365.42,105.56 364.15,109.45 C362.89,113.33 361.48,116.14 361.84,119.86 C362.20,123.58 367.05,131.89 366.31,131.77 C365.58,131.65 361.01,122.37 357.42,119.12 C353.83,115.87 348.10,115.37 344.78,112.27 C341.46,109.17 338.70,102.48 337.48,100.52" fill="none" stroke="#A56FDA" stroke-width="1.89" stroke-linecap="round" stroke-linejoin="round" transform="translate(-0.3,-0.4)"/>
<path d="M363.70,74.10 C363.83,75.97 363.53,81.58 364.48,85.32 C365.43,89.07 369.46,92.53 369.40,96.55 C369.35,100.57 365.42,105.56 364.15,109.45 C362.89,113.33 361.48,116.14 361.84,119.86 C362.20,123.58 367.05,131.89 366.31,131.77 C365.58,131.65 361.01,122.37 357.42,119.12 C353.83,115.87 348.10,115.37 344.78,112.27 C341.46,109.17 338.70,102.48 337.48,100.52" fill="none" stroke="#d3b6f4" stroke-width="0.61" stroke-linecap="round" stroke-linejoin="round" transform="translate(-0.6,-0.8)" opacity="0.7"/>
<path d="M250.40,30.60 C250.17,33.00 249.17,40.23 249.00,45.00 C248.83,49.77 249.90,55.03 249.40,59.20 C248.90,63.37 246.57,68.20 246.00,70.00" fill="none" stroke="#16296a" stroke-width="3.10" stroke-linecap="round" stroke-linejoin="round"/>
<path d="M250.40,30.60 C250.17,33.00 249.17,40.23 249.00,45.00 C248.83,49.77 249.90,55.03 249.40,59.20 C248.90,63.37 246.57,68.20 246.00,70.00" fill="none" stroke="#27408F" stroke-width="1.92" stroke-linecap="round" stroke-linejoin="round" transform="translate(-0.3,-0.4)"/>
<path d="M250.40,30.60 C250.17,33.00 249.17,40.23 249.00,45.00 C248.83,49.77 249.90,55.03 249.40,59.20 C248.90,63.37 246.57,68.20 246.00,70.00" fill="none" stroke="#5a74c0" stroke-width="0.62" stroke-linecap="round" stroke-linejoin="round" transform="translate(-0.6,-0.8)" opacity="0.7"/>
<path d="M259.00,34.00 C260.83,32.33 266.33,26.27 270.00,24.00 C273.67,21.73 276.10,19.98 281.00,20.40 C285.90,20.82 294.90,24.23 299.40,26.50 C303.90,28.77 306.57,32.75 308.00,34.00" fill="none" stroke="#16296a" stroke-width="3.10" stroke-linecap="round" stroke-linejoin="round"/>
<path d="M259.00,34.00 C260.83,32.33 266.33,26.27 270.00,24.00 C273.67,21.73 276.10,19.98 281.00,20.40 C285.90,20.82 294.90,24.23 299.40,26.50 C303.90,28.77 306.57,32.75 308.00,34.00" fill="none" stroke="#27408F" stroke-width="1.92" stroke-linecap="round" stroke-linejoin="round" transform="translate(-0.3,-0.4)"/>
<path d="M259.00,34.00 C260.83,32.33 266.33,26.27 270.00,24.00 C273.67,21.73 276.10,19.98 281.00,20.40 C285.90,20.82 294.90,24.23 299.40,26.50 C303.90,28.77 306.57,32.75 308.00,34.00" fill="none" stroke="#5a74c0" stroke-width="0.62" stroke-linecap="round" stroke-linejoin="round" transform="translate(-0.6,-0.8)" opacity="0.7"/>
<path d="M303.50,6.10 C304.92,6.75 309.17,8.58 312.00,10.00 C314.83,11.42 319.08,13.83 320.50,14.60" fill="none" stroke="#16296a" stroke-width="3.10" stroke-linecap="round" stroke-linejoin="round"/>
<path d="M303.50,6.10 C304.92,6.75 309.17,8.58 312.00,10.00 C314.83,11.42 319.08,13.83 320.50,14.60" fill="none" stroke="#27408F" stroke-width="1.92" stroke-linecap="round" stroke-linejoin="round" transform="translate(-0.3,-0.4)"/>
<path d="M303.50,6.10 C304.92,6.75 309.17,8.58 312.00,10.00 C314.83,11.42 319.08,13.83 320.50,14.60" fill="none" stroke="#5a74c0" stroke-width="0.62" stroke-linecap="round" stroke-linejoin="round" transform="translate(-0.6,-0.8)" opacity="0.7"/>
<path d="M242.00,65.30 C245.33,64.75 255.50,62.33 262.00,62.00 C268.50,61.67 275.50,61.97 281.00,63.30 C286.50,64.63 292.67,68.88 295.00,70.00" fill="none" stroke="#16296a" stroke-width="3.10" stroke-linecap="round" stroke-linejoin="round"/>
<path d="M242.00,65.30 C245.33,64.75 255.50,62.33 262.00,62.00 C268.50,61.67 275.50,61.97 281.00,63.30 C286.50,64.63 292.67,68.88 295.00,70.00" fill="none" stroke="#27408F" stroke-width="1.92" stroke-linecap="round" stroke-linejoin="round" transform="translate(-0.3,-0.4)"/>
<path d="M242.00,65.30 C245.33,64.75 255.50,62.33 262.00,62.00 C268.50,61.67 275.50,61.97 281.00,63.30 C286.50,64.63 292.67,68.88 295.00,70.00" fill="none" stroke="#5a74c0" stroke-width="0.62" stroke-linecap="round" stroke-linejoin="round" transform="translate(-0.6,-0.8)" opacity="0.7"/>
<path d="M345.60,16.70 C348.33,18.92 356.10,24.78 362.00,30.00 C367.90,35.22 377.83,45.00 381.00,48.00" fill="none" stroke="#16296a" stroke-width="3.10" stroke-linecap="round" stroke-linejoin="round"/>
<path d="M345.60,16.70 C348.33,18.92 356.10,24.78 362.00,30.00 C367.90,35.22 377.83,45.00 381.00,48.00" fill="none" stroke="#27408F" stroke-width="1.92" stroke-linecap="round" stroke-linejoin="round" transform="translate(-0.3,-0.4)"/>
<path d="M345.60,16.70 C348.33,18.92 356.10,24.78 362.00,30.00 C367.90,35.22 377.83,45.00 381.00,48.00" fill="none" stroke="#5a74c0" stroke-width="0.62" stroke-linecap="round" stroke-linejoin="round" transform="translate(-0.6,-0.8)" opacity="0.7"/>
<path d="M349.80,20.90 C351.83,23.42 358.17,31.13 362.00,36.00 C365.83,40.87 371.00,47.75 372.80,50.10" fill="none" stroke="#16296a" stroke-width="3.10" stroke-linecap="round" stroke-linejoin="round"/>
<path d="M349.80,20.90 C351.83,23.42 358.17,31.13 362.00,36.00 C365.83,40.87 371.00,47.75 372.80,50.10" fill="none" stroke="#27408F" stroke-width="1.92" stroke-linecap="round" stroke-linejoin="round" transform="translate(-0.3,-0.4)"/>
<path d="M349.80,20.90 C351.83,23.42 358.17,31.13 362.00,36.00 C365.83,40.87 371.00,47.75 372.80,50.10" fill="none" stroke="#5a74c0" stroke-width="0.62" stroke-linecap="round" stroke-linejoin="round" transform="translate(-0.6,-0.8)" opacity="0.7"/>
<path d="M238.20,76.00 C238.17,78.00 238.00,84.27 238.00,88.00 C238.00,91.73 238.17,96.67 238.20,98.40" fill="none" stroke="#16296a" stroke-width="3.10" stroke-linecap="round" stroke-linejoin="round"/>
<path d="M238.20,76.00 C238.17,78.00 238.00,84.27 238.00,88.00 C238.00,91.73 238.17,96.67 238.20,98.40" fill="none" stroke="#27408F" stroke-width="1.92" stroke-linecap="round" stroke-linejoin="round" transform="translate(-0.3,-0.4)"/>
<path d="M238.20,76.00 C238.17,78.00 238.00,84.27 238.00,88.00 C238.00,91.73 238.17,96.67 238.20,98.40" fill="none" stroke="#5a74c0" stroke-width="0.62" stroke-linecap="round" stroke-linejoin="round" transform="translate(-0.6,-0.8)" opacity="0.7"/>
<path d="M266.70,137.20 C270.58,137.33 282.52,138.00 290.00,138.00 C297.48,138.00 304.93,137.87 311.60,137.20 C318.27,136.53 326.93,134.53 330.00,134.00" fill="none" stroke="#16296a" stroke-width="3.10" stroke-linecap="round" stroke-linejoin="round"/>
<path d="M266.70,137.20 C270.58,137.33 282.52,138.00 290.00,138.00 C297.48,138.00 304.93,137.87 311.60,137.20 C318.27,136.53 326.93,134.53 330.00,134.00" fill="none" stroke="#27408F" stroke-width="1.92" stroke-linecap="round" stroke-linejoin="round" transform="translate(-0.3,-0.4)"/>
<path d="M266.70,137.20 C270.58,137.33 282.52,138.00 290.00,138.00 C297.48,138.00 304.93,137.87 311.60,137.20 C318.27,136.53 326.93,134.53 330.00,134.00" fill="none" stroke="#5a74c0" stroke-width="0.62" stroke-linecap="round" stroke-linejoin="round" transform="translate(-0.6,-0.8)" opacity="0.7"/>
<path d="M308.00,126.10 C313.00,125.42 328.25,122.35 338.00,122.00 C347.75,121.65 361.75,123.67 366.50,124.00" fill="none" stroke="#16296a" stroke-width="3.10" stroke-linecap="round" stroke-linejoin="round"/>
<path d="M308.00,126.10 C313.00,125.42 328.25,122.35 338.00,122.00 C347.75,121.65 361.75,123.67 366.50,124.00" fill="none" stroke="#27408F" stroke-width="1.92" stroke-linecap="round" stroke-linejoin="round" transform="translate(-0.3,-0.4)"/>
<path d="M308.00,126.10 C313.00,125.42 328.25,122.35 338.00,122.00 C347.75,121.65 361.75,123.67 366.50,124.00" fill="none" stroke="#5a74c0" stroke-width="0.62" stroke-linecap="round" stroke-linejoin="round" transform="translate(-0.6,-0.8)" opacity="0.7"/>
<path d="M316.40,94.80 C317.83,97.00 322.23,104.17 325.00,108.00 C327.77,111.83 331.67,116.17 333.00,117.80" fill="none" stroke="#16296a" stroke-width="3.10" stroke-linecap="round" stroke-linejoin="round"/>
<path d="M316.40,94.80 C317.83,97.00 322.23,104.17 325.00,108.00 C327.77,111.83 331.67,116.17 333.00,117.80" fill="none" stroke="#27408F" stroke-width="1.92" stroke-linecap="round" stroke-linejoin="round" transform="translate(-0.3,-0.4)"/>
<path d="M316.40,94.80 C317.83,97.00 322.23,104.17 325.00,108.00 C327.77,111.83 331.67,116.17 333.00,117.80" fill="none" stroke="#5a74c0" stroke-width="0.62" stroke-linecap="round" stroke-linejoin="round" transform="translate(-0.6,-0.8)" opacity="0.7"/>
<path d="M349.80,105.30 C351.50,106.08 356.52,108.62 360.00,110.00 C363.48,111.38 368.92,113.00 370.70,113.60" fill="none" stroke="#16296a" stroke-width="3.10" stroke-linecap="round" stroke-linejoin="round"/>
<path d="M349.80,105.30 C351.50,106.08 356.52,108.62 360.00,110.00 C363.48,111.38 368.92,113.00 370.70,113.60" fill="none" stroke="#27408F" stroke-width="1.92" stroke-linecap="round" stroke-linejoin="round" transform="translate(-0.3,-0.4)"/>
<path d="M349.80,105.30 C351.50,106.08 356.52,108.62 360.00,110.00 C363.48,111.38 368.92,113.00 370.70,113.60" fill="none" stroke="#5a74c0" stroke-width="0.62" stroke-linecap="round" stroke-linejoin="round" transform="translate(-0.6,-0.8)" opacity="0.7"/>
<path d="M278.00,12.20 C280.83,12.00 289.73,11.00 295.00,11.00 C300.27,11.00 307.17,12.00 309.60,12.20" fill="none" stroke="#5f9a26" stroke-width="3.70" stroke-linecap="round" stroke-linejoin="round"/>
<path d="M278.00,12.20 C280.83,12.00 289.73,11.00 295.00,11.00 C300.27,11.00 307.17,12.00 309.60,12.20" fill="none" stroke="#86C441" stroke-width="2.29" stroke-linecap="round" stroke-linejoin="round" transform="translate(-0.3,-0.4)"/>
<path d="M278.00,12.20 C280.83,12.00 289.73,11.00 295.00,11.00 C300.27,11.00 307.17,12.00 309.60,12.20" fill="none" stroke="#c2ec8a" stroke-width="0.74" stroke-linecap="round" stroke-linejoin="round" transform="translate(-0.6,-0.8)" opacity="0.7"/>
<path d="M234.00,61.00 C235.33,59.50 239.27,55.02 242.00,52.00 C244.73,48.98 249.00,44.42 250.40,42.90" fill="none" stroke="#5f9a26" stroke-width="3.70" stroke-linecap="round" stroke-linejoin="round"/>
<path d="M234.00,61.00 C235.33,59.50 239.27,55.02 242.00,52.00 C244.73,48.98 249.00,44.42 250.40,42.90" fill="none" stroke="#86C441" stroke-width="2.29" stroke-linecap="round" stroke-linejoin="round" transform="translate(-0.3,-0.4)"/>
<path d="M234.00,61.00 C235.33,59.50 239.27,55.02 242.00,52.00 C244.73,48.98 249.00,44.42 250.40,42.90" fill="none" stroke="#c2ec8a" stroke-width="0.74" stroke-linecap="round" stroke-linejoin="round" transform="translate(-0.6,-0.8)" opacity="0.7"/>
<path d="M279.00,20.40 C279.17,23.00 280.00,30.57 280.00,36.00 C280.00,41.43 279.17,50.17 279.00,53.00" fill="none" stroke="#5f9a26" stroke-width="3.70" stroke-linecap="round" stroke-linejoin="round"/>
<path d="M279.00,20.40 C279.17,23.00 280.00,30.57 280.00,36.00 C280.00,41.43 279.17,50.17 279.00,53.00" fill="none" stroke="#86C441" stroke-width="2.29" stroke-linecap="round" stroke-linejoin="round" transform="translate(-0.3,-0.4)"/>
<path d="M279.00,20.40 C279.17,23.00 280.00,30.57 280.00,36.00 C280.00,41.43 279.17,50.17 279.00,53.00" fill="none" stroke="#c2ec8a" stroke-width="0.74" stroke-linecap="round" stroke-linejoin="round" transform="translate(-0.6,-0.8)" opacity="0.7"/>
<path d="M266.70,61.20 C268.08,62.33 272.62,65.20 275.00,68.00 C277.38,70.80 280.00,76.33 281.00,78.00" fill="none" stroke="#5f9a26" stroke-width="3.70" stroke-linecap="round" stroke-linejoin="round"/>
<path d="M266.70,61.20 C268.08,62.33 272.62,65.20 275.00,68.00 C277.38,70.80 280.00,76.33 281.00,78.00" fill="none" stroke="#86C441" stroke-width="2.29" stroke-linecap="round" stroke-linejoin="round" transform="translate(-0.3,-0.4)"/>
<path d="M266.70,61.20 C268.08,62.33 272.62,65.20 275.00,68.00 C277.38,70.80 280.00,76.33 281.00,78.00" fill="none" stroke="#c2ec8a" stroke-width="0.74" stroke-linecap="round" stroke-linejoin="round" transform="translate(-0.6,-0.8)" opacity="0.7"/>
<path d="M308.00,60.60 C310.08,58.85 315.28,51.50 320.50,50.10 C325.72,48.70 332.68,49.05 339.30,52.20 C345.92,55.35 356.72,66.20 360.20,69.00" fill="none" stroke="#5f9a26" stroke-width="3.70" stroke-linecap="round" stroke-linejoin="round"/>
<path d="M308.00,60.60 C310.08,58.85 315.28,51.50 320.50,50.10 C325.72,48.70 332.68,49.05 339.30,52.20 C345.92,55.35 356.72,66.20 360.20,69.00" fill="none" stroke="#86C441" stroke-width="2.29" stroke-linecap="round" stroke-linejoin="round" transform="translate(-0.3,-0.4)"/>
<path d="M308.00,60.60 C310.08,58.85 315.28,51.50 320.50,50.10 C325.72,48.70 332.68,49.05 339.30,52.20 C345.92,55.35 356.72,66.20 360.20,69.00" fill="none" stroke="#c2ec8a" stroke-width="0.74" stroke-linecap="round" stroke-linejoin="round" transform="translate(-0.6,-0.8)" opacity="0.7"/>
<path d="M374.90,41.80 C374.08,44.50 371.75,52.78 370.00,58.00 C368.25,63.22 365.33,70.58 364.40,73.10" fill="none" stroke="#5f9a26" stroke-width="3.70" stroke-linecap="round" stroke-linejoin="round"/>
<path d="M374.90,41.80 C374.08,44.50 371.75,52.78 370.00,58.00 C368.25,63.22 365.33,70.58 364.40,73.10" fill="none" stroke="#86C441" stroke-width="2.29" stroke-linecap="round" stroke-linejoin="round" transform="translate(-0.3,-0.4)"/>
<path d="M374.90,41.80 C374.08,44.50 371.75,52.78 370.00,58.00 C368.25,63.22 365.33,70.58 364.40,73.10" fill="none" stroke="#c2ec8a" stroke-width="0.74" stroke-linecap="round" stroke-linejoin="round" transform="translate(-0.6,-0.8)" opacity="0.7"/>
<path d="M379.00,60.60 C379.33,63.38 380.67,74.52 381.00,77.30" fill="none" stroke="#5f9a26" stroke-width="3.70" stroke-linecap="round" stroke-linejoin="round"/>
<path d="M379.00,60.60 C379.33,63.38 380.67,74.52 381.00,77.30" fill="none" stroke="#86C441" stroke-width="2.29" stroke-linecap="round" stroke-linejoin="round" transform="translate(-0.3,-0.4)"/>
<path d="M379.00,60.60 C379.33,63.38 380.67,74.52 381.00,77.30" fill="none" stroke="#c2ec8a" stroke-width="0.74" stroke-linecap="round" stroke-linejoin="round" transform="translate(-0.6,-0.8)" opacity="0.7"/>
<path d="M240.20,113.80 C242.23,111.92 247.30,105.40 252.40,102.50 C257.50,99.60 266.37,94.02 270.80,96.40 C275.23,98.78 276.28,110.33 279.00,116.80 C281.72,123.27 283.60,133.33 287.10,135.20 C290.60,137.07 295.92,131.40 300.00,128.00 C304.08,124.60 309.67,117.00 311.60,114.80" fill="none" stroke="#5f9a26" stroke-width="3.70" stroke-linecap="round" stroke-linejoin="round"/>
<path d="M240.20,113.80 C242.23,111.92 247.30,105.40 252.40,102.50 C257.50,99.60 266.37,94.02 270.80,96.40 C275.23,98.78 276.28,110.33 279.00,116.80 C281.72,123.27 283.60,133.33 287.10,135.20 C290.60,137.07 295.92,131.40 300.00,128.00 C304.08,124.60 309.67,117.00 311.60,114.80" fill="none" stroke="#86C441" stroke-width="2.29" stroke-linecap="round" stroke-linejoin="round" transform="translate(-0.3,-0.4)"/>
<path d="M240.20,113.80 C242.23,111.92 247.30,105.40 252.40,102.50 C257.50,99.60 266.37,94.02 270.80,96.40 C275.23,98.78 276.28,110.33 279.00,116.80 C281.72,123.27 283.60,133.33 287.10,135.20 C290.60,137.07 295.92,131.40 300.00,128.00 C304.08,124.60 309.67,117.00 311.60,114.80" fill="none" stroke="#c2ec8a" stroke-width="0.74" stroke-linecap="round" stroke-linejoin="round" transform="translate(-0.6,-0.8)" opacity="0.7"/>
<path d="M258.60,76.00 C262.17,77.67 273.55,83.28 280.00,86.00 C286.45,88.72 292.03,92.60 297.30,92.30 C302.57,92.00 309.22,85.55 311.60,84.20" fill="none" stroke="#5f9a26" stroke-width="3.70" stroke-linecap="round" stroke-linejoin="round"/>
<path d="M258.60,76.00 C262.17,77.67 273.55,83.28 280.00,86.00 C286.45,88.72 292.03,92.60 297.30,92.30 C302.57,92.00 309.22,85.55 311.60,84.20" fill="none" stroke="#86C441" stroke-width="2.29" stroke-linecap="round" stroke-linejoin="round" transform="translate(-0.3,-0.4)"/>
<path d="M258.60,76.00 C262.17,77.67 273.55,83.28 280.00,86.00 C286.45,88.72 292.03,92.60 297.30,92.30 C302.57,92.00 309.22,85.55 311.60,84.20" fill="none" stroke="#c2ec8a" stroke-width="0.74" stroke-linecap="round" stroke-linejoin="round" transform="translate(-0.6,-0.8)" opacity="0.7"/>
<path d="M308.00,111.50 C311.48,108.72 323.33,96.88 328.90,94.80 C334.47,92.72 337.57,95.52 341.40,99.00 C345.23,102.48 349.12,112.57 351.90,115.70 C354.68,118.83 354.97,122.33 358.10,117.80 C361.23,113.27 367.90,95.47 370.70,88.50 C373.50,81.53 374.20,78.08 374.90,76.00" fill="none" stroke="#5f9a26" stroke-width="3.70" stroke-linecap="round" stroke-linejoin="round"/>
<path d="M308.00,111.50 C311.48,108.72 323.33,96.88 328.90,94.80 C334.47,92.72 337.57,95.52 341.40,99.00 C345.23,102.48 349.12,112.57 351.90,115.70 C354.68,118.83 354.97,122.33 358.10,117.80 C361.23,113.27 367.90,95.47 370.70,88.50 C373.50,81.53 374.20,78.08 374.90,76.00" fill="none" stroke="#86C441" stroke-width="2.29" stroke-linecap="round" stroke-linejoin="round" transform="translate(-0.3,-0.4)"/>
<path d="M308.00,111.50 C311.48,108.72 323.33,96.88 328.90,94.80 C334.47,92.72 337.57,95.52 341.40,99.00 C345.23,102.48 349.12,112.57 351.90,115.70 C354.68,118.83 354.97,122.33 358.10,117.80 C361.23,113.27 367.90,95.47 370.70,88.50 C373.50,81.53 374.20,78.08 374.90,76.00" fill="none" stroke="#c2ec8a" stroke-width="0.74" stroke-linecap="round" stroke-linejoin="round" transform="translate(-0.6,-0.8)" opacity="0.7"/>
<path d="M341.40,138.70 C343.50,136.60 351.90,128.20 354.00,126.10" fill="none" stroke="#5f9a26" stroke-width="3.70" stroke-linecap="round" stroke-linejoin="round"/>
<path d="M341.40,138.70 C343.50,136.60 351.90,128.20 354.00,126.10" fill="none" stroke="#86C441" stroke-width="2.29" stroke-linecap="round" stroke-linejoin="round" transform="translate(-0.3,-0.4)"/>
<path d="M341.40,138.70 C343.50,136.60 351.90,128.20 354.00,126.10" fill="none" stroke="#c2ec8a" stroke-width="0.74" stroke-linecap="round" stroke-linejoin="round" transform="translate(-0.6,-0.8)" opacity="0.7"/>
<path d="M260.60,20.40 C262.50,22.00 267.60,25.57 272.00,30.00 C276.40,34.43 284.50,44.17 287.00,47.00" fill="none" stroke="#cfa93a" stroke-width="3.70" stroke-linecap="round" stroke-linejoin="round"/>
<path d="M260.60,20.40 C262.50,22.00 267.60,25.57 272.00,30.00 C276.40,34.43 284.50,44.17 287.00,47.00" fill="none" stroke="#F3D25A" stroke-width="2.29" stroke-linecap="round" stroke-linejoin="round" transform="translate(-0.3,-0.4)"/>
<path d="M260.60,20.40 C262.50,22.00 267.60,25.57 272.00,30.00 C276.40,34.43 284.50,44.17 287.00,47.00" fill="none" stroke="#fff2b0" stroke-width="0.74" stroke-linecap="round" stroke-linejoin="round" transform="translate(-0.6,-0.8)" opacity="0.7"/>
<path d="M234.00,66.30 C237.75,65.12 250.33,59.08 256.50,59.20 C262.67,59.32 267.92,63.87 271.00,67.00 C274.08,70.13 274.33,76.17 275.00,78.00" fill="none" stroke="#cfa93a" stroke-width="3.70" stroke-linecap="round" stroke-linejoin="round"/>
<path d="M234.00,66.30 C237.75,65.12 250.33,59.08 256.50,59.20 C262.67,59.32 267.92,63.87 271.00,67.00 C274.08,70.13 274.33,76.17 275.00,78.00" fill="none" stroke="#F3D25A" stroke-width="2.29" stroke-linecap="round" stroke-linejoin="round" transform="translate(-0.3,-0.4)"/>
<path d="M234.00,66.30 C237.75,65.12 250.33,59.08 256.50,59.20 C262.67,59.32 267.92,63.87 271.00,67.00 C274.08,70.13 274.33,76.17 275.00,78.00" fill="none" stroke="#fff2b0" stroke-width="0.74" stroke-linecap="round" stroke-linejoin="round" transform="translate(-0.6,-0.8)" opacity="0.7"/>
<path d="M310.00,12.50 C311.33,11.75 315.83,7.75 318.00,8.00 C320.17,8.25 322.17,13.00 323.00,14.00" fill="none" stroke="#cfa93a" stroke-width="3.70" stroke-linecap="round" stroke-linejoin="round"/>
<path d="M310.00,12.50 C311.33,11.75 315.83,7.75 318.00,8.00 C320.17,8.25 322.17,13.00 323.00,14.00" fill="none" stroke="#F3D25A" stroke-width="2.29" stroke-linecap="round" stroke-linejoin="round" transform="translate(-0.3,-0.4)"/>
<path d="M310.00,12.50 C311.33,11.75 315.83,7.75 318.00,8.00 C320.17,8.25 322.17,13.00 323.00,14.00" fill="none" stroke="#fff2b0" stroke-width="0.74" stroke-linecap="round" stroke-linejoin="round" transform="translate(-0.6,-0.8)" opacity="0.7"/>
<path d="M343.50,14.60 C343.58,17.50 344.17,26.08 344.00,32.00 C343.83,37.92 342.75,47.08 342.50,50.10" fill="none" stroke="#cfa93a" stroke-width="3.70" stroke-linecap="round" stroke-linejoin="round"/>
<path d="M343.50,14.60 C343.58,17.50 344.17,26.08 344.00,32.00 C343.83,37.92 342.75,47.08 342.50,50.10" fill="none" stroke="#F3D25A" stroke-width="2.29" stroke-linecap="round" stroke-linejoin="round" transform="translate(-0.3,-0.4)"/>
<path d="M343.50,14.60 C343.58,17.50 344.17,26.08 344.00,32.00 C343.83,37.92 342.75,47.08 342.50,50.10" fill="none" stroke="#fff2b0" stroke-width="0.74" stroke-linecap="round" stroke-linejoin="round" transform="translate(-0.6,-0.8)" opacity="0.7"/>
<path d="M345.60,56.40 C347.17,56.83 351.87,58.30 355.00,59.00 C358.13,59.70 362.83,60.33 364.40,60.60" fill="none" stroke="#cfa93a" stroke-width="3.70" stroke-linecap="round" stroke-linejoin="round"/>
<path d="M345.60,56.40 C347.17,56.83 351.87,58.30 355.00,59.00 C358.13,59.70 362.83,60.33 364.40,60.60" fill="none" stroke="#F3D25A" stroke-width="2.29" stroke-linecap="round" stroke-linejoin="round" transform="translate(-0.3,-0.4)"/>
<path d="M345.60,56.40 C347.17,56.83 351.87,58.30 355.00,59.00 C358.13,59.70 362.83,60.33 364.40,60.60" fill="none" stroke="#fff2b0" stroke-width="0.74" stroke-linecap="round" stroke-linejoin="round" transform="translate(-0.6,-0.8)" opacity="0.7"/>
<path d="M377.00,50.10 C377.67,52.25 380.33,60.85 381.00,63.00" fill="none" stroke="#cfa93a" stroke-width="3.70" stroke-linecap="round" stroke-linejoin="round"/>
<path d="M377.00,50.10 C377.67,52.25 380.33,60.85 381.00,63.00" fill="none" stroke="#F3D25A" stroke-width="2.29" stroke-linecap="round" stroke-linejoin="round" transform="translate(-0.3,-0.4)"/>
<path d="M377.00,50.10 C377.67,52.25 380.33,60.85 381.00,63.00" fill="none" stroke="#fff2b0" stroke-width="0.74" stroke-linecap="round" stroke-linejoin="round" transform="translate(-0.6,-0.8)" opacity="0.7"/>
<path d="M238.20,102.50 C240.92,99.10 250.42,85.85 254.50,82.10 C258.58,78.35 261.33,80.35 262.70,80.00" fill="none" stroke="#cfa93a" stroke-width="3.70" stroke-linecap="round" stroke-linejoin="round"/>
<path d="M238.20,102.50 C240.92,99.10 250.42,85.85 254.50,82.10 C258.58,78.35 261.33,80.35 262.70,80.00" fill="none" stroke="#F3D25A" stroke-width="2.29" stroke-linecap="round" stroke-linejoin="round" transform="translate(-0.3,-0.4)"/>
<path d="M238.20,102.50 C240.92,99.10 250.42,85.85 254.50,82.10 C258.58,78.35 261.33,80.35 262.70,80.00" fill="none" stroke="#fff2b0" stroke-width="0.74" stroke-linecap="round" stroke-linejoin="round" transform="translate(-0.6,-0.8)" opacity="0.7"/>
<path d="M277.00,112.70 C278.17,115.58 281.97,123.53 284.00,130.00 C286.03,136.47 288.33,147.92 289.20,151.50" fill="none" stroke="#cfa93a" stroke-width="3.70" stroke-linecap="round" stroke-linejoin="round"/>
<path d="M277.00,112.70 C278.17,115.58 281.97,123.53 284.00,130.00 C286.03,136.47 288.33,147.92 289.20,151.50" fill="none" stroke="#F3D25A" stroke-width="2.29" stroke-linecap="round" stroke-linejoin="round" transform="translate(-0.3,-0.4)"/>
<path d="M277.00,112.70 C278.17,115.58 281.97,123.53 284.00,130.00 C286.03,136.47 288.33,147.92 289.20,151.50" fill="none" stroke="#fff2b0" stroke-width="0.74" stroke-linecap="round" stroke-linejoin="round" transform="translate(-0.6,-0.8)" opacity="0.7"/>
<path d="M281.00,76.00 C283.33,75.67 290.83,73.67 295.00,74.00 C299.17,74.33 304.17,77.33 306.00,78.00" fill="none" stroke="#cfa93a" stroke-width="3.70" stroke-linecap="round" stroke-linejoin="round"/>
<path d="M281.00,76.00 C283.33,75.67 290.83,73.67 295.00,74.00 C299.17,74.33 304.17,77.33 306.00,78.00" fill="none" stroke="#F3D25A" stroke-width="2.29" stroke-linecap="round" stroke-linejoin="round" transform="translate(-0.3,-0.4)"/>
<path d="M281.00,76.00 C283.33,75.67 290.83,73.67 295.00,74.00 C299.17,74.33 304.17,77.33 306.00,78.00" fill="none" stroke="#fff2b0" stroke-width="0.74" stroke-linecap="round" stroke-linejoin="round" transform="translate(-0.6,-0.8)" opacity="0.7"/>
<path d="M308.00,142.90 C309.73,140.80 316.32,129.95 318.40,130.30 C320.48,130.65 320.15,142.55 320.50,145.00" fill="none" stroke="#cfa93a" stroke-width="3.70" stroke-linecap="round" stroke-linejoin="round"/>
<path d="M308.00,142.90 C309.73,140.80 316.32,129.95 318.40,130.30 C320.48,130.65 320.15,142.55 320.50,145.00" fill="none" stroke="#F3D25A" stroke-width="2.29" stroke-linecap="round" stroke-linejoin="round" transform="translate(-0.3,-0.4)"/>
<path d="M308.00,142.90 C309.73,140.80 316.32,129.95 318.40,130.30 C320.48,130.65 320.15,142.55 320.50,145.00" fill="none" stroke="#fff2b0" stroke-width="0.74" stroke-linecap="round" stroke-linejoin="round" transform="translate(-0.6,-0.8)" opacity="0.7"/>
<path d="M324.70,88.50 C326.45,87.47 333.45,83.33 335.20,82.30" fill="none" stroke="#cfa93a" stroke-width="3.70" stroke-linecap="round" stroke-linejoin="round"/>
<path d="M324.70,88.50 C326.45,87.47 333.45,83.33 335.20,82.30" fill="none" stroke="#F3D25A" stroke-width="2.29" stroke-linecap="round" stroke-linejoin="round" transform="translate(-0.3,-0.4)"/>
<path d="M324.70,88.50 C326.45,87.47 333.45,83.33 335.20,82.30" fill="none" stroke="#fff2b0" stroke-width="0.74" stroke-linecap="round" stroke-linejoin="round" transform="translate(-0.6,-0.8)" opacity="0.7"/>
<path d="M377.00,99.00 C378.73,97.25 385.67,90.25 387.40,88.50" fill="none" stroke="#cfa93a" stroke-width="3.70" stroke-linecap="round" stroke-linejoin="round"/>
<path d="M377.00,99.00 C378.73,97.25 385.67,90.25 387.40,88.50" fill="none" stroke="#F3D25A" stroke-width="2.29" stroke-linecap="round" stroke-linejoin="round" transform="translate(-0.3,-0.4)"/>
<path d="M377.00,99.00 C378.73,97.25 385.67,90.25 387.40,88.50" fill="none" stroke="#fff2b0" stroke-width="0.74" stroke-linecap="round" stroke-linejoin="round" transform="translate(-0.6,-0.8)" opacity="0.7"/>
<path d="M258.60,22.40 C258.25,27.17 255.48,44.70 256.50,51.00 C257.52,57.30 260.28,60.70 264.70,60.20 C269.12,59.70 276.88,52.08 283.00,48.00 C289.12,43.92 298.33,37.75 301.40,35.70" fill="none" stroke="#7b4cb3" stroke-width="3.70" stroke-linecap="round" stroke-linejoin="round"/>
<path d="M258.60,22.40 C258.25,27.17 255.48,44.70 256.50,51.00 C257.52,57.30 260.28,60.70 264.70,60.20 C269.12,59.70 276.88,52.08 283.00,48.00 C289.12,43.92 298.33,37.75 301.40,35.70" fill="none" stroke="#A56FDA" stroke-width="2.29" stroke-linecap="round" stroke-linejoin="round" transform="translate(-0.3,-0.4)"/>
<path d="M258.60,22.40 C258.25,27.17 255.48,44.70 256.50,51.00 C257.52,57.30 260.28,60.70 264.70,60.20 C269.12,59.70 276.88,52.08 283.00,48.00 C289.12,43.92 298.33,37.75 301.40,35.70" fill="none" stroke="#d3b6f4" stroke-width="0.74" stroke-linecap="round" stroke-linejoin="round" transform="translate(-0.6,-0.8)" opacity="0.7"/>
<path d="M277.00,77.60 C279.17,74.33 285.93,64.13 290.00,58.00 C294.07,51.87 299.50,43.67 301.40,40.80" fill="none" stroke="#7b4cb3" stroke-width="3.70" stroke-linecap="round" stroke-linejoin="round"/>
<path d="M277.00,77.60 C279.17,74.33 285.93,64.13 290.00,58.00 C294.07,51.87 299.50,43.67 301.40,40.80" fill="none" stroke="#A56FDA" stroke-width="2.29" stroke-linecap="round" stroke-linejoin="round" transform="translate(-0.3,-0.4)"/>
<path d="M277.00,77.60 C279.17,74.33 285.93,64.13 290.00,58.00 C294.07,51.87 299.50,43.67 301.40,40.80" fill="none" stroke="#d3b6f4" stroke-width="0.74" stroke-linecap="round" stroke-linejoin="round" transform="translate(-0.6,-0.8)" opacity="0.7"/>
<path d="M289.20,47.00 C292.93,47.33 307.87,48.67 311.60,49.00" fill="none" stroke="#7b4cb3" stroke-width="3.70" stroke-linecap="round" stroke-linejoin="round"/>
<path d="M289.20,47.00 C292.93,47.33 307.87,48.67 311.60,49.00" fill="none" stroke="#A56FDA" stroke-width="2.29" stroke-linecap="round" stroke-linejoin="round" transform="translate(-0.3,-0.4)"/>
<path d="M289.20,47.00 C292.93,47.33 307.87,48.67 311.60,49.00" fill="none" stroke="#d3b6f4" stroke-width="0.74" stroke-linecap="round" stroke-linejoin="round" transform="translate(-0.6,-0.8)" opacity="0.7"/>
<path d="M320.50,8.40 C323.98,8.73 340.00,7.63 341.40,10.40 C342.80,13.17 329.25,18.73 328.90,25.00 C328.55,31.27 337.57,44.17 339.30,48.00" fill="none" stroke="#7b4cb3" stroke-width="3.70" stroke-linecap="round" stroke-linejoin="round"/>
<path d="M320.50,8.40 C323.98,8.73 340.00,7.63 341.40,10.40 C342.80,13.17 329.25,18.73 328.90,25.00 C328.55,31.27 337.57,44.17 339.30,48.00" fill="none" stroke="#A56FDA" stroke-width="2.29" stroke-linecap="round" stroke-linejoin="round" transform="translate(-0.3,-0.4)"/>
<path d="M320.50,8.40 C323.98,8.73 340.00,7.63 341.40,10.40 C342.80,13.17 329.25,18.73 328.90,25.00 C328.55,31.27 337.57,44.17 339.30,48.00" fill="none" stroke="#d3b6f4" stroke-width="0.74" stroke-linecap="round" stroke-linejoin="round" transform="translate(-0.6,-0.8)" opacity="0.7"/>
<path d="M308.00,25.00 C310.33,27.17 317.47,33.82 322.00,38.00 C326.53,42.18 333.00,48.08 335.20,50.10" fill="none" stroke="#7b4cb3" stroke-width="3.70" stroke-linecap="round" stroke-linejoin="round"/>
<path d="M308.00,25.00 C310.33,27.17 317.47,33.82 322.00,38.00 C326.53,42.18 333.00,48.08 335.20,50.10" fill="none" stroke="#A56FDA" stroke-width="2.29" stroke-linecap="round" stroke-linejoin="round" transform="translate(-0.3,-0.4)"/>
<path d="M308.00,25.00 C310.33,27.17 317.47,33.82 322.00,38.00 C326.53,42.18 333.00,48.08 335.20,50.10" fill="none" stroke="#d3b6f4" stroke-width="0.74" stroke-linecap="round" stroke-linejoin="round" transform="translate(-0.6,-0.8)" opacity="0.7"/>
<path d="M349.80,33.40 C352.83,36.17 362.08,44.77 368.00,50.00 C373.92,55.23 382.42,62.33 385.30,64.80" fill="none" stroke="#7b4cb3" stroke-width="3.70" stroke-linecap="round" stroke-linejoin="round"/>
<path d="M349.80,33.40 C352.83,36.17 362.08,44.77 368.00,50.00 C373.92,55.23 382.42,62.33 385.30,64.80" fill="none" stroke="#A56FDA" stroke-width="2.29" stroke-linecap="round" stroke-linejoin="round" transform="translate(-0.3,-0.4)"/>
<path d="M349.80,33.40 C352.83,36.17 362.08,44.77 368.00,50.00 C373.92,55.23 382.42,62.33 385.30,64.80" fill="none" stroke="#d3b6f4" stroke-width="0.74" stroke-linecap="round" stroke-linejoin="round" transform="translate(-0.6,-0.8)" opacity="0.7"/>
<path d="M345.60,35.50 C346.33,37.92 348.27,45.47 350.00,50.00 C351.73,54.53 355.00,60.58 356.00,62.70" fill="none" stroke="#7b4cb3" stroke-width="3.70" stroke-linecap="round" stroke-linejoin="round"/>
<path d="M345.60,35.50 C346.33,37.92 348.27,45.47 350.00,50.00 C351.73,54.53 355.00,60.58 356.00,62.70" fill="none" stroke="#A56FDA" stroke-width="2.29" stroke-linecap="round" stroke-linejoin="round" transform="translate(-0.3,-0.4)"/>
<path d="M345.60,35.50 C346.33,37.92 348.27,45.47 350.00,50.00 C351.73,54.53 355.00,60.58 356.00,62.70" fill="none" stroke="#d3b6f4" stroke-width="0.74" stroke-linecap="round" stroke-linejoin="round" transform="translate(-0.6,-0.8)" opacity="0.7"/>
<path d="M258.60,98.40 C260.17,96.33 264.60,89.73 268.00,86.00 C271.40,82.27 277.17,77.67 279.00,76.00" fill="none" stroke="#7b4cb3" stroke-width="3.70" stroke-linecap="round" stroke-linejoin="round"/>
<path d="M258.60,98.40 C260.17,96.33 264.60,89.73 268.00,86.00 C271.40,82.27 277.17,77.67 279.00,76.00" fill="none" stroke="#A56FDA" stroke-width="2.29" stroke-linecap="round" stroke-linejoin="round" transform="translate(-0.3,-0.4)"/>
<path d="M258.60,98.40 C260.17,96.33 264.60,89.73 268.00,86.00 C271.40,82.27 277.17,77.67 279.00,76.00" fill="none" stroke="#d3b6f4" stroke-width="0.74" stroke-linecap="round" stroke-linejoin="round" transform="translate(-0.6,-0.8)" opacity="0.7"/>
<path d="M279.00,104.60 C281.83,105.50 290.57,107.97 296.00,110.00 C301.43,112.03 309.00,115.67 311.60,116.80" fill="none" stroke="#7b4cb3" stroke-width="3.70" stroke-linecap="round" stroke-linejoin="round"/>
<path d="M279.00,104.60 C281.83,105.50 290.57,107.97 296.00,110.00 C301.43,112.03 309.00,115.67 311.60,116.80" fill="none" stroke="#A56FDA" stroke-width="2.29" stroke-linecap="round" stroke-linejoin="round" transform="translate(-0.3,-0.4)"/>
<path d="M279.00,104.60 C281.83,105.50 290.57,107.97 296.00,110.00 C301.43,112.03 309.00,115.67 311.60,116.80" fill="none" stroke="#d3b6f4" stroke-width="0.74" stroke-linecap="round" stroke-linejoin="round" transform="translate(-0.6,-0.8)" opacity="0.7"/>
<path d="M281.00,146.40 C283.50,146.00 290.90,144.52 296.00,144.00 C301.10,143.48 309.00,143.42 311.60,143.30" fill="none" stroke="#7b4cb3" stroke-width="3.70" stroke-linecap="round" stroke-linejoin="round"/>
<path d="M281.00,146.40 C283.50,146.00 290.90,144.52 296.00,144.00 C301.10,143.48 309.00,143.42 311.60,143.30" fill="none" stroke="#A56FDA" stroke-width="2.29" stroke-linecap="round" stroke-linejoin="round" transform="translate(-0.3,-0.4)"/>
<path d="M281.00,146.40 C283.50,146.00 290.90,144.52 296.00,144.00 C301.10,143.48 309.00,143.42 311.60,143.30" fill="none" stroke="#d3b6f4" stroke-width="0.74" stroke-linecap="round" stroke-linejoin="round" transform="translate(-0.6,-0.8)" opacity="0.7"/>
<path d="M258.60,129.00 C260.67,130.00 268.93,134.00 271.00,135.00" fill="none" stroke="#7b4cb3" stroke-width="3.70" stroke-linecap="round" stroke-linejoin="round"/>
<path d="M258.60,129.00 C260.67,130.00 268.93,134.00 271.00,135.00" fill="none" stroke="#A56FDA" stroke-width="2.29" stroke-linecap="round" stroke-linejoin="round" transform="translate(-0.3,-0.4)"/>
<path d="M258.60,129.00 C260.67,130.00 268.93,134.00 271.00,135.00" fill="none" stroke="#d3b6f4" stroke-width="0.74" stroke-linecap="round" stroke-linejoin="round" transform="translate(-0.6,-0.8)" opacity="0.7"/>
<path d="M308.00,107.30 C312.17,109.25 324.65,115.17 333.00,119.00 C341.35,122.83 353.92,128.42 358.10,130.30" fill="none" stroke="#7b4cb3" stroke-width="3.70" stroke-linecap="round" stroke-linejoin="round"/>
<path d="M308.00,107.30 C312.17,109.25 324.65,115.17 333.00,119.00 C341.35,122.83 353.92,128.42 358.10,130.30" fill="none" stroke="#A56FDA" stroke-width="2.29" stroke-linecap="round" stroke-linejoin="round" transform="translate(-0.3,-0.4)"/>
<path d="M308.00,107.30 C312.17,109.25 324.65,115.17 333.00,119.00 C341.35,122.83 353.92,128.42 358.10,130.30" fill="none" stroke="#d3b6f4" stroke-width="0.74" stroke-linecap="round" stroke-linejoin="round" transform="translate(-0.6,-0.8)" opacity="0.7"/>
<path d="M308.00,94.80 C311.00,95.50 323.00,98.30 326.00,99.00" fill="none" stroke="#7b4cb3" stroke-width="3.70" stroke-linecap="round" stroke-linejoin="round"/>
<path d="M308.00,94.80 C311.00,95.50 323.00,98.30 326.00,99.00" fill="none" stroke="#A56FDA" stroke-width="2.29" stroke-linecap="round" stroke-linejoin="round" transform="translate(-0.3,-0.4)"/>
<path d="M308.00,94.80 C311.00,95.50 323.00,98.30 326.00,99.00" fill="none" stroke="#d3b6f4" stroke-width="0.74" stroke-linecap="round" stroke-linejoin="round" transform="translate(-0.6,-0.8)" opacity="0.7"/>
<path d="M339.30,105.30 C341.92,104.75 349.77,102.70 355.00,102.00 C360.23,101.30 367.38,98.47 370.70,101.10 C374.02,103.73 374.20,115.02 374.90,117.80" fill="none" stroke="#7b4cb3" stroke-width="3.70" stroke-linecap="round" stroke-linejoin="round"/>
<path d="M339.30,105.30 C341.92,104.75 349.77,102.70 355.00,102.00 C360.23,101.30 367.38,98.47 370.70,101.10 C374.02,103.73 374.20,115.02 374.90,117.80" fill="none" stroke="#A56FDA" stroke-width="2.29" stroke-linecap="round" stroke-linejoin="round" transform="translate(-0.3,-0.4)"/>
<path d="M339.30,105.30 C341.92,104.75 349.77,102.70 355.00,102.00 C360.23,101.30 367.38,98.47 370.70,101.10 C374.02,103.73 374.20,115.02 374.90,117.80" fill="none" stroke="#d3b6f4" stroke-width="0.74" stroke-linecap="round" stroke-linejoin="round" transform="translate(-0.6,-0.8)" opacity="0.7"/>
<path d="M308.00,82.30 C311.83,81.25 327.17,77.05 331.00,76.00" fill="none" stroke="#7b4cb3" stroke-width="3.70" stroke-linecap="round" stroke-linejoin="round"/>
<path d="M308.00,82.30 C311.83,81.25 327.17,77.05 331.00,76.00" fill="none" stroke="#A56FDA" stroke-width="2.29" stroke-linecap="round" stroke-linejoin="round" transform="translate(-0.3,-0.4)"/>
<path d="M308.00,82.30 C311.83,81.25 327.17,77.05 331.00,76.00" fill="none" stroke="#d3b6f4" stroke-width="0.74" stroke-linecap="round" stroke-linejoin="round" transform="translate(-0.6,-0.8)" opacity="0.7"/>
<path d="M339.30,76.00 C340.42,77.83 343.90,83.52 346.00,87.00 C348.10,90.48 350.92,95.25 351.90,96.90" fill="none" stroke="#7b4cb3" stroke-width="3.70" stroke-linecap="round" stroke-linejoin="round"/>
<path d="M339.30,76.00 C340.42,77.83 343.90,83.52 346.00,87.00 C348.10,90.48 350.92,95.25 351.90,96.90" fill="none" stroke="#A56FDA" stroke-width="2.29" stroke-linecap="round" stroke-linejoin="round" transform="translate(-0.3,-0.4)"/>
<path d="M339.30,76.00 C340.42,77.83 343.90,83.52 346.00,87.00 C348.10,90.48 350.92,95.25 351.90,96.90" fill="none" stroke="#d3b6f4" stroke-width="0.74" stroke-linecap="round" stroke-linejoin="round" transform="translate(-0.6,-0.8)" opacity="0.7"/>
</g>
<ellipse cx="309.6" cy="79.2" rx="79.5" ry="74.7" fill="none" stroke="#c9e6ec" stroke-width="0.8"/>
</svg>
</body></html>
